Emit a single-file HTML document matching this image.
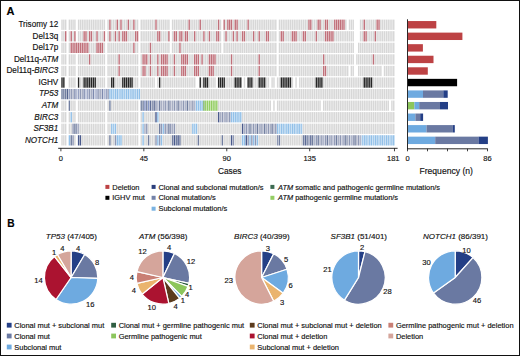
<!DOCTYPE html>
<html><head><meta charset="utf-8">
<style>
html,body{margin:0;padding:0;background:#fff;}
body{width:520px;height:356px;overflow:hidden;position:relative;}
#frame{position:absolute;left:0;top:0;width:520px;height:356px;box-sizing:border-box;border:1px solid #111;}
svg{position:absolute;left:0;top:0;font-family:"Liberation Sans", sans-serif;}
</style></head>
<body>
<svg width="520" height="356" viewBox="0 0 520 356">
<text x="6.6" y="14.6" font-size="11" text-anchor="start" font-weight="bold" font-style="normal" fill="#000" stroke="#000" stroke-width="0.15">A</text>
<text x="7.2" y="226.5" font-size="10.2" text-anchor="start" font-weight="bold" font-style="normal" fill="#000" stroke="#000" stroke-width="0.15">B</text>
<text x="58.3" y="27.10" font-size="8.15" text-anchor="end" font-weight="normal" font-style="normal" fill="#111" stroke="#111" stroke-width="0.15">Trisomy 12</text>
<text x="58.3" y="38.66" font-size="8.15" text-anchor="end" font-weight="normal" font-style="normal" fill="#111" stroke="#111" stroke-width="0.15">Del13q</text>
<text x="58.3" y="50.22" font-size="8.15" text-anchor="end" font-weight="normal" font-style="normal" fill="#111" stroke="#111" stroke-width="0.15">Del17p</text>
<text x="58.3" y="61.78" font-size="8.15" text-anchor="end" font-weight="normal" font-style="normal" fill="#111" stroke="#111" stroke-width="0.15">Del11q-<tspan font-style="italic">ATM</tspan></text>
<text x="58.3" y="73.34" font-size="8.15" text-anchor="end" font-weight="normal" font-style="normal" fill="#111" stroke="#111" stroke-width="0.15">Del11q-<tspan font-style="italic">BIRC3</tspan></text>
<text x="58.3" y="84.90" font-size="8.15" text-anchor="end" font-weight="normal" font-style="normal" fill="#111" stroke="#111" stroke-width="0.15">IGHV</text>
<text x="58.3" y="96.46" font-size="8.15" text-anchor="end" font-weight="normal" font-style="normal" fill="#111" stroke="#111" stroke-width="0.15"><tspan font-style="italic">TP53</tspan></text>
<text x="58.3" y="108.02" font-size="8.15" text-anchor="end" font-weight="normal" font-style="normal" fill="#111" stroke="#111" stroke-width="0.15"><tspan font-style="italic">ATM</tspan></text>
<text x="58.3" y="119.58" font-size="8.15" text-anchor="end" font-weight="normal" font-style="normal" fill="#111" stroke="#111" stroke-width="0.15"><tspan font-style="italic">BIRC3</tspan></text>
<text x="58.3" y="131.14" font-size="8.15" text-anchor="end" font-weight="normal" font-style="normal" fill="#111" stroke="#111" stroke-width="0.15"><tspan font-style="italic">SF3B1</tspan></text>
<text x="58.3" y="142.70" font-size="8.15" text-anchor="end" font-weight="normal" font-style="normal" fill="#111" stroke="#111" stroke-width="0.15"><tspan font-style="italic">NOTCH1</tspan></text>
<rect x="61.30" y="19.60" width="1.42" height="10.3" fill="#d7d7d7"/>
<rect x="63.14" y="19.60" width="1.42" height="10.3" fill="#d7d7d7"/>
<rect x="64.99" y="19.60" width="1.42" height="10.3" fill="#d7d7d7"/>
<rect x="68.67" y="19.60" width="1.42" height="10.3" fill="#d7d7d7"/>
<rect x="70.52" y="19.60" width="1.42" height="10.3" fill="#d7d7d7"/>
<rect x="72.36" y="19.60" width="1.42" height="10.3" fill="#d7d7d7"/>
<rect x="74.20" y="19.60" width="1.42" height="10.3" fill="#d7d7d7"/>
<rect x="77.89" y="19.60" width="1.42" height="10.3" fill="#d7d7d7"/>
<rect x="79.73" y="19.60" width="1.42" height="10.3" fill="#d7d7d7"/>
<rect x="81.57" y="19.60" width="1.42" height="10.3" fill="#d7d7d7"/>
<rect x="83.42" y="19.60" width="1.42" height="10.3" fill="#d7d7d7"/>
<rect x="85.26" y="19.60" width="1.42" height="10.3" fill="#d7d7d7"/>
<rect x="87.10" y="19.60" width="1.42" height="10.3" fill="#d7d7d7"/>
<rect x="88.94" y="19.60" width="1.42" height="10.3" fill="#d7d7d7"/>
<rect x="90.79" y="19.60" width="1.42" height="10.3" fill="#d7d7d7"/>
<rect x="92.63" y="19.60" width="1.42" height="10.3" fill="#d7d7d7"/>
<rect x="94.47" y="19.60" width="1.42" height="10.3" fill="#d7d7d7"/>
<rect x="96.32" y="19.60" width="1.42" height="10.3" fill="#d7d7d7"/>
<rect x="98.16" y="19.60" width="1.42" height="10.3" fill="#d7d7d7"/>
<rect x="100.00" y="19.60" width="1.42" height="10.3" fill="#d7d7d7"/>
<rect x="101.85" y="19.60" width="1.42" height="10.3" fill="#d7d7d7"/>
<rect x="103.69" y="19.60" width="1.42" height="10.3" fill="#d7d7d7"/>
<rect x="107.38" y="19.60" width="1.42" height="10.3" fill="#d7d7d7"/>
<rect x="109.22" y="19.60" width="1.42" height="10.3" fill="#c0707a"/>
<rect x="111.06" y="19.60" width="1.42" height="10.3" fill="#d7d7d7"/>
<rect x="112.90" y="19.60" width="1.42" height="10.3" fill="#d7d7d7"/>
<rect x="114.75" y="19.60" width="1.42" height="10.3" fill="#d7d7d7"/>
<rect x="116.59" y="19.60" width="1.42" height="10.3" fill="#c0707a"/>
<rect x="118.43" y="19.60" width="1.42" height="10.3" fill="#d7d7d7"/>
<rect x="120.28" y="19.60" width="1.42" height="10.3" fill="#c0707a"/>
<rect x="122.12" y="19.60" width="1.42" height="10.3" fill="#d7d7d7"/>
<rect x="123.96" y="19.60" width="1.42" height="10.3" fill="#d7d7d7"/>
<rect x="125.80" y="19.60" width="1.42" height="10.3" fill="#d7d7d7"/>
<rect x="127.65" y="19.60" width="1.42" height="10.3" fill="#c0707a"/>
<rect x="129.49" y="19.60" width="1.42" height="10.3" fill="#d7d7d7"/>
<rect x="131.33" y="19.60" width="1.42" height="10.3" fill="#d7d7d7"/>
<rect x="133.18" y="19.60" width="1.42" height="10.3" fill="#c0707a"/>
<rect x="135.02" y="19.60" width="1.42" height="10.3" fill="#d7d7d7"/>
<rect x="136.86" y="19.60" width="1.42" height="10.3" fill="#d7d7d7"/>
<rect x="140.55" y="19.60" width="1.42" height="10.3" fill="#d7d7d7"/>
<rect x="142.39" y="19.60" width="1.42" height="10.3" fill="#d7d7d7"/>
<rect x="144.24" y="19.60" width="1.42" height="10.3" fill="#d7d7d7"/>
<rect x="146.08" y="19.60" width="1.42" height="10.3" fill="#d7d7d7"/>
<rect x="147.92" y="19.60" width="1.42" height="10.3" fill="#d7d7d7"/>
<rect x="149.76" y="19.60" width="1.42" height="10.3" fill="#d7d7d7"/>
<rect x="151.61" y="19.60" width="1.42" height="10.3" fill="#d7d7d7"/>
<rect x="153.45" y="19.60" width="1.42" height="10.3" fill="#d7d7d7"/>
<rect x="155.29" y="19.60" width="1.42" height="10.3" fill="#c0707a"/>
<rect x="157.14" y="19.60" width="1.42" height="10.3" fill="#d7d7d7"/>
<rect x="158.98" y="19.60" width="1.42" height="10.3" fill="#d7d7d7"/>
<rect x="160.82" y="19.60" width="1.42" height="10.3" fill="#d7d7d7"/>
<rect x="162.66" y="19.60" width="1.42" height="10.3" fill="#d7d7d7"/>
<rect x="164.51" y="19.60" width="1.42" height="10.3" fill="#d7d7d7"/>
<rect x="166.35" y="19.60" width="1.42" height="10.3" fill="#d7d7d7"/>
<rect x="168.19" y="19.60" width="1.42" height="10.3" fill="#d7d7d7"/>
<rect x="171.88" y="19.60" width="1.42" height="10.3" fill="#d7d7d7"/>
<rect x="173.72" y="19.60" width="1.42" height="10.3" fill="#d7d7d7"/>
<rect x="175.57" y="19.60" width="1.42" height="10.3" fill="#d7d7d7"/>
<rect x="177.41" y="19.60" width="1.42" height="10.3" fill="#d7d7d7"/>
<rect x="179.25" y="19.60" width="1.42" height="10.3" fill="#d7d7d7"/>
<rect x="181.09" y="19.60" width="1.42" height="10.3" fill="#d7d7d7"/>
<rect x="182.94" y="19.60" width="1.42" height="10.3" fill="#d7d7d7"/>
<rect x="184.78" y="19.60" width="1.42" height="10.3" fill="#d7d7d7"/>
<rect x="186.62" y="19.60" width="1.42" height="10.3" fill="#d7d7d7"/>
<rect x="188.47" y="19.60" width="1.42" height="10.3" fill="#c0707a"/>
<rect x="190.31" y="19.60" width="1.42" height="10.3" fill="#d7d7d7"/>
<rect x="192.15" y="19.60" width="1.42" height="10.3" fill="#d7d7d7"/>
<rect x="194.00" y="19.60" width="1.42" height="10.3" fill="#d7d7d7"/>
<rect x="195.84" y="19.60" width="1.42" height="10.3" fill="#d7d7d7"/>
<rect x="197.68" y="19.60" width="1.42" height="10.3" fill="#d7d7d7"/>
<rect x="199.52" y="19.60" width="1.42" height="10.3" fill="#c0707a"/>
<rect x="201.37" y="19.60" width="1.42" height="10.3" fill="#d7d7d7"/>
<rect x="203.21" y="19.60" width="1.42" height="10.3" fill="#d7d7d7"/>
<rect x="205.05" y="19.60" width="1.42" height="10.3" fill="#d7d7d7"/>
<rect x="206.90" y="19.60" width="1.42" height="10.3" fill="#d7d7d7"/>
<rect x="208.74" y="19.60" width="1.42" height="10.3" fill="#d7d7d7"/>
<rect x="210.58" y="19.60" width="1.42" height="10.3" fill="#d7d7d7"/>
<rect x="212.43" y="19.60" width="1.42" height="10.3" fill="#d7d7d7"/>
<rect x="214.27" y="19.60" width="1.42" height="10.3" fill="#d7d7d7"/>
<rect x="216.11" y="19.60" width="1.42" height="10.3" fill="#d7d7d7"/>
<rect x="217.95" y="19.60" width="1.42" height="10.3" fill="#c0707a"/>
<rect x="219.80" y="19.60" width="1.42" height="10.3" fill="#d7d7d7"/>
<rect x="223.48" y="19.60" width="1.42" height="10.3" fill="#c0707a"/>
<rect x="225.33" y="19.60" width="1.42" height="10.3" fill="#d7d7d7"/>
<rect x="227.17" y="19.60" width="1.42" height="10.3" fill="#c0707a"/>
<rect x="229.01" y="19.60" width="1.42" height="10.3" fill="#c0707a"/>
<rect x="230.86" y="19.60" width="1.42" height="10.3" fill="#c0707a"/>
<rect x="232.70" y="19.60" width="1.42" height="10.3" fill="#d7d7d7"/>
<rect x="234.54" y="19.60" width="1.42" height="10.3" fill="#c0707a"/>
<rect x="236.38" y="19.60" width="1.42" height="10.3" fill="#c0707a"/>
<rect x="238.23" y="19.60" width="1.42" height="10.3" fill="#d7d7d7"/>
<rect x="240.07" y="19.60" width="1.42" height="10.3" fill="#d7d7d7"/>
<rect x="241.91" y="19.60" width="1.42" height="10.3" fill="#d7d7d7"/>
<rect x="243.76" y="19.60" width="1.42" height="10.3" fill="#d7d7d7"/>
<rect x="245.60" y="19.60" width="1.42" height="10.3" fill="#d7d7d7"/>
<rect x="247.44" y="19.60" width="1.42" height="10.3" fill="#c0707a"/>
<rect x="249.29" y="19.60" width="1.42" height="10.3" fill="#d7d7d7"/>
<rect x="251.13" y="19.60" width="1.42" height="10.3" fill="#d7d7d7"/>
<rect x="252.97" y="19.60" width="1.42" height="10.3" fill="#d7d7d7"/>
<rect x="254.81" y="19.60" width="1.42" height="10.3" fill="#d7d7d7"/>
<rect x="256.66" y="19.60" width="1.42" height="10.3" fill="#d7d7d7"/>
<rect x="258.50" y="19.60" width="1.42" height="10.3" fill="#d7d7d7"/>
<rect x="260.34" y="19.60" width="1.42" height="10.3" fill="#d7d7d7"/>
<rect x="262.19" y="19.60" width="1.42" height="10.3" fill="#d7d7d7"/>
<rect x="264.03" y="19.60" width="1.42" height="10.3" fill="#d7d7d7"/>
<rect x="265.87" y="19.60" width="1.42" height="10.3" fill="#d7d7d7"/>
<rect x="267.72" y="19.60" width="1.42" height="10.3" fill="#d7d7d7"/>
<rect x="269.56" y="19.60" width="1.42" height="10.3" fill="#d7d7d7"/>
<rect x="271.40" y="19.60" width="1.42" height="10.3" fill="#d7d7d7"/>
<rect x="273.25" y="19.60" width="1.42" height="10.3" fill="#d7d7d7"/>
<rect x="275.09" y="19.60" width="1.42" height="10.3" fill="#d7d7d7"/>
<rect x="278.77" y="19.60" width="1.42" height="10.3" fill="#d7d7d7"/>
<rect x="280.62" y="19.60" width="1.42" height="10.3" fill="#d7d7d7"/>
<rect x="282.46" y="19.60" width="1.42" height="10.3" fill="#d7d7d7"/>
<rect x="284.30" y="19.60" width="1.42" height="10.3" fill="#d7d7d7"/>
<rect x="286.15" y="19.60" width="1.42" height="10.3" fill="#d7d7d7"/>
<rect x="287.99" y="19.60" width="1.42" height="10.3" fill="#d7d7d7"/>
<rect x="289.83" y="19.60" width="1.42" height="10.3" fill="#d7d7d7"/>
<rect x="291.68" y="19.60" width="1.42" height="10.3" fill="#d7d7d7"/>
<rect x="293.52" y="19.60" width="1.42" height="10.3" fill="#d7d7d7"/>
<rect x="295.36" y="19.60" width="1.42" height="10.3" fill="#d7d7d7"/>
<rect x="297.20" y="19.60" width="1.42" height="10.3" fill="#d7d7d7"/>
<rect x="299.05" y="19.60" width="1.42" height="10.3" fill="#d7d7d7"/>
<rect x="300.89" y="19.60" width="1.42" height="10.3" fill="#d7d7d7"/>
<rect x="302.73" y="19.60" width="1.42" height="10.3" fill="#d7d7d7"/>
<rect x="304.58" y="19.60" width="1.42" height="10.3" fill="#d7d7d7"/>
<rect x="306.42" y="19.60" width="1.42" height="10.3" fill="#d7d7d7"/>
<rect x="308.26" y="19.60" width="1.42" height="10.3" fill="#c0707a"/>
<rect x="310.11" y="19.60" width="1.42" height="10.3" fill="#c0707a"/>
<rect x="311.95" y="19.60" width="1.42" height="10.3" fill="#d7d7d7"/>
<rect x="313.79" y="19.60" width="1.42" height="10.3" fill="#d7d7d7"/>
<rect x="315.63" y="19.60" width="1.42" height="10.3" fill="#d7d7d7"/>
<rect x="317.48" y="19.60" width="1.42" height="10.3" fill="#c0707a"/>
<rect x="319.32" y="19.60" width="1.42" height="10.3" fill="#c0707a"/>
<rect x="321.16" y="19.60" width="1.42" height="10.3" fill="#d7d7d7"/>
<rect x="323.01" y="19.60" width="1.42" height="10.3" fill="#d7d7d7"/>
<rect x="324.85" y="19.60" width="1.42" height="10.3" fill="#c0707a"/>
<rect x="326.69" y="19.60" width="1.42" height="10.3" fill="#c0707a"/>
<rect x="328.54" y="19.60" width="1.42" height="10.3" fill="#d7d7d7"/>
<rect x="330.38" y="19.60" width="1.42" height="10.3" fill="#d7d7d7"/>
<rect x="332.22" y="19.60" width="1.42" height="10.3" fill="#d7d7d7"/>
<rect x="334.06" y="19.60" width="1.42" height="10.3" fill="#c0707a"/>
<rect x="335.91" y="19.60" width="1.42" height="10.3" fill="#c0707a"/>
<rect x="337.75" y="19.60" width="1.42" height="10.3" fill="#c0707a"/>
<rect x="339.59" y="19.60" width="1.42" height="10.3" fill="#c0707a"/>
<rect x="341.44" y="19.60" width="1.42" height="10.3" fill="#c0707a"/>
<rect x="343.28" y="19.60" width="1.42" height="10.3" fill="#c0707a"/>
<rect x="345.12" y="19.60" width="1.42" height="10.3" fill="#d7d7d7"/>
<rect x="348.81" y="19.60" width="1.42" height="10.3" fill="#d7d7d7"/>
<rect x="350.65" y="19.60" width="1.42" height="10.3" fill="#d7d7d7"/>
<rect x="352.49" y="19.60" width="1.42" height="10.3" fill="#d7d7d7"/>
<rect x="359.87" y="19.60" width="1.42" height="10.3" fill="#d7d7d7"/>
<rect x="361.71" y="19.60" width="1.42" height="10.3" fill="#d7d7d7"/>
<rect x="363.55" y="19.60" width="1.42" height="10.3" fill="#c0707a"/>
<rect x="365.39" y="19.60" width="1.42" height="10.3" fill="#d7d7d7"/>
<rect x="367.24" y="19.60" width="1.42" height="10.3" fill="#d7d7d7"/>
<rect x="369.08" y="19.60" width="1.42" height="10.3" fill="#d7d7d7"/>
<rect x="370.92" y="19.60" width="1.42" height="10.3" fill="#d7d7d7"/>
<rect x="372.77" y="19.60" width="1.42" height="10.3" fill="#d7d7d7"/>
<rect x="374.61" y="19.60" width="1.42" height="10.3" fill="#d7d7d7"/>
<rect x="376.45" y="19.60" width="1.42" height="10.3" fill="#c0707a"/>
<rect x="378.30" y="19.60" width="1.42" height="10.3" fill="#c0707a"/>
<rect x="380.14" y="19.60" width="1.42" height="10.3" fill="#d7d7d7"/>
<rect x="381.98" y="19.60" width="1.42" height="10.3" fill="#d7d7d7"/>
<rect x="383.82" y="19.60" width="1.42" height="10.3" fill="#d7d7d7"/>
<rect x="385.67" y="19.60" width="1.42" height="10.3" fill="#d7d7d7"/>
<rect x="387.51" y="19.60" width="1.42" height="10.3" fill="#d7d7d7"/>
<rect x="389.35" y="19.60" width="1.42" height="10.3" fill="#d7d7d7"/>
<rect x="391.20" y="19.60" width="1.42" height="10.3" fill="#d7d7d7"/>
<rect x="393.04" y="19.60" width="1.42" height="10.3" fill="#d7d7d7"/>
<rect x="61.30" y="31.16" width="1.42" height="10.3" fill="#d7d7d7"/>
<rect x="63.14" y="31.16" width="1.42" height="10.3" fill="#d7d7d7"/>
<rect x="64.99" y="31.16" width="1.42" height="10.3" fill="#c0707a"/>
<rect x="68.67" y="31.16" width="1.42" height="10.3" fill="#d7d7d7"/>
<rect x="70.52" y="31.16" width="1.42" height="10.3" fill="#c0707a"/>
<rect x="72.36" y="31.16" width="1.42" height="10.3" fill="#d7d7d7"/>
<rect x="74.20" y="31.16" width="1.42" height="10.3" fill="#c0707a"/>
<rect x="77.89" y="31.16" width="1.42" height="10.3" fill="#d7d7d7"/>
<rect x="79.73" y="31.16" width="1.42" height="10.3" fill="#d7d7d7"/>
<rect x="81.57" y="31.16" width="1.42" height="10.3" fill="#d7d7d7"/>
<rect x="83.42" y="31.16" width="1.42" height="10.3" fill="#c0707a"/>
<rect x="85.26" y="31.16" width="1.42" height="10.3" fill="#c0707a"/>
<rect x="87.10" y="31.16" width="1.42" height="10.3" fill="#d7d7d7"/>
<rect x="88.94" y="31.16" width="1.42" height="10.3" fill="#c0707a"/>
<rect x="90.79" y="31.16" width="1.42" height="10.3" fill="#c0707a"/>
<rect x="92.63" y="31.16" width="1.42" height="10.3" fill="#d7d7d7"/>
<rect x="94.47" y="31.16" width="1.42" height="10.3" fill="#d7d7d7"/>
<rect x="96.32" y="31.16" width="1.42" height="10.3" fill="#c0707a"/>
<rect x="98.16" y="31.16" width="1.42" height="10.3" fill="#d7d7d7"/>
<rect x="100.00" y="31.16" width="1.42" height="10.3" fill="#d7d7d7"/>
<rect x="101.85" y="31.16" width="1.42" height="10.3" fill="#d7d7d7"/>
<rect x="103.69" y="31.16" width="1.42" height="10.3" fill="#c0707a"/>
<rect x="107.38" y="31.16" width="1.42" height="10.3" fill="#d7d7d7"/>
<rect x="109.22" y="31.16" width="1.42" height="10.3" fill="#c0707a"/>
<rect x="111.06" y="31.16" width="1.42" height="10.3" fill="#d7d7d7"/>
<rect x="112.90" y="31.16" width="1.42" height="10.3" fill="#d7d7d7"/>
<rect x="114.75" y="31.16" width="1.42" height="10.3" fill="#c0707a"/>
<rect x="116.59" y="31.16" width="1.42" height="10.3" fill="#d7d7d7"/>
<rect x="118.43" y="31.16" width="1.42" height="10.3" fill="#c0707a"/>
<rect x="120.28" y="31.16" width="1.42" height="10.3" fill="#d7d7d7"/>
<rect x="122.12" y="31.16" width="1.42" height="10.3" fill="#c0707a"/>
<rect x="123.96" y="31.16" width="1.42" height="10.3" fill="#c0707a"/>
<rect x="125.80" y="31.16" width="1.42" height="10.3" fill="#c0707a"/>
<rect x="127.65" y="31.16" width="1.42" height="10.3" fill="#d7d7d7"/>
<rect x="129.49" y="31.16" width="1.42" height="10.3" fill="#d7d7d7"/>
<rect x="131.33" y="31.16" width="1.42" height="10.3" fill="#d7d7d7"/>
<rect x="133.18" y="31.16" width="1.42" height="10.3" fill="#d7d7d7"/>
<rect x="135.02" y="31.16" width="1.42" height="10.3" fill="#c0707a"/>
<rect x="136.86" y="31.16" width="1.42" height="10.3" fill="#c0707a"/>
<rect x="140.55" y="31.16" width="1.42" height="10.3" fill="#d7d7d7"/>
<rect x="142.39" y="31.16" width="1.42" height="10.3" fill="#d7d7d7"/>
<rect x="144.24" y="31.16" width="1.42" height="10.3" fill="#d7d7d7"/>
<rect x="146.08" y="31.16" width="1.42" height="10.3" fill="#d7d7d7"/>
<rect x="147.92" y="31.16" width="1.42" height="10.3" fill="#d7d7d7"/>
<rect x="149.76" y="31.16" width="1.42" height="10.3" fill="#d7d7d7"/>
<rect x="151.61" y="31.16" width="1.42" height="10.3" fill="#d7d7d7"/>
<rect x="153.45" y="31.16" width="1.42" height="10.3" fill="#d7d7d7"/>
<rect x="155.29" y="31.16" width="1.42" height="10.3" fill="#d7d7d7"/>
<rect x="157.14" y="31.16" width="1.42" height="10.3" fill="#c0707a"/>
<rect x="158.98" y="31.16" width="1.42" height="10.3" fill="#c0707a"/>
<rect x="160.82" y="31.16" width="1.42" height="10.3" fill="#d7d7d7"/>
<rect x="162.66" y="31.16" width="1.42" height="10.3" fill="#d7d7d7"/>
<rect x="164.51" y="31.16" width="1.42" height="10.3" fill="#d7d7d7"/>
<rect x="166.35" y="31.16" width="1.42" height="10.3" fill="#d7d7d7"/>
<rect x="168.19" y="31.16" width="1.42" height="10.3" fill="#c0707a"/>
<rect x="171.88" y="31.16" width="1.42" height="10.3" fill="#d7d7d7"/>
<rect x="173.72" y="31.16" width="1.42" height="10.3" fill="#c0707a"/>
<rect x="175.57" y="31.16" width="1.42" height="10.3" fill="#c0707a"/>
<rect x="177.41" y="31.16" width="1.42" height="10.3" fill="#d7d7d7"/>
<rect x="179.25" y="31.16" width="1.42" height="10.3" fill="#c0707a"/>
<rect x="181.09" y="31.16" width="1.42" height="10.3" fill="#c0707a"/>
<rect x="182.94" y="31.16" width="1.42" height="10.3" fill="#d7d7d7"/>
<rect x="184.78" y="31.16" width="1.42" height="10.3" fill="#c0707a"/>
<rect x="186.62" y="31.16" width="1.42" height="10.3" fill="#c0707a"/>
<rect x="188.47" y="31.16" width="1.42" height="10.3" fill="#d7d7d7"/>
<rect x="190.31" y="31.16" width="1.42" height="10.3" fill="#d7d7d7"/>
<rect x="192.15" y="31.16" width="1.42" height="10.3" fill="#d7d7d7"/>
<rect x="194.00" y="31.16" width="1.42" height="10.3" fill="#c0707a"/>
<rect x="195.84" y="31.16" width="1.42" height="10.3" fill="#d7d7d7"/>
<rect x="197.68" y="31.16" width="1.42" height="10.3" fill="#d7d7d7"/>
<rect x="199.52" y="31.16" width="1.42" height="10.3" fill="#d7d7d7"/>
<rect x="201.37" y="31.16" width="1.42" height="10.3" fill="#d7d7d7"/>
<rect x="203.21" y="31.16" width="1.42" height="10.3" fill="#c0707a"/>
<rect x="205.05" y="31.16" width="1.42" height="10.3" fill="#d7d7d7"/>
<rect x="206.90" y="31.16" width="1.42" height="10.3" fill="#d7d7d7"/>
<rect x="208.74" y="31.16" width="1.42" height="10.3" fill="#c0707a"/>
<rect x="210.58" y="31.16" width="1.42" height="10.3" fill="#d7d7d7"/>
<rect x="212.43" y="31.16" width="1.42" height="10.3" fill="#d7d7d7"/>
<rect x="214.27" y="31.16" width="1.42" height="10.3" fill="#d7d7d7"/>
<rect x="216.11" y="31.16" width="1.42" height="10.3" fill="#c0707a"/>
<rect x="217.95" y="31.16" width="1.42" height="10.3" fill="#c0707a"/>
<rect x="219.80" y="31.16" width="1.42" height="10.3" fill="#d7d7d7"/>
<rect x="223.48" y="31.16" width="1.42" height="10.3" fill="#d7d7d7"/>
<rect x="225.33" y="31.16" width="1.42" height="10.3" fill="#c0707a"/>
<rect x="227.17" y="31.16" width="1.42" height="10.3" fill="#d7d7d7"/>
<rect x="229.01" y="31.16" width="1.42" height="10.3" fill="#d7d7d7"/>
<rect x="230.86" y="31.16" width="1.42" height="10.3" fill="#d7d7d7"/>
<rect x="232.70" y="31.16" width="1.42" height="10.3" fill="#c0707a"/>
<rect x="234.54" y="31.16" width="1.42" height="10.3" fill="#d7d7d7"/>
<rect x="236.38" y="31.16" width="1.42" height="10.3" fill="#c0707a"/>
<rect x="238.23" y="31.16" width="1.42" height="10.3" fill="#d7d7d7"/>
<rect x="240.07" y="31.16" width="1.42" height="10.3" fill="#d7d7d7"/>
<rect x="241.91" y="31.16" width="1.42" height="10.3" fill="#c0707a"/>
<rect x="243.76" y="31.16" width="1.42" height="10.3" fill="#c0707a"/>
<rect x="245.60" y="31.16" width="1.42" height="10.3" fill="#d7d7d7"/>
<rect x="247.44" y="31.16" width="1.42" height="10.3" fill="#d7d7d7"/>
<rect x="249.29" y="31.16" width="1.42" height="10.3" fill="#d7d7d7"/>
<rect x="251.13" y="31.16" width="1.42" height="10.3" fill="#d7d7d7"/>
<rect x="252.97" y="31.16" width="1.42" height="10.3" fill="#c0707a"/>
<rect x="254.81" y="31.16" width="1.42" height="10.3" fill="#d7d7d7"/>
<rect x="256.66" y="31.16" width="1.42" height="10.3" fill="#d7d7d7"/>
<rect x="258.50" y="31.16" width="1.42" height="10.3" fill="#c0707a"/>
<rect x="260.34" y="31.16" width="1.42" height="10.3" fill="#d7d7d7"/>
<rect x="262.19" y="31.16" width="1.42" height="10.3" fill="#d7d7d7"/>
<rect x="264.03" y="31.16" width="1.42" height="10.3" fill="#d7d7d7"/>
<rect x="265.87" y="31.16" width="1.42" height="10.3" fill="#c0707a"/>
<rect x="267.72" y="31.16" width="1.42" height="10.3" fill="#c0707a"/>
<rect x="269.56" y="31.16" width="1.42" height="10.3" fill="#d7d7d7"/>
<rect x="271.40" y="31.16" width="1.42" height="10.3" fill="#d7d7d7"/>
<rect x="273.25" y="31.16" width="1.42" height="10.3" fill="#d7d7d7"/>
<rect x="275.09" y="31.16" width="1.42" height="10.3" fill="#d7d7d7"/>
<rect x="278.77" y="31.16" width="1.42" height="10.3" fill="#d7d7d7"/>
<rect x="280.62" y="31.16" width="1.42" height="10.3" fill="#c0707a"/>
<rect x="282.46" y="31.16" width="1.42" height="10.3" fill="#c0707a"/>
<rect x="284.30" y="31.16" width="1.42" height="10.3" fill="#d7d7d7"/>
<rect x="286.15" y="31.16" width="1.42" height="10.3" fill="#d7d7d7"/>
<rect x="287.99" y="31.16" width="1.42" height="10.3" fill="#d7d7d7"/>
<rect x="289.83" y="31.16" width="1.42" height="10.3" fill="#d7d7d7"/>
<rect x="291.68" y="31.16" width="1.42" height="10.3" fill="#c0707a"/>
<rect x="293.52" y="31.16" width="1.42" height="10.3" fill="#c0707a"/>
<rect x="295.36" y="31.16" width="1.42" height="10.3" fill="#c0707a"/>
<rect x="297.20" y="31.16" width="1.42" height="10.3" fill="#d7d7d7"/>
<rect x="299.05" y="31.16" width="1.42" height="10.3" fill="#d7d7d7"/>
<rect x="300.89" y="31.16" width="1.42" height="10.3" fill="#d7d7d7"/>
<rect x="302.73" y="31.16" width="1.42" height="10.3" fill="#c0707a"/>
<rect x="304.58" y="31.16" width="1.42" height="10.3" fill="#c0707a"/>
<rect x="306.42" y="31.16" width="1.42" height="10.3" fill="#d7d7d7"/>
<rect x="308.26" y="31.16" width="1.42" height="10.3" fill="#d7d7d7"/>
<rect x="310.11" y="31.16" width="1.42" height="10.3" fill="#d7d7d7"/>
<rect x="311.95" y="31.16" width="1.42" height="10.3" fill="#d7d7d7"/>
<rect x="313.79" y="31.16" width="1.42" height="10.3" fill="#d7d7d7"/>
<rect x="315.63" y="31.16" width="1.42" height="10.3" fill="#c0707a"/>
<rect x="317.48" y="31.16" width="1.42" height="10.3" fill="#d7d7d7"/>
<rect x="319.32" y="31.16" width="1.42" height="10.3" fill="#d7d7d7"/>
<rect x="321.16" y="31.16" width="1.42" height="10.3" fill="#d7d7d7"/>
<rect x="323.01" y="31.16" width="1.42" height="10.3" fill="#d7d7d7"/>
<rect x="324.85" y="31.16" width="1.42" height="10.3" fill="#c0707a"/>
<rect x="326.69" y="31.16" width="1.42" height="10.3" fill="#c0707a"/>
<rect x="328.54" y="31.16" width="1.42" height="10.3" fill="#c0707a"/>
<rect x="330.38" y="31.16" width="1.42" height="10.3" fill="#c0707a"/>
<rect x="332.22" y="31.16" width="1.42" height="10.3" fill="#c0707a"/>
<rect x="334.06" y="31.16" width="1.42" height="10.3" fill="#d7d7d7"/>
<rect x="335.91" y="31.16" width="1.42" height="10.3" fill="#d7d7d7"/>
<rect x="337.75" y="31.16" width="1.42" height="10.3" fill="#d7d7d7"/>
<rect x="339.59" y="31.16" width="1.42" height="10.3" fill="#d7d7d7"/>
<rect x="341.44" y="31.16" width="1.42" height="10.3" fill="#d7d7d7"/>
<rect x="343.28" y="31.16" width="1.42" height="10.3" fill="#d7d7d7"/>
<rect x="345.12" y="31.16" width="1.42" height="10.3" fill="#d7d7d7"/>
<rect x="346.97" y="31.16" width="1.42" height="10.3" fill="#d7d7d7"/>
<rect x="348.81" y="31.16" width="1.42" height="10.3" fill="#d7d7d7"/>
<rect x="350.65" y="31.16" width="1.42" height="10.3" fill="#d7d7d7"/>
<rect x="352.49" y="31.16" width="1.42" height="10.3" fill="#d7d7d7"/>
<rect x="359.87" y="31.16" width="1.42" height="10.3" fill="#d7d7d7"/>
<rect x="361.71" y="31.16" width="1.42" height="10.3" fill="#d7d7d7"/>
<rect x="363.55" y="31.16" width="1.42" height="10.3" fill="#c0707a"/>
<rect x="365.39" y="31.16" width="1.42" height="10.3" fill="#c0707a"/>
<rect x="367.24" y="31.16" width="1.42" height="10.3" fill="#d7d7d7"/>
<rect x="369.08" y="31.16" width="1.42" height="10.3" fill="#d7d7d7"/>
<rect x="370.92" y="31.16" width="1.42" height="10.3" fill="#d7d7d7"/>
<rect x="372.77" y="31.16" width="1.42" height="10.3" fill="#d7d7d7"/>
<rect x="374.61" y="31.16" width="1.42" height="10.3" fill="#c0707a"/>
<rect x="376.45" y="31.16" width="1.42" height="10.3" fill="#d7d7d7"/>
<rect x="378.30" y="31.16" width="1.42" height="10.3" fill="#d7d7d7"/>
<rect x="380.14" y="31.16" width="1.42" height="10.3" fill="#d7d7d7"/>
<rect x="381.98" y="31.16" width="1.42" height="10.3" fill="#d7d7d7"/>
<rect x="383.82" y="31.16" width="1.42" height="10.3" fill="#d7d7d7"/>
<rect x="385.67" y="31.16" width="1.42" height="10.3" fill="#d7d7d7"/>
<rect x="387.51" y="31.16" width="1.42" height="10.3" fill="#d7d7d7"/>
<rect x="389.35" y="31.16" width="1.42" height="10.3" fill="#d7d7d7"/>
<rect x="391.20" y="31.16" width="1.42" height="10.3" fill="#d7d7d7"/>
<rect x="393.04" y="31.16" width="1.42" height="10.3" fill="#d7d7d7"/>
<rect x="61.30" y="42.72" width="1.42" height="10.3" fill="#d7d7d7"/>
<rect x="63.14" y="42.72" width="1.42" height="10.3" fill="#d7d7d7"/>
<rect x="64.99" y="42.72" width="1.42" height="10.3" fill="#d7d7d7"/>
<rect x="68.67" y="42.72" width="1.42" height="10.3" fill="#d7d7d7"/>
<rect x="70.52" y="42.72" width="1.42" height="10.3" fill="#c0707a"/>
<rect x="72.36" y="42.72" width="1.42" height="10.3" fill="#c0707a"/>
<rect x="74.20" y="42.72" width="1.42" height="10.3" fill="#c0707a"/>
<rect x="76.04" y="42.72" width="1.42" height="10.3" fill="#c0707a"/>
<rect x="77.89" y="42.72" width="1.42" height="10.3" fill="#c0707a"/>
<rect x="79.73" y="42.72" width="1.42" height="10.3" fill="#c0707a"/>
<rect x="81.57" y="42.72" width="1.42" height="10.3" fill="#c0707a"/>
<rect x="83.42" y="42.72" width="1.42" height="10.3" fill="#c0707a"/>
<rect x="85.26" y="42.72" width="1.42" height="10.3" fill="#c0707a"/>
<rect x="87.10" y="42.72" width="1.42" height="10.3" fill="#c0707a"/>
<rect x="88.94" y="42.72" width="1.42" height="10.3" fill="#d7d7d7"/>
<rect x="90.79" y="42.72" width="1.42" height="10.3" fill="#d7d7d7"/>
<rect x="92.63" y="42.72" width="1.42" height="10.3" fill="#d7d7d7"/>
<rect x="94.47" y="42.72" width="1.42" height="10.3" fill="#d7d7d7"/>
<rect x="96.32" y="42.72" width="1.42" height="10.3" fill="#c0707a"/>
<rect x="98.16" y="42.72" width="1.42" height="10.3" fill="#c0707a"/>
<rect x="100.00" y="42.72" width="1.42" height="10.3" fill="#c0707a"/>
<rect x="101.85" y="42.72" width="1.42" height="10.3" fill="#c0707a"/>
<rect x="103.69" y="42.72" width="1.42" height="10.3" fill="#d7d7d7"/>
<rect x="107.38" y="42.72" width="1.42" height="10.3" fill="#d7d7d7"/>
<rect x="109.22" y="42.72" width="1.42" height="10.3" fill="#d7d7d7"/>
<rect x="111.06" y="42.72" width="1.42" height="10.3" fill="#d7d7d7"/>
<rect x="112.90" y="42.72" width="1.42" height="10.3" fill="#d7d7d7"/>
<rect x="114.75" y="42.72" width="1.42" height="10.3" fill="#d7d7d7"/>
<rect x="116.59" y="42.72" width="1.42" height="10.3" fill="#d7d7d7"/>
<rect x="118.43" y="42.72" width="1.42" height="10.3" fill="#d7d7d7"/>
<rect x="120.28" y="42.72" width="1.42" height="10.3" fill="#d7d7d7"/>
<rect x="122.12" y="42.72" width="1.42" height="10.3" fill="#d7d7d7"/>
<rect x="123.96" y="42.72" width="1.42" height="10.3" fill="#d7d7d7"/>
<rect x="125.80" y="42.72" width="1.42" height="10.3" fill="#d7d7d7"/>
<rect x="127.65" y="42.72" width="1.42" height="10.3" fill="#d7d7d7"/>
<rect x="129.49" y="42.72" width="1.42" height="10.3" fill="#d7d7d7"/>
<rect x="131.33" y="42.72" width="1.42" height="10.3" fill="#d7d7d7"/>
<rect x="133.18" y="42.72" width="1.42" height="10.3" fill="#c0707a"/>
<rect x="135.02" y="42.72" width="1.42" height="10.3" fill="#d7d7d7"/>
<rect x="136.86" y="42.72" width="1.42" height="10.3" fill="#d7d7d7"/>
<rect x="140.55" y="42.72" width="1.42" height="10.3" fill="#d7d7d7"/>
<rect x="142.39" y="42.72" width="1.42" height="10.3" fill="#d7d7d7"/>
<rect x="144.24" y="42.72" width="1.42" height="10.3" fill="#d7d7d7"/>
<rect x="146.08" y="42.72" width="1.42" height="10.3" fill="#d7d7d7"/>
<rect x="147.92" y="42.72" width="1.42" height="10.3" fill="#d7d7d7"/>
<rect x="149.76" y="42.72" width="1.42" height="10.3" fill="#c0707a"/>
<rect x="151.61" y="42.72" width="1.42" height="10.3" fill="#d7d7d7"/>
<rect x="153.45" y="42.72" width="1.42" height="10.3" fill="#d7d7d7"/>
<rect x="155.29" y="42.72" width="1.42" height="10.3" fill="#d7d7d7"/>
<rect x="157.14" y="42.72" width="1.42" height="10.3" fill="#d7d7d7"/>
<rect x="158.98" y="42.72" width="1.42" height="10.3" fill="#d7d7d7"/>
<rect x="160.82" y="42.72" width="1.42" height="10.3" fill="#d7d7d7"/>
<rect x="162.66" y="42.72" width="1.42" height="10.3" fill="#d7d7d7"/>
<rect x="164.51" y="42.72" width="1.42" height="10.3" fill="#d7d7d7"/>
<rect x="166.35" y="42.72" width="1.42" height="10.3" fill="#d7d7d7"/>
<rect x="168.19" y="42.72" width="1.42" height="10.3" fill="#d7d7d7"/>
<rect x="171.88" y="42.72" width="1.42" height="10.3" fill="#d7d7d7"/>
<rect x="173.72" y="42.72" width="1.42" height="10.3" fill="#d7d7d7"/>
<rect x="175.57" y="42.72" width="1.42" height="10.3" fill="#d7d7d7"/>
<rect x="177.41" y="42.72" width="1.42" height="10.3" fill="#d7d7d7"/>
<rect x="179.25" y="42.72" width="1.42" height="10.3" fill="#c0707a"/>
<rect x="181.09" y="42.72" width="1.42" height="10.3" fill="#d7d7d7"/>
<rect x="182.94" y="42.72" width="1.42" height="10.3" fill="#d7d7d7"/>
<rect x="184.78" y="42.72" width="1.42" height="10.3" fill="#d7d7d7"/>
<rect x="186.62" y="42.72" width="1.42" height="10.3" fill="#d7d7d7"/>
<rect x="188.47" y="42.72" width="1.42" height="10.3" fill="#d7d7d7"/>
<rect x="190.31" y="42.72" width="1.42" height="10.3" fill="#d7d7d7"/>
<rect x="192.15" y="42.72" width="1.42" height="10.3" fill="#d7d7d7"/>
<rect x="194.00" y="42.72" width="1.42" height="10.3" fill="#d7d7d7"/>
<rect x="195.84" y="42.72" width="1.42" height="10.3" fill="#d7d7d7"/>
<rect x="197.68" y="42.72" width="1.42" height="10.3" fill="#d7d7d7"/>
<rect x="199.52" y="42.72" width="1.42" height="10.3" fill="#d7d7d7"/>
<rect x="201.37" y="42.72" width="1.42" height="10.3" fill="#d7d7d7"/>
<rect x="203.21" y="42.72" width="1.42" height="10.3" fill="#d7d7d7"/>
<rect x="205.05" y="42.72" width="1.42" height="10.3" fill="#d7d7d7"/>
<rect x="206.90" y="42.72" width="1.42" height="10.3" fill="#d7d7d7"/>
<rect x="208.74" y="42.72" width="1.42" height="10.3" fill="#d7d7d7"/>
<rect x="210.58" y="42.72" width="1.42" height="10.3" fill="#d7d7d7"/>
<rect x="212.43" y="42.72" width="1.42" height="10.3" fill="#d7d7d7"/>
<rect x="214.27" y="42.72" width="1.42" height="10.3" fill="#d7d7d7"/>
<rect x="216.11" y="42.72" width="1.42" height="10.3" fill="#d7d7d7"/>
<rect x="217.95" y="42.72" width="1.42" height="10.3" fill="#d7d7d7"/>
<rect x="219.80" y="42.72" width="1.42" height="10.3" fill="#d7d7d7"/>
<rect x="223.48" y="42.72" width="1.42" height="10.3" fill="#d7d7d7"/>
<rect x="225.33" y="42.72" width="1.42" height="10.3" fill="#d7d7d7"/>
<rect x="227.17" y="42.72" width="1.42" height="10.3" fill="#d7d7d7"/>
<rect x="229.01" y="42.72" width="1.42" height="10.3" fill="#d7d7d7"/>
<rect x="230.86" y="42.72" width="1.42" height="10.3" fill="#d7d7d7"/>
<rect x="232.70" y="42.72" width="1.42" height="10.3" fill="#d7d7d7"/>
<rect x="234.54" y="42.72" width="1.42" height="10.3" fill="#d7d7d7"/>
<rect x="236.38" y="42.72" width="1.42" height="10.3" fill="#d7d7d7"/>
<rect x="238.23" y="42.72" width="1.42" height="10.3" fill="#d7d7d7"/>
<rect x="240.07" y="42.72" width="1.42" height="10.3" fill="#d7d7d7"/>
<rect x="241.91" y="42.72" width="1.42" height="10.3" fill="#d7d7d7"/>
<rect x="243.76" y="42.72" width="1.42" height="10.3" fill="#d7d7d7"/>
<rect x="245.60" y="42.72" width="1.42" height="10.3" fill="#d7d7d7"/>
<rect x="247.44" y="42.72" width="1.42" height="10.3" fill="#d7d7d7"/>
<rect x="249.29" y="42.72" width="1.42" height="10.3" fill="#d7d7d7"/>
<rect x="251.13" y="42.72" width="1.42" height="10.3" fill="#d7d7d7"/>
<rect x="252.97" y="42.72" width="1.42" height="10.3" fill="#d7d7d7"/>
<rect x="254.81" y="42.72" width="1.42" height="10.3" fill="#d7d7d7"/>
<rect x="256.66" y="42.72" width="1.42" height="10.3" fill="#d7d7d7"/>
<rect x="258.50" y="42.72" width="1.42" height="10.3" fill="#d7d7d7"/>
<rect x="260.34" y="42.72" width="1.42" height="10.3" fill="#d7d7d7"/>
<rect x="262.19" y="42.72" width="1.42" height="10.3" fill="#d7d7d7"/>
<rect x="264.03" y="42.72" width="1.42" height="10.3" fill="#d7d7d7"/>
<rect x="265.87" y="42.72" width="1.42" height="10.3" fill="#d7d7d7"/>
<rect x="267.72" y="42.72" width="1.42" height="10.3" fill="#d7d7d7"/>
<rect x="269.56" y="42.72" width="1.42" height="10.3" fill="#d7d7d7"/>
<rect x="271.40" y="42.72" width="1.42" height="10.3" fill="#d7d7d7"/>
<rect x="273.25" y="42.72" width="1.42" height="10.3" fill="#d7d7d7"/>
<rect x="275.09" y="42.72" width="1.42" height="10.3" fill="#d7d7d7"/>
<rect x="278.77" y="42.72" width="1.42" height="10.3" fill="#d7d7d7"/>
<rect x="280.62" y="42.72" width="1.42" height="10.3" fill="#d7d7d7"/>
<rect x="282.46" y="42.72" width="1.42" height="10.3" fill="#d7d7d7"/>
<rect x="284.30" y="42.72" width="1.42" height="10.3" fill="#d7d7d7"/>
<rect x="286.15" y="42.72" width="1.42" height="10.3" fill="#d7d7d7"/>
<rect x="287.99" y="42.72" width="1.42" height="10.3" fill="#d7d7d7"/>
<rect x="289.83" y="42.72" width="1.42" height="10.3" fill="#d7d7d7"/>
<rect x="291.68" y="42.72" width="1.42" height="10.3" fill="#d7d7d7"/>
<rect x="293.52" y="42.72" width="1.42" height="10.3" fill="#d7d7d7"/>
<rect x="295.36" y="42.72" width="1.42" height="10.3" fill="#d7d7d7"/>
<rect x="297.20" y="42.72" width="1.42" height="10.3" fill="#d7d7d7"/>
<rect x="299.05" y="42.72" width="1.42" height="10.3" fill="#d7d7d7"/>
<rect x="300.89" y="42.72" width="1.42" height="10.3" fill="#d7d7d7"/>
<rect x="302.73" y="42.72" width="1.42" height="10.3" fill="#d7d7d7"/>
<rect x="304.58" y="42.72" width="1.42" height="10.3" fill="#d7d7d7"/>
<rect x="306.42" y="42.72" width="1.42" height="10.3" fill="#d7d7d7"/>
<rect x="308.26" y="42.72" width="1.42" height="10.3" fill="#d7d7d7"/>
<rect x="310.11" y="42.72" width="1.42" height="10.3" fill="#d7d7d7"/>
<rect x="311.95" y="42.72" width="1.42" height="10.3" fill="#d7d7d7"/>
<rect x="313.79" y="42.72" width="1.42" height="10.3" fill="#d7d7d7"/>
<rect x="315.63" y="42.72" width="1.42" height="10.3" fill="#d7d7d7"/>
<rect x="317.48" y="42.72" width="1.42" height="10.3" fill="#d7d7d7"/>
<rect x="319.32" y="42.72" width="1.42" height="10.3" fill="#d7d7d7"/>
<rect x="321.16" y="42.72" width="1.42" height="10.3" fill="#d7d7d7"/>
<rect x="323.01" y="42.72" width="1.42" height="10.3" fill="#d7d7d7"/>
<rect x="324.85" y="42.72" width="1.42" height="10.3" fill="#d7d7d7"/>
<rect x="326.69" y="42.72" width="1.42" height="10.3" fill="#d7d7d7"/>
<rect x="328.54" y="42.72" width="1.42" height="10.3" fill="#d7d7d7"/>
<rect x="330.38" y="42.72" width="1.42" height="10.3" fill="#d7d7d7"/>
<rect x="332.22" y="42.72" width="1.42" height="10.3" fill="#d7d7d7"/>
<rect x="334.06" y="42.72" width="1.42" height="10.3" fill="#d7d7d7"/>
<rect x="335.91" y="42.72" width="1.42" height="10.3" fill="#d7d7d7"/>
<rect x="337.75" y="42.72" width="1.42" height="10.3" fill="#d7d7d7"/>
<rect x="339.59" y="42.72" width="1.42" height="10.3" fill="#d7d7d7"/>
<rect x="341.44" y="42.72" width="1.42" height="10.3" fill="#d7d7d7"/>
<rect x="343.28" y="42.72" width="1.42" height="10.3" fill="#d7d7d7"/>
<rect x="345.12" y="42.72" width="1.42" height="10.3" fill="#d7d7d7"/>
<rect x="346.97" y="42.72" width="1.42" height="10.3" fill="#d7d7d7"/>
<rect x="348.81" y="42.72" width="1.42" height="10.3" fill="#d7d7d7"/>
<rect x="350.65" y="42.72" width="1.42" height="10.3" fill="#d7d7d7"/>
<rect x="352.49" y="42.72" width="1.42" height="10.3" fill="#d7d7d7"/>
<rect x="358.02" y="42.72" width="1.42" height="10.3" fill="#d7d7d7"/>
<rect x="359.87" y="42.72" width="1.42" height="10.3" fill="#d7d7d7"/>
<rect x="361.71" y="42.72" width="1.42" height="10.3" fill="#d7d7d7"/>
<rect x="363.55" y="42.72" width="1.42" height="10.3" fill="#d7d7d7"/>
<rect x="365.39" y="42.72" width="1.42" height="10.3" fill="#d7d7d7"/>
<rect x="367.24" y="42.72" width="1.42" height="10.3" fill="#d7d7d7"/>
<rect x="369.08" y="42.72" width="1.42" height="10.3" fill="#d7d7d7"/>
<rect x="370.92" y="42.72" width="1.42" height="10.3" fill="#d7d7d7"/>
<rect x="372.77" y="42.72" width="1.42" height="10.3" fill="#d7d7d7"/>
<rect x="374.61" y="42.72" width="1.42" height="10.3" fill="#d7d7d7"/>
<rect x="376.45" y="42.72" width="1.42" height="10.3" fill="#d7d7d7"/>
<rect x="378.30" y="42.72" width="1.42" height="10.3" fill="#d7d7d7"/>
<rect x="380.14" y="42.72" width="1.42" height="10.3" fill="#d7d7d7"/>
<rect x="381.98" y="42.72" width="1.42" height="10.3" fill="#d7d7d7"/>
<rect x="383.82" y="42.72" width="1.42" height="10.3" fill="#d7d7d7"/>
<rect x="385.67" y="42.72" width="1.42" height="10.3" fill="#d7d7d7"/>
<rect x="387.51" y="42.72" width="1.42" height="10.3" fill="#d7d7d7"/>
<rect x="389.35" y="42.72" width="1.42" height="10.3" fill="#d7d7d7"/>
<rect x="391.20" y="42.72" width="1.42" height="10.3" fill="#d7d7d7"/>
<rect x="393.04" y="42.72" width="1.42" height="10.3" fill="#d7d7d7"/>
<rect x="61.30" y="54.28" width="1.42" height="10.3" fill="#d7d7d7"/>
<rect x="63.14" y="54.28" width="1.42" height="10.3" fill="#d7d7d7"/>
<rect x="64.99" y="54.28" width="1.42" height="10.3" fill="#d7d7d7"/>
<rect x="68.67" y="54.28" width="1.42" height="10.3" fill="#d7d7d7"/>
<rect x="70.52" y="54.28" width="1.42" height="10.3" fill="#d7d7d7"/>
<rect x="72.36" y="54.28" width="1.42" height="10.3" fill="#d7d7d7"/>
<rect x="74.20" y="54.28" width="1.42" height="10.3" fill="#d7d7d7"/>
<rect x="77.89" y="54.28" width="1.42" height="10.3" fill="#d7d7d7"/>
<rect x="79.73" y="54.28" width="1.42" height="10.3" fill="#d7d7d7"/>
<rect x="81.57" y="54.28" width="1.42" height="10.3" fill="#d7d7d7"/>
<rect x="83.42" y="54.28" width="1.42" height="10.3" fill="#d7d7d7"/>
<rect x="85.26" y="54.28" width="1.42" height="10.3" fill="#d7d7d7"/>
<rect x="87.10" y="54.28" width="1.42" height="10.3" fill="#d7d7d7"/>
<rect x="88.94" y="54.28" width="1.42" height="10.3" fill="#c0707a"/>
<rect x="90.79" y="54.28" width="1.42" height="10.3" fill="#d7d7d7"/>
<rect x="92.63" y="54.28" width="1.42" height="10.3" fill="#d7d7d7"/>
<rect x="94.47" y="54.28" width="1.42" height="10.3" fill="#d7d7d7"/>
<rect x="96.32" y="54.28" width="1.42" height="10.3" fill="#d7d7d7"/>
<rect x="98.16" y="54.28" width="1.42" height="10.3" fill="#d7d7d7"/>
<rect x="100.00" y="54.28" width="1.42" height="10.3" fill="#d7d7d7"/>
<rect x="101.85" y="54.28" width="1.42" height="10.3" fill="#d7d7d7"/>
<rect x="103.69" y="54.28" width="1.42" height="10.3" fill="#d7d7d7"/>
<rect x="107.38" y="54.28" width="1.42" height="10.3" fill="#d7d7d7"/>
<rect x="109.22" y="54.28" width="1.42" height="10.3" fill="#d7d7d7"/>
<rect x="111.06" y="54.28" width="1.42" height="10.3" fill="#d7d7d7"/>
<rect x="112.90" y="54.28" width="1.42" height="10.3" fill="#d7d7d7"/>
<rect x="114.75" y="54.28" width="1.42" height="10.3" fill="#d7d7d7"/>
<rect x="116.59" y="54.28" width="1.42" height="10.3" fill="#d7d7d7"/>
<rect x="118.43" y="54.28" width="1.42" height="10.3" fill="#c0707a"/>
<rect x="120.28" y="54.28" width="1.42" height="10.3" fill="#d7d7d7"/>
<rect x="122.12" y="54.28" width="1.42" height="10.3" fill="#d7d7d7"/>
<rect x="123.96" y="54.28" width="1.42" height="10.3" fill="#d7d7d7"/>
<rect x="125.80" y="54.28" width="1.42" height="10.3" fill="#d7d7d7"/>
<rect x="127.65" y="54.28" width="1.42" height="10.3" fill="#d7d7d7"/>
<rect x="129.49" y="54.28" width="1.42" height="10.3" fill="#d7d7d7"/>
<rect x="131.33" y="54.28" width="1.42" height="10.3" fill="#d7d7d7"/>
<rect x="133.18" y="54.28" width="1.42" height="10.3" fill="#d7d7d7"/>
<rect x="135.02" y="54.28" width="1.42" height="10.3" fill="#d7d7d7"/>
<rect x="136.86" y="54.28" width="1.42" height="10.3" fill="#d7d7d7"/>
<rect x="140.55" y="54.28" width="1.42" height="10.3" fill="#d7d7d7"/>
<rect x="142.39" y="54.28" width="1.42" height="10.3" fill="#c0707a"/>
<rect x="144.24" y="54.28" width="1.42" height="10.3" fill="#c0707a"/>
<rect x="146.08" y="54.28" width="1.42" height="10.3" fill="#c0707a"/>
<rect x="147.92" y="54.28" width="1.42" height="10.3" fill="#d7d7d7"/>
<rect x="149.76" y="54.28" width="1.42" height="10.3" fill="#c0707a"/>
<rect x="151.61" y="54.28" width="1.42" height="10.3" fill="#d7d7d7"/>
<rect x="153.45" y="54.28" width="1.42" height="10.3" fill="#d7d7d7"/>
<rect x="155.29" y="54.28" width="1.42" height="10.3" fill="#d7d7d7"/>
<rect x="157.14" y="54.28" width="1.42" height="10.3" fill="#c0707a"/>
<rect x="158.98" y="54.28" width="1.42" height="10.3" fill="#d7d7d7"/>
<rect x="160.82" y="54.28" width="1.42" height="10.3" fill="#c0707a"/>
<rect x="162.66" y="54.28" width="1.42" height="10.3" fill="#c0707a"/>
<rect x="164.51" y="54.28" width="1.42" height="10.3" fill="#c0707a"/>
<rect x="166.35" y="54.28" width="1.42" height="10.3" fill="#c0707a"/>
<rect x="168.19" y="54.28" width="1.42" height="10.3" fill="#d7d7d7"/>
<rect x="170.04" y="54.28" width="1.42" height="10.3" fill="#d7d7d7"/>
<rect x="171.88" y="54.28" width="1.42" height="10.3" fill="#d7d7d7"/>
<rect x="173.72" y="54.28" width="1.42" height="10.3" fill="#c0707a"/>
<rect x="175.57" y="54.28" width="1.42" height="10.3" fill="#d7d7d7"/>
<rect x="177.41" y="54.28" width="1.42" height="10.3" fill="#d7d7d7"/>
<rect x="179.25" y="54.28" width="1.42" height="10.3" fill="#d7d7d7"/>
<rect x="181.09" y="54.28" width="1.42" height="10.3" fill="#c0707a"/>
<rect x="182.94" y="54.28" width="1.42" height="10.3" fill="#c0707a"/>
<rect x="184.78" y="54.28" width="1.42" height="10.3" fill="#c0707a"/>
<rect x="186.62" y="54.28" width="1.42" height="10.3" fill="#c0707a"/>
<rect x="188.47" y="54.28" width="1.42" height="10.3" fill="#d7d7d7"/>
<rect x="190.31" y="54.28" width="1.42" height="10.3" fill="#d7d7d7"/>
<rect x="192.15" y="54.28" width="1.42" height="10.3" fill="#d7d7d7"/>
<rect x="194.00" y="54.28" width="1.42" height="10.3" fill="#c0707a"/>
<rect x="195.84" y="54.28" width="1.42" height="10.3" fill="#c0707a"/>
<rect x="197.68" y="54.28" width="1.42" height="10.3" fill="#c0707a"/>
<rect x="199.52" y="54.28" width="1.42" height="10.3" fill="#d7d7d7"/>
<rect x="201.37" y="54.28" width="1.42" height="10.3" fill="#c0707a"/>
<rect x="203.21" y="54.28" width="1.42" height="10.3" fill="#d7d7d7"/>
<rect x="205.05" y="54.28" width="1.42" height="10.3" fill="#d7d7d7"/>
<rect x="206.90" y="54.28" width="1.42" height="10.3" fill="#d7d7d7"/>
<rect x="208.74" y="54.28" width="1.42" height="10.3" fill="#c0707a"/>
<rect x="210.58" y="54.28" width="1.42" height="10.3" fill="#c0707a"/>
<rect x="212.43" y="54.28" width="1.42" height="10.3" fill="#c0707a"/>
<rect x="214.27" y="54.28" width="1.42" height="10.3" fill="#c0707a"/>
<rect x="216.11" y="54.28" width="1.42" height="10.3" fill="#d7d7d7"/>
<rect x="217.95" y="54.28" width="1.42" height="10.3" fill="#d7d7d7"/>
<rect x="219.80" y="54.28" width="1.42" height="10.3" fill="#d7d7d7"/>
<rect x="221.64" y="54.28" width="1.42" height="10.3" fill="#d7d7d7"/>
<rect x="223.48" y="54.28" width="1.42" height="10.3" fill="#d7d7d7"/>
<rect x="225.33" y="54.28" width="1.42" height="10.3" fill="#d7d7d7"/>
<rect x="227.17" y="54.28" width="1.42" height="10.3" fill="#d7d7d7"/>
<rect x="229.01" y="54.28" width="1.42" height="10.3" fill="#d7d7d7"/>
<rect x="230.86" y="54.28" width="1.42" height="10.3" fill="#c0707a"/>
<rect x="232.70" y="54.28" width="1.42" height="10.3" fill="#d7d7d7"/>
<rect x="234.54" y="54.28" width="1.42" height="10.3" fill="#d7d7d7"/>
<rect x="236.38" y="54.28" width="1.42" height="10.3" fill="#d7d7d7"/>
<rect x="238.23" y="54.28" width="1.42" height="10.3" fill="#d7d7d7"/>
<rect x="240.07" y="54.28" width="1.42" height="10.3" fill="#d7d7d7"/>
<rect x="241.91" y="54.28" width="1.42" height="10.3" fill="#d7d7d7"/>
<rect x="243.76" y="54.28" width="1.42" height="10.3" fill="#d7d7d7"/>
<rect x="245.60" y="54.28" width="1.42" height="10.3" fill="#d7d7d7"/>
<rect x="247.44" y="54.28" width="1.42" height="10.3" fill="#d7d7d7"/>
<rect x="249.29" y="54.28" width="1.42" height="10.3" fill="#d7d7d7"/>
<rect x="251.13" y="54.28" width="1.42" height="10.3" fill="#d7d7d7"/>
<rect x="252.97" y="54.28" width="1.42" height="10.3" fill="#d7d7d7"/>
<rect x="254.81" y="54.28" width="1.42" height="10.3" fill="#d7d7d7"/>
<rect x="256.66" y="54.28" width="1.42" height="10.3" fill="#d7d7d7"/>
<rect x="258.50" y="54.28" width="1.42" height="10.3" fill="#c0707a"/>
<rect x="260.34" y="54.28" width="1.42" height="10.3" fill="#d7d7d7"/>
<rect x="262.19" y="54.28" width="1.42" height="10.3" fill="#d7d7d7"/>
<rect x="264.03" y="54.28" width="1.42" height="10.3" fill="#d7d7d7"/>
<rect x="265.87" y="54.28" width="1.42" height="10.3" fill="#d7d7d7"/>
<rect x="267.72" y="54.28" width="1.42" height="10.3" fill="#d7d7d7"/>
<rect x="269.56" y="54.28" width="1.42" height="10.3" fill="#d7d7d7"/>
<rect x="271.40" y="54.28" width="1.42" height="10.3" fill="#d7d7d7"/>
<rect x="273.25" y="54.28" width="1.42" height="10.3" fill="#d7d7d7"/>
<rect x="275.09" y="54.28" width="1.42" height="10.3" fill="#d7d7d7"/>
<rect x="278.77" y="54.28" width="1.42" height="10.3" fill="#d7d7d7"/>
<rect x="280.62" y="54.28" width="1.42" height="10.3" fill="#d7d7d7"/>
<rect x="282.46" y="54.28" width="1.42" height="10.3" fill="#d7d7d7"/>
<rect x="284.30" y="54.28" width="1.42" height="10.3" fill="#d7d7d7"/>
<rect x="286.15" y="54.28" width="1.42" height="10.3" fill="#d7d7d7"/>
<rect x="287.99" y="54.28" width="1.42" height="10.3" fill="#d7d7d7"/>
<rect x="289.83" y="54.28" width="1.42" height="10.3" fill="#d7d7d7"/>
<rect x="291.68" y="54.28" width="1.42" height="10.3" fill="#d7d7d7"/>
<rect x="293.52" y="54.28" width="1.42" height="10.3" fill="#d7d7d7"/>
<rect x="295.36" y="54.28" width="1.42" height="10.3" fill="#d7d7d7"/>
<rect x="297.20" y="54.28" width="1.42" height="10.3" fill="#d7d7d7"/>
<rect x="299.05" y="54.28" width="1.42" height="10.3" fill="#d7d7d7"/>
<rect x="300.89" y="54.28" width="1.42" height="10.3" fill="#d7d7d7"/>
<rect x="302.73" y="54.28" width="1.42" height="10.3" fill="#d7d7d7"/>
<rect x="304.58" y="54.28" width="1.42" height="10.3" fill="#d7d7d7"/>
<rect x="306.42" y="54.28" width="1.42" height="10.3" fill="#d7d7d7"/>
<rect x="308.26" y="54.28" width="1.42" height="10.3" fill="#d7d7d7"/>
<rect x="310.11" y="54.28" width="1.42" height="10.3" fill="#d7d7d7"/>
<rect x="311.95" y="54.28" width="1.42" height="10.3" fill="#d7d7d7"/>
<rect x="313.79" y="54.28" width="1.42" height="10.3" fill="#d7d7d7"/>
<rect x="315.63" y="54.28" width="1.42" height="10.3" fill="#d7d7d7"/>
<rect x="317.48" y="54.28" width="1.42" height="10.3" fill="#d7d7d7"/>
<rect x="319.32" y="54.28" width="1.42" height="10.3" fill="#d7d7d7"/>
<rect x="321.16" y="54.28" width="1.42" height="10.3" fill="#d7d7d7"/>
<rect x="323.01" y="54.28" width="1.42" height="10.3" fill="#c0707a"/>
<rect x="324.85" y="54.28" width="1.42" height="10.3" fill="#d7d7d7"/>
<rect x="326.69" y="54.28" width="1.42" height="10.3" fill="#d7d7d7"/>
<rect x="328.54" y="54.28" width="1.42" height="10.3" fill="#d7d7d7"/>
<rect x="330.38" y="54.28" width="1.42" height="10.3" fill="#d7d7d7"/>
<rect x="332.22" y="54.28" width="1.42" height="10.3" fill="#d7d7d7"/>
<rect x="334.06" y="54.28" width="1.42" height="10.3" fill="#d7d7d7"/>
<rect x="335.91" y="54.28" width="1.42" height="10.3" fill="#d7d7d7"/>
<rect x="337.75" y="54.28" width="1.42" height="10.3" fill="#d7d7d7"/>
<rect x="339.59" y="54.28" width="1.42" height="10.3" fill="#d7d7d7"/>
<rect x="341.44" y="54.28" width="1.42" height="10.3" fill="#d7d7d7"/>
<rect x="343.28" y="54.28" width="1.42" height="10.3" fill="#d7d7d7"/>
<rect x="345.12" y="54.28" width="1.42" height="10.3" fill="#d7d7d7"/>
<rect x="346.97" y="54.28" width="1.42" height="10.3" fill="#d7d7d7"/>
<rect x="348.81" y="54.28" width="1.42" height="10.3" fill="#d7d7d7"/>
<rect x="350.65" y="54.28" width="1.42" height="10.3" fill="#d7d7d7"/>
<rect x="352.49" y="54.28" width="1.42" height="10.3" fill="#d7d7d7"/>
<rect x="356.18" y="54.28" width="1.42" height="10.3" fill="#d7d7d7"/>
<rect x="358.02" y="54.28" width="1.42" height="10.3" fill="#d7d7d7"/>
<rect x="359.87" y="54.28" width="1.42" height="10.3" fill="#d7d7d7"/>
<rect x="361.71" y="54.28" width="1.42" height="10.3" fill="#d7d7d7"/>
<rect x="363.55" y="54.28" width="1.42" height="10.3" fill="#d7d7d7"/>
<rect x="365.39" y="54.28" width="1.42" height="10.3" fill="#d7d7d7"/>
<rect x="367.24" y="54.28" width="1.42" height="10.3" fill="#d7d7d7"/>
<rect x="369.08" y="54.28" width="1.42" height="10.3" fill="#d7d7d7"/>
<rect x="370.92" y="54.28" width="1.42" height="10.3" fill="#d7d7d7"/>
<rect x="372.77" y="54.28" width="1.42" height="10.3" fill="#c0707a"/>
<rect x="374.61" y="54.28" width="1.42" height="10.3" fill="#d7d7d7"/>
<rect x="376.45" y="54.28" width="1.42" height="10.3" fill="#d7d7d7"/>
<rect x="378.30" y="54.28" width="1.42" height="10.3" fill="#d7d7d7"/>
<rect x="380.14" y="54.28" width="1.42" height="10.3" fill="#d7d7d7"/>
<rect x="381.98" y="54.28" width="1.42" height="10.3" fill="#d7d7d7"/>
<rect x="383.82" y="54.28" width="1.42" height="10.3" fill="#d7d7d7"/>
<rect x="385.67" y="54.28" width="1.42" height="10.3" fill="#d7d7d7"/>
<rect x="387.51" y="54.28" width="1.42" height="10.3" fill="#d7d7d7"/>
<rect x="389.35" y="54.28" width="1.42" height="10.3" fill="#d7d7d7"/>
<rect x="391.20" y="54.28" width="1.42" height="10.3" fill="#d7d7d7"/>
<rect x="393.04" y="54.28" width="1.42" height="10.3" fill="#d7d7d7"/>
<rect x="61.30" y="65.84" width="1.42" height="10.3" fill="#d7d7d7"/>
<rect x="63.14" y="65.84" width="1.42" height="10.3" fill="#d7d7d7"/>
<rect x="64.99" y="65.84" width="1.42" height="10.3" fill="#d7d7d7"/>
<rect x="68.67" y="65.84" width="1.42" height="10.3" fill="#d7d7d7"/>
<rect x="70.52" y="65.84" width="1.42" height="10.3" fill="#d7d7d7"/>
<rect x="72.36" y="65.84" width="1.42" height="10.3" fill="#d7d7d7"/>
<rect x="74.20" y="65.84" width="1.42" height="10.3" fill="#d7d7d7"/>
<rect x="77.89" y="65.84" width="1.42" height="10.3" fill="#d7d7d7"/>
<rect x="79.73" y="65.84" width="1.42" height="10.3" fill="#d7d7d7"/>
<rect x="81.57" y="65.84" width="1.42" height="10.3" fill="#d7d7d7"/>
<rect x="83.42" y="65.84" width="1.42" height="10.3" fill="#d7d7d7"/>
<rect x="85.26" y="65.84" width="1.42" height="10.3" fill="#d7d7d7"/>
<rect x="87.10" y="65.84" width="1.42" height="10.3" fill="#d7d7d7"/>
<rect x="88.94" y="65.84" width="1.42" height="10.3" fill="#d7d7d7"/>
<rect x="90.79" y="65.84" width="1.42" height="10.3" fill="#d7d7d7"/>
<rect x="92.63" y="65.84" width="1.42" height="10.3" fill="#d7d7d7"/>
<rect x="94.47" y="65.84" width="1.42" height="10.3" fill="#d7d7d7"/>
<rect x="96.32" y="65.84" width="1.42" height="10.3" fill="#d7d7d7"/>
<rect x="98.16" y="65.84" width="1.42" height="10.3" fill="#d7d7d7"/>
<rect x="100.00" y="65.84" width="1.42" height="10.3" fill="#d7d7d7"/>
<rect x="101.85" y="65.84" width="1.42" height="10.3" fill="#d7d7d7"/>
<rect x="103.69" y="65.84" width="1.42" height="10.3" fill="#d7d7d7"/>
<rect x="107.38" y="65.84" width="1.42" height="10.3" fill="#d7d7d7"/>
<rect x="109.22" y="65.84" width="1.42" height="10.3" fill="#d7d7d7"/>
<rect x="111.06" y="65.84" width="1.42" height="10.3" fill="#d7d7d7"/>
<rect x="112.90" y="65.84" width="1.42" height="10.3" fill="#d7d7d7"/>
<rect x="114.75" y="65.84" width="1.42" height="10.3" fill="#d7d7d7"/>
<rect x="116.59" y="65.84" width="1.42" height="10.3" fill="#d7d7d7"/>
<rect x="118.43" y="65.84" width="1.42" height="10.3" fill="#c0707a"/>
<rect x="120.28" y="65.84" width="1.42" height="10.3" fill="#d7d7d7"/>
<rect x="122.12" y="65.84" width="1.42" height="10.3" fill="#d7d7d7"/>
<rect x="123.96" y="65.84" width="1.42" height="10.3" fill="#d7d7d7"/>
<rect x="125.80" y="65.84" width="1.42" height="10.3" fill="#d7d7d7"/>
<rect x="127.65" y="65.84" width="1.42" height="10.3" fill="#d7d7d7"/>
<rect x="129.49" y="65.84" width="1.42" height="10.3" fill="#d7d7d7"/>
<rect x="131.33" y="65.84" width="1.42" height="10.3" fill="#d7d7d7"/>
<rect x="133.18" y="65.84" width="1.42" height="10.3" fill="#d7d7d7"/>
<rect x="135.02" y="65.84" width="1.42" height="10.3" fill="#d7d7d7"/>
<rect x="136.86" y="65.84" width="1.42" height="10.3" fill="#d7d7d7"/>
<rect x="140.55" y="65.84" width="1.42" height="10.3" fill="#d7d7d7"/>
<rect x="142.39" y="65.84" width="1.42" height="10.3" fill="#c0707a"/>
<rect x="144.24" y="65.84" width="1.42" height="10.3" fill="#c0707a"/>
<rect x="146.08" y="65.84" width="1.42" height="10.3" fill="#d7d7d7"/>
<rect x="147.92" y="65.84" width="1.42" height="10.3" fill="#d7d7d7"/>
<rect x="149.76" y="65.84" width="1.42" height="10.3" fill="#c0707a"/>
<rect x="151.61" y="65.84" width="1.42" height="10.3" fill="#d7d7d7"/>
<rect x="153.45" y="65.84" width="1.42" height="10.3" fill="#d7d7d7"/>
<rect x="155.29" y="65.84" width="1.42" height="10.3" fill="#d7d7d7"/>
<rect x="157.14" y="65.84" width="1.42" height="10.3" fill="#c0707a"/>
<rect x="158.98" y="65.84" width="1.42" height="10.3" fill="#d7d7d7"/>
<rect x="160.82" y="65.84" width="1.42" height="10.3" fill="#c0707a"/>
<rect x="162.66" y="65.84" width="1.42" height="10.3" fill="#c0707a"/>
<rect x="164.51" y="65.84" width="1.42" height="10.3" fill="#c0707a"/>
<rect x="166.35" y="65.84" width="1.42" height="10.3" fill="#c0707a"/>
<rect x="168.19" y="65.84" width="1.42" height="10.3" fill="#d7d7d7"/>
<rect x="170.04" y="65.84" width="1.42" height="10.3" fill="#d7d7d7"/>
<rect x="171.88" y="65.84" width="1.42" height="10.3" fill="#d7d7d7"/>
<rect x="173.72" y="65.84" width="1.42" height="10.3" fill="#c0707a"/>
<rect x="175.57" y="65.84" width="1.42" height="10.3" fill="#d7d7d7"/>
<rect x="177.41" y="65.84" width="1.42" height="10.3" fill="#d7d7d7"/>
<rect x="179.25" y="65.84" width="1.42" height="10.3" fill="#d7d7d7"/>
<rect x="181.09" y="65.84" width="1.42" height="10.3" fill="#c0707a"/>
<rect x="182.94" y="65.84" width="1.42" height="10.3" fill="#c0707a"/>
<rect x="184.78" y="65.84" width="1.42" height="10.3" fill="#c0707a"/>
<rect x="186.62" y="65.84" width="1.42" height="10.3" fill="#d7d7d7"/>
<rect x="188.47" y="65.84" width="1.42" height="10.3" fill="#d7d7d7"/>
<rect x="190.31" y="65.84" width="1.42" height="10.3" fill="#d7d7d7"/>
<rect x="192.15" y="65.84" width="1.42" height="10.3" fill="#d7d7d7"/>
<rect x="194.00" y="65.84" width="1.42" height="10.3" fill="#c0707a"/>
<rect x="195.84" y="65.84" width="1.42" height="10.3" fill="#c0707a"/>
<rect x="197.68" y="65.84" width="1.42" height="10.3" fill="#c0707a"/>
<rect x="199.52" y="65.84" width="1.42" height="10.3" fill="#d7d7d7"/>
<rect x="201.37" y="65.84" width="1.42" height="10.3" fill="#d7d7d7"/>
<rect x="203.21" y="65.84" width="1.42" height="10.3" fill="#d7d7d7"/>
<rect x="205.05" y="65.84" width="1.42" height="10.3" fill="#d7d7d7"/>
<rect x="206.90" y="65.84" width="1.42" height="10.3" fill="#d7d7d7"/>
<rect x="208.74" y="65.84" width="1.42" height="10.3" fill="#c0707a"/>
<rect x="210.58" y="65.84" width="1.42" height="10.3" fill="#c0707a"/>
<rect x="212.43" y="65.84" width="1.42" height="10.3" fill="#c0707a"/>
<rect x="214.27" y="65.84" width="1.42" height="10.3" fill="#d7d7d7"/>
<rect x="216.11" y="65.84" width="1.42" height="10.3" fill="#d7d7d7"/>
<rect x="217.95" y="65.84" width="1.42" height="10.3" fill="#d7d7d7"/>
<rect x="219.80" y="65.84" width="1.42" height="10.3" fill="#d7d7d7"/>
<rect x="221.64" y="65.84" width="1.42" height="10.3" fill="#d7d7d7"/>
<rect x="223.48" y="65.84" width="1.42" height="10.3" fill="#d7d7d7"/>
<rect x="225.33" y="65.84" width="1.42" height="10.3" fill="#d7d7d7"/>
<rect x="227.17" y="65.84" width="1.42" height="10.3" fill="#d7d7d7"/>
<rect x="229.01" y="65.84" width="1.42" height="10.3" fill="#d7d7d7"/>
<rect x="230.86" y="65.84" width="1.42" height="10.3" fill="#c0707a"/>
<rect x="232.70" y="65.84" width="1.42" height="10.3" fill="#d7d7d7"/>
<rect x="234.54" y="65.84" width="1.42" height="10.3" fill="#d7d7d7"/>
<rect x="236.38" y="65.84" width="1.42" height="10.3" fill="#d7d7d7"/>
<rect x="238.23" y="65.84" width="1.42" height="10.3" fill="#d7d7d7"/>
<rect x="240.07" y="65.84" width="1.42" height="10.3" fill="#d7d7d7"/>
<rect x="241.91" y="65.84" width="1.42" height="10.3" fill="#d7d7d7"/>
<rect x="243.76" y="65.84" width="1.42" height="10.3" fill="#d7d7d7"/>
<rect x="245.60" y="65.84" width="1.42" height="10.3" fill="#d7d7d7"/>
<rect x="247.44" y="65.84" width="1.42" height="10.3" fill="#d7d7d7"/>
<rect x="249.29" y="65.84" width="1.42" height="10.3" fill="#d7d7d7"/>
<rect x="251.13" y="65.84" width="1.42" height="10.3" fill="#d7d7d7"/>
<rect x="252.97" y="65.84" width="1.42" height="10.3" fill="#d7d7d7"/>
<rect x="254.81" y="65.84" width="1.42" height="10.3" fill="#d7d7d7"/>
<rect x="256.66" y="65.84" width="1.42" height="10.3" fill="#d7d7d7"/>
<rect x="258.50" y="65.84" width="1.42" height="10.3" fill="#c0707a"/>
<rect x="260.34" y="65.84" width="1.42" height="10.3" fill="#d7d7d7"/>
<rect x="262.19" y="65.84" width="1.42" height="10.3" fill="#d7d7d7"/>
<rect x="264.03" y="65.84" width="1.42" height="10.3" fill="#d7d7d7"/>
<rect x="265.87" y="65.84" width="1.42" height="10.3" fill="#d7d7d7"/>
<rect x="267.72" y="65.84" width="1.42" height="10.3" fill="#d7d7d7"/>
<rect x="269.56" y="65.84" width="1.42" height="10.3" fill="#d7d7d7"/>
<rect x="271.40" y="65.84" width="1.42" height="10.3" fill="#d7d7d7"/>
<rect x="273.25" y="65.84" width="1.42" height="10.3" fill="#d7d7d7"/>
<rect x="275.09" y="65.84" width="1.42" height="10.3" fill="#d7d7d7"/>
<rect x="278.77" y="65.84" width="1.42" height="10.3" fill="#d7d7d7"/>
<rect x="280.62" y="65.84" width="1.42" height="10.3" fill="#d7d7d7"/>
<rect x="282.46" y="65.84" width="1.42" height="10.3" fill="#d7d7d7"/>
<rect x="284.30" y="65.84" width="1.42" height="10.3" fill="#d7d7d7"/>
<rect x="286.15" y="65.84" width="1.42" height="10.3" fill="#d7d7d7"/>
<rect x="287.99" y="65.84" width="1.42" height="10.3" fill="#d7d7d7"/>
<rect x="289.83" y="65.84" width="1.42" height="10.3" fill="#d7d7d7"/>
<rect x="291.68" y="65.84" width="1.42" height="10.3" fill="#d7d7d7"/>
<rect x="293.52" y="65.84" width="1.42" height="10.3" fill="#d7d7d7"/>
<rect x="295.36" y="65.84" width="1.42" height="10.3" fill="#d7d7d7"/>
<rect x="297.20" y="65.84" width="1.42" height="10.3" fill="#d7d7d7"/>
<rect x="299.05" y="65.84" width="1.42" height="10.3" fill="#d7d7d7"/>
<rect x="300.89" y="65.84" width="1.42" height="10.3" fill="#d7d7d7"/>
<rect x="302.73" y="65.84" width="1.42" height="10.3" fill="#d7d7d7"/>
<rect x="304.58" y="65.84" width="1.42" height="10.3" fill="#d7d7d7"/>
<rect x="306.42" y="65.84" width="1.42" height="10.3" fill="#d7d7d7"/>
<rect x="308.26" y="65.84" width="1.42" height="10.3" fill="#d7d7d7"/>
<rect x="310.11" y="65.84" width="1.42" height="10.3" fill="#d7d7d7"/>
<rect x="311.95" y="65.84" width="1.42" height="10.3" fill="#d7d7d7"/>
<rect x="313.79" y="65.84" width="1.42" height="10.3" fill="#d7d7d7"/>
<rect x="315.63" y="65.84" width="1.42" height="10.3" fill="#d7d7d7"/>
<rect x="317.48" y="65.84" width="1.42" height="10.3" fill="#d7d7d7"/>
<rect x="319.32" y="65.84" width="1.42" height="10.3" fill="#d7d7d7"/>
<rect x="321.16" y="65.84" width="1.42" height="10.3" fill="#d7d7d7"/>
<rect x="323.01" y="65.84" width="1.42" height="10.3" fill="#c0707a"/>
<rect x="324.85" y="65.84" width="1.42" height="10.3" fill="#c0707a"/>
<rect x="326.69" y="65.84" width="1.42" height="10.3" fill="#d7d7d7"/>
<rect x="328.54" y="65.84" width="1.42" height="10.3" fill="#d7d7d7"/>
<rect x="330.38" y="65.84" width="1.42" height="10.3" fill="#d7d7d7"/>
<rect x="332.22" y="65.84" width="1.42" height="10.3" fill="#d7d7d7"/>
<rect x="334.06" y="65.84" width="1.42" height="10.3" fill="#d7d7d7"/>
<rect x="335.91" y="65.84" width="1.42" height="10.3" fill="#d7d7d7"/>
<rect x="337.75" y="65.84" width="1.42" height="10.3" fill="#d7d7d7"/>
<rect x="339.59" y="65.84" width="1.42" height="10.3" fill="#d7d7d7"/>
<rect x="341.44" y="65.84" width="1.42" height="10.3" fill="#d7d7d7"/>
<rect x="343.28" y="65.84" width="1.42" height="10.3" fill="#d7d7d7"/>
<rect x="345.12" y="65.84" width="1.42" height="10.3" fill="#d7d7d7"/>
<rect x="346.97" y="65.84" width="1.42" height="10.3" fill="#d7d7d7"/>
<rect x="350.65" y="65.84" width="1.42" height="10.3" fill="#d7d7d7"/>
<rect x="352.49" y="65.84" width="1.42" height="10.3" fill="#d7d7d7"/>
<rect x="358.02" y="65.84" width="1.42" height="10.3" fill="#d7d7d7"/>
<rect x="359.87" y="65.84" width="1.42" height="10.3" fill="#d7d7d7"/>
<rect x="361.71" y="65.84" width="1.42" height="10.3" fill="#d7d7d7"/>
<rect x="363.55" y="65.84" width="1.42" height="10.3" fill="#d7d7d7"/>
<rect x="365.39" y="65.84" width="1.42" height="10.3" fill="#d7d7d7"/>
<rect x="367.24" y="65.84" width="1.42" height="10.3" fill="#d7d7d7"/>
<rect x="369.08" y="65.84" width="1.42" height="10.3" fill="#d7d7d7"/>
<rect x="370.92" y="65.84" width="1.42" height="10.3" fill="#d7d7d7"/>
<rect x="372.77" y="65.84" width="1.42" height="10.3" fill="#d7d7d7"/>
<rect x="374.61" y="65.84" width="1.42" height="10.3" fill="#d7d7d7"/>
<rect x="376.45" y="65.84" width="1.42" height="10.3" fill="#d7d7d7"/>
<rect x="378.30" y="65.84" width="1.42" height="10.3" fill="#d7d7d7"/>
<rect x="380.14" y="65.84" width="1.42" height="10.3" fill="#d7d7d7"/>
<rect x="383.82" y="65.84" width="1.42" height="10.3" fill="#d7d7d7"/>
<rect x="385.67" y="65.84" width="1.42" height="10.3" fill="#d7d7d7"/>
<rect x="387.51" y="65.84" width="1.42" height="10.3" fill="#d7d7d7"/>
<rect x="389.35" y="65.84" width="1.42" height="10.3" fill="#d7d7d7"/>
<rect x="391.20" y="65.84" width="1.42" height="10.3" fill="#d7d7d7"/>
<rect x="393.04" y="65.84" width="1.42" height="10.3" fill="#d7d7d7"/>
<rect x="61.30" y="77.40" width="1.42" height="10.3" fill="#262626"/>
<rect x="63.14" y="77.40" width="1.42" height="10.3" fill="#262626"/>
<rect x="68.67" y="77.40" width="1.42" height="10.3" fill="#d7d7d7"/>
<rect x="70.52" y="77.40" width="1.42" height="10.3" fill="#d7d7d7"/>
<rect x="72.36" y="77.40" width="1.42" height="10.3" fill="#d7d7d7"/>
<rect x="74.20" y="77.40" width="1.42" height="10.3" fill="#d7d7d7"/>
<rect x="77.89" y="77.40" width="1.42" height="10.3" fill="#262626"/>
<rect x="79.73" y="77.40" width="1.42" height="10.3" fill="#d7d7d7"/>
<rect x="81.57" y="77.40" width="1.42" height="10.3" fill="#d7d7d7"/>
<rect x="83.42" y="77.40" width="1.42" height="10.3" fill="#262626"/>
<rect x="85.26" y="77.40" width="1.42" height="10.3" fill="#262626"/>
<rect x="87.10" y="77.40" width="1.42" height="10.3" fill="#262626"/>
<rect x="88.94" y="77.40" width="1.42" height="10.3" fill="#262626"/>
<rect x="90.79" y="77.40" width="1.42" height="10.3" fill="#262626"/>
<rect x="92.63" y="77.40" width="1.42" height="10.3" fill="#262626"/>
<rect x="94.47" y="77.40" width="1.42" height="10.3" fill="#262626"/>
<rect x="96.32" y="77.40" width="1.42" height="10.3" fill="#d7d7d7"/>
<rect x="98.16" y="77.40" width="1.42" height="10.3" fill="#d7d7d7"/>
<rect x="100.00" y="77.40" width="1.42" height="10.3" fill="#d7d7d7"/>
<rect x="101.85" y="77.40" width="1.42" height="10.3" fill="#d7d7d7"/>
<rect x="103.69" y="77.40" width="1.42" height="10.3" fill="#d7d7d7"/>
<rect x="107.38" y="77.40" width="1.42" height="10.3" fill="#d7d7d7"/>
<rect x="109.22" y="77.40" width="1.42" height="10.3" fill="#d7d7d7"/>
<rect x="111.06" y="77.40" width="1.42" height="10.3" fill="#262626"/>
<rect x="112.90" y="77.40" width="1.42" height="10.3" fill="#262626"/>
<rect x="114.75" y="77.40" width="1.42" height="10.3" fill="#d7d7d7"/>
<rect x="116.59" y="77.40" width="1.42" height="10.3" fill="#d7d7d7"/>
<rect x="118.43" y="77.40" width="1.42" height="10.3" fill="#d7d7d7"/>
<rect x="120.28" y="77.40" width="1.42" height="10.3" fill="#d7d7d7"/>
<rect x="122.12" y="77.40" width="1.42" height="10.3" fill="#262626"/>
<rect x="123.96" y="77.40" width="1.42" height="10.3" fill="#262626"/>
<rect x="125.80" y="77.40" width="1.42" height="10.3" fill="#262626"/>
<rect x="127.65" y="77.40" width="1.42" height="10.3" fill="#262626"/>
<rect x="129.49" y="77.40" width="1.42" height="10.3" fill="#262626"/>
<rect x="131.33" y="77.40" width="1.42" height="10.3" fill="#262626"/>
<rect x="133.18" y="77.40" width="1.42" height="10.3" fill="#d7d7d7"/>
<rect x="135.02" y="77.40" width="1.42" height="10.3" fill="#d7d7d7"/>
<rect x="136.86" y="77.40" width="1.42" height="10.3" fill="#d7d7d7"/>
<rect x="140.55" y="77.40" width="1.42" height="10.3" fill="#d7d7d7"/>
<rect x="142.39" y="77.40" width="1.42" height="10.3" fill="#d7d7d7"/>
<rect x="144.24" y="77.40" width="1.42" height="10.3" fill="#d7d7d7"/>
<rect x="146.08" y="77.40" width="1.42" height="10.3" fill="#d7d7d7"/>
<rect x="147.92" y="77.40" width="1.42" height="10.3" fill="#d7d7d7"/>
<rect x="149.76" y="77.40" width="1.42" height="10.3" fill="#d7d7d7"/>
<rect x="151.61" y="77.40" width="1.42" height="10.3" fill="#d7d7d7"/>
<rect x="153.45" y="77.40" width="1.42" height="10.3" fill="#d7d7d7"/>
<rect x="157.14" y="77.40" width="1.42" height="10.3" fill="#d7d7d7"/>
<rect x="158.98" y="77.40" width="1.42" height="10.3" fill="#262626"/>
<rect x="160.82" y="77.40" width="1.42" height="10.3" fill="#d7d7d7"/>
<rect x="162.66" y="77.40" width="1.42" height="10.3" fill="#d7d7d7"/>
<rect x="164.51" y="77.40" width="1.42" height="10.3" fill="#d7d7d7"/>
<rect x="166.35" y="77.40" width="1.42" height="10.3" fill="#d7d7d7"/>
<rect x="168.19" y="77.40" width="1.42" height="10.3" fill="#d7d7d7"/>
<rect x="170.04" y="77.40" width="1.42" height="10.3" fill="#d7d7d7"/>
<rect x="171.88" y="77.40" width="1.42" height="10.3" fill="#d7d7d7"/>
<rect x="173.72" y="77.40" width="1.42" height="10.3" fill="#d7d7d7"/>
<rect x="175.57" y="77.40" width="1.42" height="10.3" fill="#d7d7d7"/>
<rect x="177.41" y="77.40" width="1.42" height="10.3" fill="#d7d7d7"/>
<rect x="179.25" y="77.40" width="1.42" height="10.3" fill="#d7d7d7"/>
<rect x="181.09" y="77.40" width="1.42" height="10.3" fill="#d7d7d7"/>
<rect x="182.94" y="77.40" width="1.42" height="10.3" fill="#d7d7d7"/>
<rect x="184.78" y="77.40" width="1.42" height="10.3" fill="#d7d7d7"/>
<rect x="186.62" y="77.40" width="1.42" height="10.3" fill="#d7d7d7"/>
<rect x="188.47" y="77.40" width="1.42" height="10.3" fill="#d7d7d7"/>
<rect x="190.31" y="77.40" width="1.42" height="10.3" fill="#d7d7d7"/>
<rect x="192.15" y="77.40" width="1.42" height="10.3" fill="#d7d7d7"/>
<rect x="194.00" y="77.40" width="1.42" height="10.3" fill="#d7d7d7"/>
<rect x="199.52" y="77.40" width="1.42" height="10.3" fill="#262626"/>
<rect x="201.37" y="77.40" width="1.42" height="10.3" fill="#d7d7d7"/>
<rect x="203.21" y="77.40" width="1.42" height="10.3" fill="#262626"/>
<rect x="205.05" y="77.40" width="1.42" height="10.3" fill="#262626"/>
<rect x="206.90" y="77.40" width="1.42" height="10.3" fill="#262626"/>
<rect x="208.74" y="77.40" width="1.42" height="10.3" fill="#d7d7d7"/>
<rect x="210.58" y="77.40" width="1.42" height="10.3" fill="#d7d7d7"/>
<rect x="212.43" y="77.40" width="1.42" height="10.3" fill="#d7d7d7"/>
<rect x="214.27" y="77.40" width="1.42" height="10.3" fill="#d7d7d7"/>
<rect x="217.95" y="77.40" width="1.42" height="10.3" fill="#262626"/>
<rect x="219.80" y="77.40" width="1.42" height="10.3" fill="#262626"/>
<rect x="221.64" y="77.40" width="1.42" height="10.3" fill="#262626"/>
<rect x="223.48" y="77.40" width="1.42" height="10.3" fill="#262626"/>
<rect x="225.33" y="77.40" width="1.42" height="10.3" fill="#d7d7d7"/>
<rect x="227.17" y="77.40" width="1.42" height="10.3" fill="#d7d7d7"/>
<rect x="229.01" y="77.40" width="1.42" height="10.3" fill="#d7d7d7"/>
<rect x="230.86" y="77.40" width="1.42" height="10.3" fill="#d7d7d7"/>
<rect x="232.70" y="77.40" width="1.42" height="10.3" fill="#d7d7d7"/>
<rect x="234.54" y="77.40" width="1.42" height="10.3" fill="#262626"/>
<rect x="236.38" y="77.40" width="1.42" height="10.3" fill="#262626"/>
<rect x="238.23" y="77.40" width="1.42" height="10.3" fill="#262626"/>
<rect x="240.07" y="77.40" width="1.42" height="10.3" fill="#262626"/>
<rect x="243.76" y="77.40" width="1.42" height="10.3" fill="#d7d7d7"/>
<rect x="247.44" y="77.40" width="1.42" height="10.3" fill="#262626"/>
<rect x="249.29" y="77.40" width="1.42" height="10.3" fill="#262626"/>
<rect x="251.13" y="77.40" width="1.42" height="10.3" fill="#262626"/>
<rect x="252.97" y="77.40" width="1.42" height="10.3" fill="#d7d7d7"/>
<rect x="254.81" y="77.40" width="1.42" height="10.3" fill="#d7d7d7"/>
<rect x="256.66" y="77.40" width="1.42" height="10.3" fill="#d7d7d7"/>
<rect x="258.50" y="77.40" width="1.42" height="10.3" fill="#262626"/>
<rect x="260.34" y="77.40" width="1.42" height="10.3" fill="#262626"/>
<rect x="262.19" y="77.40" width="1.42" height="10.3" fill="#262626"/>
<rect x="264.03" y="77.40" width="1.42" height="10.3" fill="#262626"/>
<rect x="265.87" y="77.40" width="1.42" height="10.3" fill="#d7d7d7"/>
<rect x="267.72" y="77.40" width="1.42" height="10.3" fill="#d7d7d7"/>
<rect x="271.40" y="77.40" width="1.42" height="10.3" fill="#d7d7d7"/>
<rect x="273.25" y="77.40" width="1.42" height="10.3" fill="#d7d7d7"/>
<rect x="276.93" y="77.40" width="1.42" height="10.3" fill="#d7d7d7"/>
<rect x="278.77" y="77.40" width="1.42" height="10.3" fill="#d7d7d7"/>
<rect x="280.62" y="77.40" width="1.42" height="10.3" fill="#262626"/>
<rect x="282.46" y="77.40" width="1.42" height="10.3" fill="#262626"/>
<rect x="284.30" y="77.40" width="1.42" height="10.3" fill="#262626"/>
<rect x="286.15" y="77.40" width="1.42" height="10.3" fill="#262626"/>
<rect x="287.99" y="77.40" width="1.42" height="10.3" fill="#262626"/>
<rect x="289.83" y="77.40" width="1.42" height="10.3" fill="#262626"/>
<rect x="291.68" y="77.40" width="1.42" height="10.3" fill="#d7d7d7"/>
<rect x="295.36" y="77.40" width="1.42" height="10.3" fill="#d7d7d7"/>
<rect x="299.05" y="77.40" width="1.42" height="10.3" fill="#d7d7d7"/>
<rect x="300.89" y="77.40" width="1.42" height="10.3" fill="#d7d7d7"/>
<rect x="302.73" y="77.40" width="1.42" height="10.3" fill="#d7d7d7"/>
<rect x="304.58" y="77.40" width="1.42" height="10.3" fill="#d7d7d7"/>
<rect x="306.42" y="77.40" width="1.42" height="10.3" fill="#d7d7d7"/>
<rect x="308.26" y="77.40" width="1.42" height="10.3" fill="#d7d7d7"/>
<rect x="310.11" y="77.40" width="1.42" height="10.3" fill="#d7d7d7"/>
<rect x="311.95" y="77.40" width="1.42" height="10.3" fill="#d7d7d7"/>
<rect x="313.79" y="77.40" width="1.42" height="10.3" fill="#d7d7d7"/>
<rect x="315.63" y="77.40" width="1.42" height="10.3" fill="#262626"/>
<rect x="317.48" y="77.40" width="1.42" height="10.3" fill="#262626"/>
<rect x="319.32" y="77.40" width="1.42" height="10.3" fill="#262626"/>
<rect x="321.16" y="77.40" width="1.42" height="10.3" fill="#262626"/>
<rect x="323.01" y="77.40" width="1.42" height="10.3" fill="#d7d7d7"/>
<rect x="324.85" y="77.40" width="1.42" height="10.3" fill="#d7d7d7"/>
<rect x="326.69" y="77.40" width="1.42" height="10.3" fill="#d7d7d7"/>
<rect x="328.54" y="77.40" width="1.42" height="10.3" fill="#d7d7d7"/>
<rect x="330.38" y="77.40" width="1.42" height="10.3" fill="#d7d7d7"/>
<rect x="332.22" y="77.40" width="1.42" height="10.3" fill="#d7d7d7"/>
<rect x="334.06" y="77.40" width="1.42" height="10.3" fill="#d7d7d7"/>
<rect x="335.91" y="77.40" width="1.42" height="10.3" fill="#d7d7d7"/>
<rect x="337.75" y="77.40" width="1.42" height="10.3" fill="#d7d7d7"/>
<rect x="339.59" y="77.40" width="1.42" height="10.3" fill="#d7d7d7"/>
<rect x="341.44" y="77.40" width="1.42" height="10.3" fill="#d7d7d7"/>
<rect x="343.28" y="77.40" width="1.42" height="10.3" fill="#d7d7d7"/>
<rect x="345.12" y="77.40" width="1.42" height="10.3" fill="#d7d7d7"/>
<rect x="346.97" y="77.40" width="1.42" height="10.3" fill="#d7d7d7"/>
<rect x="348.81" y="77.40" width="1.42" height="10.3" fill="#d7d7d7"/>
<rect x="350.65" y="77.40" width="1.42" height="10.3" fill="#d7d7d7"/>
<rect x="352.49" y="77.40" width="1.42" height="10.3" fill="#d7d7d7"/>
<rect x="354.34" y="77.40" width="1.42" height="10.3" fill="#d7d7d7"/>
<rect x="356.18" y="77.40" width="1.42" height="10.3" fill="#d7d7d7"/>
<rect x="358.02" y="77.40" width="1.42" height="10.3" fill="#d7d7d7"/>
<rect x="359.87" y="77.40" width="1.42" height="10.3" fill="#d7d7d7"/>
<rect x="361.71" y="77.40" width="1.42" height="10.3" fill="#d7d7d7"/>
<rect x="363.55" y="77.40" width="1.42" height="10.3" fill="#262626"/>
<rect x="365.39" y="77.40" width="1.42" height="10.3" fill="#262626"/>
<rect x="367.24" y="77.40" width="1.42" height="10.3" fill="#262626"/>
<rect x="369.08" y="77.40" width="1.42" height="10.3" fill="#262626"/>
<rect x="370.92" y="77.40" width="1.42" height="10.3" fill="#262626"/>
<rect x="372.77" y="77.40" width="1.42" height="10.3" fill="#d7d7d7"/>
<rect x="374.61" y="77.40" width="1.42" height="10.3" fill="#d7d7d7"/>
<rect x="376.45" y="77.40" width="1.42" height="10.3" fill="#d7d7d7"/>
<rect x="378.30" y="77.40" width="1.42" height="10.3" fill="#d7d7d7"/>
<rect x="380.14" y="77.40" width="1.42" height="10.3" fill="#d7d7d7"/>
<rect x="381.98" y="77.40" width="1.42" height="10.3" fill="#d7d7d7"/>
<rect x="383.82" y="77.40" width="1.42" height="10.3" fill="#d7d7d7"/>
<rect x="385.67" y="77.40" width="1.42" height="10.3" fill="#d7d7d7"/>
<rect x="387.51" y="77.40" width="1.42" height="10.3" fill="#d7d7d7"/>
<rect x="389.35" y="77.40" width="1.42" height="10.3" fill="#d7d7d7"/>
<rect x="391.20" y="77.40" width="1.42" height="10.3" fill="#d7d7d7"/>
<rect x="393.04" y="77.40" width="1.42" height="10.3" fill="#d7d7d7"/>
<rect x="61.30" y="88.96" width="1.42" height="10.3" fill="#717e9f"/>
<rect x="63.14" y="88.96" width="1.42" height="10.3" fill="#717e9f"/>
<rect x="64.99" y="88.96" width="1.42" height="10.3" fill="#717e9f"/>
<rect x="66.83" y="88.96" width="1.42" height="10.3" fill="#56658f"/>
<rect x="68.67" y="88.96" width="1.42" height="10.3" fill="#96a0c0"/>
<rect x="70.52" y="88.96" width="1.42" height="10.3" fill="#8f98b4"/>
<rect x="72.36" y="88.96" width="1.42" height="10.3" fill="#a9afc4"/>
<rect x="74.20" y="88.96" width="1.42" height="10.3" fill="#7d89ae"/>
<rect x="76.04" y="88.96" width="1.42" height="10.3" fill="#b3bbd4"/>
<rect x="77.89" y="88.96" width="1.42" height="10.3" fill="#96a0c0"/>
<rect x="79.73" y="88.96" width="1.42" height="10.3" fill="#8f98b4"/>
<rect x="81.57" y="88.96" width="1.42" height="10.3" fill="#a9afc4"/>
<rect x="83.42" y="88.96" width="1.42" height="10.3" fill="#7d89ae"/>
<rect x="85.26" y="88.96" width="1.42" height="10.3" fill="#b3bbd4"/>
<rect x="87.10" y="88.96" width="1.42" height="10.3" fill="#96a0c0"/>
<rect x="88.94" y="88.96" width="1.42" height="10.3" fill="#8f98b4"/>
<rect x="90.79" y="88.96" width="1.42" height="10.3" fill="#a9afc4"/>
<rect x="92.63" y="88.96" width="1.42" height="10.3" fill="#7d89ae"/>
<rect x="94.47" y="88.96" width="1.42" height="10.3" fill="#b3bbd4"/>
<rect x="96.32" y="88.96" width="1.42" height="10.3" fill="#96a0c0"/>
<rect x="98.16" y="88.96" width="1.42" height="10.3" fill="#8f98b4"/>
<rect x="100.00" y="88.96" width="1.42" height="10.3" fill="#a9afc4"/>
<rect x="101.85" y="88.96" width="1.42" height="10.3" fill="#7d89ae"/>
<rect x="103.69" y="88.96" width="1.42" height="10.3" fill="#b3bbd4"/>
<rect x="105.53" y="88.96" width="1.42" height="10.3" fill="#96a0c0"/>
<rect x="107.38" y="88.96" width="1.42" height="10.3" fill="#8f98b4"/>
<rect x="109.22" y="88.96" width="1.42" height="10.3" fill="#92c0e8"/>
<rect x="111.06" y="88.96" width="1.42" height="10.3" fill="#92c0e8"/>
<rect x="112.90" y="88.96" width="1.42" height="10.3" fill="#a2c9eb"/>
<rect x="114.75" y="88.96" width="1.42" height="10.3" fill="#92c0e8"/>
<rect x="116.59" y="88.96" width="1.42" height="10.3" fill="#92c0e8"/>
<rect x="118.43" y="88.96" width="1.42" height="10.3" fill="#a2c9eb"/>
<rect x="120.28" y="88.96" width="1.42" height="10.3" fill="#92c0e8"/>
<rect x="122.12" y="88.96" width="1.42" height="10.3" fill="#92c0e8"/>
<rect x="123.96" y="88.96" width="1.42" height="10.3" fill="#a2c9eb"/>
<rect x="125.80" y="88.96" width="1.42" height="10.3" fill="#92c0e8"/>
<rect x="127.65" y="88.96" width="1.42" height="10.3" fill="#92c0e8"/>
<rect x="129.49" y="88.96" width="1.42" height="10.3" fill="#a2c9eb"/>
<rect x="131.33" y="88.96" width="1.42" height="10.3" fill="#92c0e8"/>
<rect x="133.18" y="88.96" width="1.42" height="10.3" fill="#92c0e8"/>
<rect x="135.02" y="88.96" width="1.42" height="10.3" fill="#a2c9eb"/>
<rect x="136.86" y="88.96" width="1.42" height="10.3" fill="#92c0e8"/>
<rect x="138.71" y="88.96" width="1.42" height="10.3" fill="#92c0e8"/>
<rect x="140.55" y="88.96" width="1.42" height="10.3" fill="#d7d7d7"/>
<rect x="142.39" y="88.96" width="1.42" height="10.3" fill="#d7d7d7"/>
<rect x="144.24" y="88.96" width="1.42" height="10.3" fill="#d7d7d7"/>
<rect x="146.08" y="88.96" width="1.42" height="10.3" fill="#d7d7d7"/>
<rect x="147.92" y="88.96" width="1.42" height="10.3" fill="#d7d7d7"/>
<rect x="149.76" y="88.96" width="1.42" height="10.3" fill="#d7d7d7"/>
<rect x="151.61" y="88.96" width="1.42" height="10.3" fill="#d7d7d7"/>
<rect x="153.45" y="88.96" width="1.42" height="10.3" fill="#d7d7d7"/>
<rect x="155.29" y="88.96" width="1.42" height="10.3" fill="#d7d7d7"/>
<rect x="157.14" y="88.96" width="1.42" height="10.3" fill="#d7d7d7"/>
<rect x="158.98" y="88.96" width="1.42" height="10.3" fill="#d7d7d7"/>
<rect x="160.82" y="88.96" width="1.42" height="10.3" fill="#d7d7d7"/>
<rect x="162.66" y="88.96" width="1.42" height="10.3" fill="#d7d7d7"/>
<rect x="164.51" y="88.96" width="1.42" height="10.3" fill="#d7d7d7"/>
<rect x="166.35" y="88.96" width="1.42" height="10.3" fill="#d7d7d7"/>
<rect x="168.19" y="88.96" width="1.42" height="10.3" fill="#d7d7d7"/>
<rect x="170.04" y="88.96" width="1.42" height="10.3" fill="#d7d7d7"/>
<rect x="171.88" y="88.96" width="1.42" height="10.3" fill="#d7d7d7"/>
<rect x="173.72" y="88.96" width="1.42" height="10.3" fill="#d7d7d7"/>
<rect x="175.57" y="88.96" width="1.42" height="10.3" fill="#d7d7d7"/>
<rect x="177.41" y="88.96" width="1.42" height="10.3" fill="#d7d7d7"/>
<rect x="179.25" y="88.96" width="1.42" height="10.3" fill="#d7d7d7"/>
<rect x="181.09" y="88.96" width="1.42" height="10.3" fill="#d7d7d7"/>
<rect x="182.94" y="88.96" width="1.42" height="10.3" fill="#d7d7d7"/>
<rect x="184.78" y="88.96" width="1.42" height="10.3" fill="#d7d7d7"/>
<rect x="186.62" y="88.96" width="1.42" height="10.3" fill="#d7d7d7"/>
<rect x="188.47" y="88.96" width="1.42" height="10.3" fill="#d7d7d7"/>
<rect x="190.31" y="88.96" width="1.42" height="10.3" fill="#d7d7d7"/>
<rect x="192.15" y="88.96" width="1.42" height="10.3" fill="#d7d7d7"/>
<rect x="194.00" y="88.96" width="1.42" height="10.3" fill="#d7d7d7"/>
<rect x="195.84" y="88.96" width="1.42" height="10.3" fill="#d7d7d7"/>
<rect x="197.68" y="88.96" width="1.42" height="10.3" fill="#d7d7d7"/>
<rect x="199.52" y="88.96" width="1.42" height="10.3" fill="#d7d7d7"/>
<rect x="201.37" y="88.96" width="1.42" height="10.3" fill="#d7d7d7"/>
<rect x="203.21" y="88.96" width="1.42" height="10.3" fill="#d7d7d7"/>
<rect x="205.05" y="88.96" width="1.42" height="10.3" fill="#d7d7d7"/>
<rect x="206.90" y="88.96" width="1.42" height="10.3" fill="#d7d7d7"/>
<rect x="208.74" y="88.96" width="1.42" height="10.3" fill="#d7d7d7"/>
<rect x="210.58" y="88.96" width="1.42" height="10.3" fill="#d7d7d7"/>
<rect x="212.43" y="88.96" width="1.42" height="10.3" fill="#d7d7d7"/>
<rect x="214.27" y="88.96" width="1.42" height="10.3" fill="#d7d7d7"/>
<rect x="216.11" y="88.96" width="1.42" height="10.3" fill="#d7d7d7"/>
<rect x="217.95" y="88.96" width="1.42" height="10.3" fill="#d7d7d7"/>
<rect x="219.80" y="88.96" width="1.42" height="10.3" fill="#d7d7d7"/>
<rect x="221.64" y="88.96" width="1.42" height="10.3" fill="#d7d7d7"/>
<rect x="223.48" y="88.96" width="1.42" height="10.3" fill="#d7d7d7"/>
<rect x="225.33" y="88.96" width="1.42" height="10.3" fill="#d7d7d7"/>
<rect x="227.17" y="88.96" width="1.42" height="10.3" fill="#d7d7d7"/>
<rect x="229.01" y="88.96" width="1.42" height="10.3" fill="#d7d7d7"/>
<rect x="230.86" y="88.96" width="1.42" height="10.3" fill="#d7d7d7"/>
<rect x="232.70" y="88.96" width="1.42" height="10.3" fill="#d7d7d7"/>
<rect x="234.54" y="88.96" width="1.42" height="10.3" fill="#d7d7d7"/>
<rect x="236.38" y="88.96" width="1.42" height="10.3" fill="#d7d7d7"/>
<rect x="238.23" y="88.96" width="1.42" height="10.3" fill="#d7d7d7"/>
<rect x="240.07" y="88.96" width="1.42" height="10.3" fill="#d7d7d7"/>
<rect x="241.91" y="88.96" width="1.42" height="10.3" fill="#d7d7d7"/>
<rect x="243.76" y="88.96" width="1.42" height="10.3" fill="#d7d7d7"/>
<rect x="245.60" y="88.96" width="1.42" height="10.3" fill="#d7d7d7"/>
<rect x="247.44" y="88.96" width="1.42" height="10.3" fill="#d7d7d7"/>
<rect x="249.29" y="88.96" width="1.42" height="10.3" fill="#d7d7d7"/>
<rect x="251.13" y="88.96" width="1.42" height="10.3" fill="#d7d7d7"/>
<rect x="252.97" y="88.96" width="1.42" height="10.3" fill="#d7d7d7"/>
<rect x="254.81" y="88.96" width="1.42" height="10.3" fill="#d7d7d7"/>
<rect x="256.66" y="88.96" width="1.42" height="10.3" fill="#d7d7d7"/>
<rect x="258.50" y="88.96" width="1.42" height="10.3" fill="#d7d7d7"/>
<rect x="260.34" y="88.96" width="1.42" height="10.3" fill="#d7d7d7"/>
<rect x="262.19" y="88.96" width="1.42" height="10.3" fill="#d7d7d7"/>
<rect x="264.03" y="88.96" width="1.42" height="10.3" fill="#d7d7d7"/>
<rect x="265.87" y="88.96" width="1.42" height="10.3" fill="#d7d7d7"/>
<rect x="267.72" y="88.96" width="1.42" height="10.3" fill="#d7d7d7"/>
<rect x="269.56" y="88.96" width="1.42" height="10.3" fill="#d7d7d7"/>
<rect x="271.40" y="88.96" width="1.42" height="10.3" fill="#d7d7d7"/>
<rect x="273.25" y="88.96" width="1.42" height="10.3" fill="#d7d7d7"/>
<rect x="275.09" y="88.96" width="1.42" height="10.3" fill="#d7d7d7"/>
<rect x="276.93" y="88.96" width="1.42" height="10.3" fill="#d7d7d7"/>
<rect x="278.77" y="88.96" width="1.42" height="10.3" fill="#d7d7d7"/>
<rect x="280.62" y="88.96" width="1.42" height="10.3" fill="#d7d7d7"/>
<rect x="282.46" y="88.96" width="1.42" height="10.3" fill="#d7d7d7"/>
<rect x="284.30" y="88.96" width="1.42" height="10.3" fill="#d7d7d7"/>
<rect x="286.15" y="88.96" width="1.42" height="10.3" fill="#d7d7d7"/>
<rect x="287.99" y="88.96" width="1.42" height="10.3" fill="#d7d7d7"/>
<rect x="289.83" y="88.96" width="1.42" height="10.3" fill="#d7d7d7"/>
<rect x="291.68" y="88.96" width="1.42" height="10.3" fill="#d7d7d7"/>
<rect x="293.52" y="88.96" width="1.42" height="10.3" fill="#d7d7d7"/>
<rect x="295.36" y="88.96" width="1.42" height="10.3" fill="#d7d7d7"/>
<rect x="297.20" y="88.96" width="1.42" height="10.3" fill="#d7d7d7"/>
<rect x="299.05" y="88.96" width="1.42" height="10.3" fill="#d7d7d7"/>
<rect x="300.89" y="88.96" width="1.42" height="10.3" fill="#d7d7d7"/>
<rect x="302.73" y="88.96" width="1.42" height="10.3" fill="#d7d7d7"/>
<rect x="304.58" y="88.96" width="1.42" height="10.3" fill="#d7d7d7"/>
<rect x="306.42" y="88.96" width="1.42" height="10.3" fill="#d7d7d7"/>
<rect x="308.26" y="88.96" width="1.42" height="10.3" fill="#d7d7d7"/>
<rect x="310.11" y="88.96" width="1.42" height="10.3" fill="#d7d7d7"/>
<rect x="311.95" y="88.96" width="1.42" height="10.3" fill="#d7d7d7"/>
<rect x="313.79" y="88.96" width="1.42" height="10.3" fill="#d7d7d7"/>
<rect x="315.63" y="88.96" width="1.42" height="10.3" fill="#d7d7d7"/>
<rect x="317.48" y="88.96" width="1.42" height="10.3" fill="#d7d7d7"/>
<rect x="319.32" y="88.96" width="1.42" height="10.3" fill="#d7d7d7"/>
<rect x="321.16" y="88.96" width="1.42" height="10.3" fill="#d7d7d7"/>
<rect x="323.01" y="88.96" width="1.42" height="10.3" fill="#d7d7d7"/>
<rect x="324.85" y="88.96" width="1.42" height="10.3" fill="#d7d7d7"/>
<rect x="326.69" y="88.96" width="1.42" height="10.3" fill="#d7d7d7"/>
<rect x="328.54" y="88.96" width="1.42" height="10.3" fill="#d7d7d7"/>
<rect x="330.38" y="88.96" width="1.42" height="10.3" fill="#d7d7d7"/>
<rect x="332.22" y="88.96" width="1.42" height="10.3" fill="#d7d7d7"/>
<rect x="334.06" y="88.96" width="1.42" height="10.3" fill="#d7d7d7"/>
<rect x="335.91" y="88.96" width="1.42" height="10.3" fill="#d7d7d7"/>
<rect x="337.75" y="88.96" width="1.42" height="10.3" fill="#d7d7d7"/>
<rect x="339.59" y="88.96" width="1.42" height="10.3" fill="#d7d7d7"/>
<rect x="341.44" y="88.96" width="1.42" height="10.3" fill="#d7d7d7"/>
<rect x="343.28" y="88.96" width="1.42" height="10.3" fill="#d7d7d7"/>
<rect x="345.12" y="88.96" width="1.42" height="10.3" fill="#d7d7d7"/>
<rect x="346.97" y="88.96" width="1.42" height="10.3" fill="#d7d7d7"/>
<rect x="348.81" y="88.96" width="1.42" height="10.3" fill="#d7d7d7"/>
<rect x="350.65" y="88.96" width="1.42" height="10.3" fill="#d7d7d7"/>
<rect x="352.49" y="88.96" width="1.42" height="10.3" fill="#d7d7d7"/>
<rect x="354.34" y="88.96" width="1.42" height="10.3" fill="#d7d7d7"/>
<rect x="356.18" y="88.96" width="1.42" height="10.3" fill="#d7d7d7"/>
<rect x="358.02" y="88.96" width="1.42" height="10.3" fill="#d7d7d7"/>
<rect x="359.87" y="88.96" width="1.42" height="10.3" fill="#d7d7d7"/>
<rect x="361.71" y="88.96" width="1.42" height="10.3" fill="#d7d7d7"/>
<rect x="363.55" y="88.96" width="1.42" height="10.3" fill="#d7d7d7"/>
<rect x="365.39" y="88.96" width="1.42" height="10.3" fill="#d7d7d7"/>
<rect x="367.24" y="88.96" width="1.42" height="10.3" fill="#d7d7d7"/>
<rect x="369.08" y="88.96" width="1.42" height="10.3" fill="#d7d7d7"/>
<rect x="370.92" y="88.96" width="1.42" height="10.3" fill="#d7d7d7"/>
<rect x="372.77" y="88.96" width="1.42" height="10.3" fill="#d7d7d7"/>
<rect x="374.61" y="88.96" width="1.42" height="10.3" fill="#d7d7d7"/>
<rect x="376.45" y="88.96" width="1.42" height="10.3" fill="#d7d7d7"/>
<rect x="378.30" y="88.96" width="1.42" height="10.3" fill="#d7d7d7"/>
<rect x="380.14" y="88.96" width="1.42" height="10.3" fill="#d7d7d7"/>
<rect x="381.98" y="88.96" width="1.42" height="10.3" fill="#d7d7d7"/>
<rect x="383.82" y="88.96" width="1.42" height="10.3" fill="#d7d7d7"/>
<rect x="385.67" y="88.96" width="1.42" height="10.3" fill="#d7d7d7"/>
<rect x="387.51" y="88.96" width="1.42" height="10.3" fill="#d7d7d7"/>
<rect x="389.35" y="88.96" width="1.42" height="10.3" fill="#d7d7d7"/>
<rect x="391.20" y="88.96" width="1.42" height="10.3" fill="#d7d7d7"/>
<rect x="393.04" y="88.96" width="1.42" height="10.3" fill="#d7d7d7"/>
<rect x="61.30" y="100.52" width="1.42" height="10.3" fill="#d7d7d7"/>
<rect x="63.14" y="100.52" width="1.42" height="10.3" fill="#d7d7d7"/>
<rect x="64.99" y="100.52" width="1.42" height="10.3" fill="#d7d7d7"/>
<rect x="68.67" y="100.52" width="1.42" height="10.3" fill="#717e9f"/>
<rect x="70.52" y="100.52" width="1.42" height="10.3" fill="#d7d7d7"/>
<rect x="72.36" y="100.52" width="1.42" height="10.3" fill="#d7d7d7"/>
<rect x="74.20" y="100.52" width="1.42" height="10.3" fill="#d7d7d7"/>
<rect x="77.89" y="100.52" width="1.42" height="10.3" fill="#d7d7d7"/>
<rect x="79.73" y="100.52" width="1.42" height="10.3" fill="#d7d7d7"/>
<rect x="81.57" y="100.52" width="1.42" height="10.3" fill="#d7d7d7"/>
<rect x="83.42" y="100.52" width="1.42" height="10.3" fill="#d7d7d7"/>
<rect x="85.26" y="100.52" width="1.42" height="10.3" fill="#d7d7d7"/>
<rect x="87.10" y="100.52" width="1.42" height="10.3" fill="#d7d7d7"/>
<rect x="88.94" y="100.52" width="1.42" height="10.3" fill="#d7d7d7"/>
<rect x="90.79" y="100.52" width="1.42" height="10.3" fill="#d7d7d7"/>
<rect x="92.63" y="100.52" width="1.42" height="10.3" fill="#d7d7d7"/>
<rect x="94.47" y="100.52" width="1.42" height="10.3" fill="#d7d7d7"/>
<rect x="96.32" y="100.52" width="1.42" height="10.3" fill="#d7d7d7"/>
<rect x="98.16" y="100.52" width="1.42" height="10.3" fill="#d7d7d7"/>
<rect x="100.00" y="100.52" width="1.42" height="10.3" fill="#d7d7d7"/>
<rect x="101.85" y="100.52" width="1.42" height="10.3" fill="#d7d7d7"/>
<rect x="103.69" y="100.52" width="1.42" height="10.3" fill="#d7d7d7"/>
<rect x="107.38" y="100.52" width="1.42" height="10.3" fill="#d7d7d7"/>
<rect x="109.22" y="100.52" width="1.42" height="10.3" fill="#717e9f"/>
<rect x="111.06" y="100.52" width="1.42" height="10.3" fill="#d7d7d7"/>
<rect x="112.90" y="100.52" width="1.42" height="10.3" fill="#d7d7d7"/>
<rect x="114.75" y="100.52" width="1.42" height="10.3" fill="#d7d7d7"/>
<rect x="116.59" y="100.52" width="1.42" height="10.3" fill="#d7d7d7"/>
<rect x="118.43" y="100.52" width="1.42" height="10.3" fill="#d7d7d7"/>
<rect x="120.28" y="100.52" width="1.42" height="10.3" fill="#d7d7d7"/>
<rect x="122.12" y="100.52" width="1.42" height="10.3" fill="#d7d7d7"/>
<rect x="123.96" y="100.52" width="1.42" height="10.3" fill="#d7d7d7"/>
<rect x="125.80" y="100.52" width="1.42" height="10.3" fill="#d7d7d7"/>
<rect x="127.65" y="100.52" width="1.42" height="10.3" fill="#d7d7d7"/>
<rect x="129.49" y="100.52" width="1.42" height="10.3" fill="#d7d7d7"/>
<rect x="131.33" y="100.52" width="1.42" height="10.3" fill="#d7d7d7"/>
<rect x="133.18" y="100.52" width="1.42" height="10.3" fill="#d7d7d7"/>
<rect x="135.02" y="100.52" width="1.42" height="10.3" fill="#d7d7d7"/>
<rect x="136.86" y="100.52" width="1.42" height="10.3" fill="#d7d7d7"/>
<rect x="140.55" y="100.52" width="1.42" height="10.3" fill="#7d8aa8"/>
<rect x="142.39" y="100.52" width="1.42" height="10.3" fill="#717e9f"/>
<rect x="144.24" y="100.52" width="1.42" height="10.3" fill="#7f8fc2"/>
<rect x="146.08" y="100.52" width="1.42" height="10.3" fill="#717e9f"/>
<rect x="147.92" y="100.52" width="1.42" height="10.3" fill="#8898c8"/>
<rect x="149.76" y="100.52" width="1.42" height="10.3" fill="#5f6d96"/>
<rect x="151.61" y="100.52" width="1.42" height="10.3" fill="#8f98b4"/>
<rect x="153.45" y="100.52" width="1.42" height="10.3" fill="#5f6d96"/>
<rect x="155.29" y="100.52" width="1.42" height="10.3" fill="#8f98b4"/>
<rect x="157.14" y="100.52" width="1.42" height="10.3" fill="#b0b7cc"/>
<rect x="158.98" y="100.52" width="1.42" height="10.3" fill="#717e9f"/>
<rect x="160.82" y="100.52" width="1.42" height="10.3" fill="#a9afc4"/>
<rect x="162.66" y="100.52" width="1.42" height="10.3" fill="#a9afc4"/>
<rect x="164.51" y="100.52" width="1.42" height="10.3" fill="#8f98b4"/>
<rect x="166.35" y="100.52" width="1.42" height="10.3" fill="#b0b7cc"/>
<rect x="168.19" y="100.52" width="1.42" height="10.3" fill="#717e9f"/>
<rect x="170.04" y="100.52" width="1.42" height="10.3" fill="#a9afc4"/>
<rect x="171.88" y="100.52" width="1.42" height="10.3" fill="#a9afc4"/>
<rect x="173.72" y="100.52" width="1.42" height="10.3" fill="#8f98b4"/>
<rect x="175.57" y="100.52" width="1.42" height="10.3" fill="#b0b7cc"/>
<rect x="177.41" y="100.52" width="1.42" height="10.3" fill="#717e9f"/>
<rect x="179.25" y="100.52" width="1.42" height="10.3" fill="#a9afc4"/>
<rect x="181.09" y="100.52" width="1.42" height="10.3" fill="#a9afc4"/>
<rect x="182.94" y="100.52" width="1.42" height="10.3" fill="#8f98b4"/>
<rect x="184.78" y="100.52" width="1.42" height="10.3" fill="#b0b7cc"/>
<rect x="186.62" y="100.52" width="1.42" height="10.3" fill="#717e9f"/>
<rect x="188.47" y="100.52" width="1.42" height="10.3" fill="#a9afc4"/>
<rect x="190.31" y="100.52" width="1.42" height="10.3" fill="#a9afc4"/>
<rect x="192.15" y="100.52" width="1.42" height="10.3" fill="#8f98b4"/>
<rect x="194.00" y="100.52" width="1.42" height="10.3" fill="#b0b7cc"/>
<rect x="195.84" y="100.52" width="1.42" height="10.3" fill="#92c0e8"/>
<rect x="197.68" y="100.52" width="1.42" height="10.3" fill="#92c0e8"/>
<rect x="199.52" y="100.52" width="1.42" height="10.3" fill="#92c0e8"/>
<rect x="201.37" y="100.52" width="1.42" height="10.3" fill="#92c0e8"/>
<rect x="203.21" y="100.52" width="1.42" height="10.3" fill="#79b062"/>
<rect x="205.05" y="100.52" width="1.42" height="10.3" fill="#93cd63"/>
<rect x="206.90" y="100.52" width="1.42" height="10.3" fill="#93cd63"/>
<rect x="208.74" y="100.52" width="1.42" height="10.3" fill="#93cd63"/>
<rect x="210.58" y="100.52" width="1.42" height="10.3" fill="#93cd63"/>
<rect x="212.43" y="100.52" width="1.42" height="10.3" fill="#93cd63"/>
<rect x="214.27" y="100.52" width="1.42" height="10.3" fill="#93cd63"/>
<rect x="216.11" y="100.52" width="1.42" height="10.3" fill="#93cd63"/>
<rect x="217.95" y="100.52" width="1.42" height="10.3" fill="#d7d7d7"/>
<rect x="219.80" y="100.52" width="1.42" height="10.3" fill="#d7d7d7"/>
<rect x="221.64" y="100.52" width="1.42" height="10.3" fill="#d7d7d7"/>
<rect x="223.48" y="100.52" width="1.42" height="10.3" fill="#d7d7d7"/>
<rect x="225.33" y="100.52" width="1.42" height="10.3" fill="#d7d7d7"/>
<rect x="227.17" y="100.52" width="1.42" height="10.3" fill="#d7d7d7"/>
<rect x="229.01" y="100.52" width="1.42" height="10.3" fill="#d7d7d7"/>
<rect x="230.86" y="100.52" width="1.42" height="10.3" fill="#d7d7d7"/>
<rect x="232.70" y="100.52" width="1.42" height="10.3" fill="#d7d7d7"/>
<rect x="234.54" y="100.52" width="1.42" height="10.3" fill="#d7d7d7"/>
<rect x="236.38" y="100.52" width="1.42" height="10.3" fill="#d7d7d7"/>
<rect x="238.23" y="100.52" width="1.42" height="10.3" fill="#d7d7d7"/>
<rect x="240.07" y="100.52" width="1.42" height="10.3" fill="#d7d7d7"/>
<rect x="241.91" y="100.52" width="1.42" height="10.3" fill="#d7d7d7"/>
<rect x="243.76" y="100.52" width="1.42" height="10.3" fill="#d7d7d7"/>
<rect x="245.60" y="100.52" width="1.42" height="10.3" fill="#d7d7d7"/>
<rect x="247.44" y="100.52" width="1.42" height="10.3" fill="#d7d7d7"/>
<rect x="249.29" y="100.52" width="1.42" height="10.3" fill="#d7d7d7"/>
<rect x="251.13" y="100.52" width="1.42" height="10.3" fill="#d7d7d7"/>
<rect x="252.97" y="100.52" width="1.42" height="10.3" fill="#d7d7d7"/>
<rect x="254.81" y="100.52" width="1.42" height="10.3" fill="#d7d7d7"/>
<rect x="256.66" y="100.52" width="1.42" height="10.3" fill="#d7d7d7"/>
<rect x="258.50" y="100.52" width="1.42" height="10.3" fill="#d7d7d7"/>
<rect x="260.34" y="100.52" width="1.42" height="10.3" fill="#d7d7d7"/>
<rect x="262.19" y="100.52" width="1.42" height="10.3" fill="#d7d7d7"/>
<rect x="264.03" y="100.52" width="1.42" height="10.3" fill="#d7d7d7"/>
<rect x="265.87" y="100.52" width="1.42" height="10.3" fill="#d7d7d7"/>
<rect x="267.72" y="100.52" width="1.42" height="10.3" fill="#d7d7d7"/>
<rect x="269.56" y="100.52" width="1.42" height="10.3" fill="#d7d7d7"/>
<rect x="273.25" y="100.52" width="1.42" height="10.3" fill="#d7d7d7"/>
<rect x="276.93" y="100.52" width="1.42" height="10.3" fill="#d7d7d7"/>
<rect x="278.77" y="100.52" width="1.42" height="10.3" fill="#d7d7d7"/>
<rect x="280.62" y="100.52" width="1.42" height="10.3" fill="#d7d7d7"/>
<rect x="282.46" y="100.52" width="1.42" height="10.3" fill="#d7d7d7"/>
<rect x="284.30" y="100.52" width="1.42" height="10.3" fill="#d7d7d7"/>
<rect x="286.15" y="100.52" width="1.42" height="10.3" fill="#d7d7d7"/>
<rect x="287.99" y="100.52" width="1.42" height="10.3" fill="#d7d7d7"/>
<rect x="289.83" y="100.52" width="1.42" height="10.3" fill="#d7d7d7"/>
<rect x="291.68" y="100.52" width="1.42" height="10.3" fill="#d7d7d7"/>
<rect x="293.52" y="100.52" width="1.42" height="10.3" fill="#d7d7d7"/>
<rect x="295.36" y="100.52" width="1.42" height="10.3" fill="#d7d7d7"/>
<rect x="297.20" y="100.52" width="1.42" height="10.3" fill="#d7d7d7"/>
<rect x="299.05" y="100.52" width="1.42" height="10.3" fill="#d7d7d7"/>
<rect x="300.89" y="100.52" width="1.42" height="10.3" fill="#d7d7d7"/>
<rect x="302.73" y="100.52" width="1.42" height="10.3" fill="#d7d7d7"/>
<rect x="304.58" y="100.52" width="1.42" height="10.3" fill="#d7d7d7"/>
<rect x="306.42" y="100.52" width="1.42" height="10.3" fill="#d7d7d7"/>
<rect x="308.26" y="100.52" width="1.42" height="10.3" fill="#d7d7d7"/>
<rect x="310.11" y="100.52" width="1.42" height="10.3" fill="#d7d7d7"/>
<rect x="311.95" y="100.52" width="1.42" height="10.3" fill="#d7d7d7"/>
<rect x="313.79" y="100.52" width="1.42" height="10.3" fill="#d7d7d7"/>
<rect x="315.63" y="100.52" width="1.42" height="10.3" fill="#d7d7d7"/>
<rect x="317.48" y="100.52" width="1.42" height="10.3" fill="#d7d7d7"/>
<rect x="319.32" y="100.52" width="1.42" height="10.3" fill="#d7d7d7"/>
<rect x="323.01" y="100.52" width="1.42" height="10.3" fill="#d7d7d7"/>
<rect x="324.85" y="100.52" width="1.42" height="10.3" fill="#d7d7d7"/>
<rect x="326.69" y="100.52" width="1.42" height="10.3" fill="#d7d7d7"/>
<rect x="328.54" y="100.52" width="1.42" height="10.3" fill="#d7d7d7"/>
<rect x="330.38" y="100.52" width="1.42" height="10.3" fill="#d7d7d7"/>
<rect x="332.22" y="100.52" width="1.42" height="10.3" fill="#d7d7d7"/>
<rect x="334.06" y="100.52" width="1.42" height="10.3" fill="#d7d7d7"/>
<rect x="335.91" y="100.52" width="1.42" height="10.3" fill="#d7d7d7"/>
<rect x="337.75" y="100.52" width="1.42" height="10.3" fill="#d7d7d7"/>
<rect x="339.59" y="100.52" width="1.42" height="10.3" fill="#d7d7d7"/>
<rect x="341.44" y="100.52" width="1.42" height="10.3" fill="#d7d7d7"/>
<rect x="343.28" y="100.52" width="1.42" height="10.3" fill="#d7d7d7"/>
<rect x="345.12" y="100.52" width="1.42" height="10.3" fill="#d7d7d7"/>
<rect x="346.97" y="100.52" width="1.42" height="10.3" fill="#d7d7d7"/>
<rect x="348.81" y="100.52" width="1.42" height="10.3" fill="#d7d7d7"/>
<rect x="350.65" y="100.52" width="1.42" height="10.3" fill="#d7d7d7"/>
<rect x="352.49" y="100.52" width="1.42" height="10.3" fill="#d7d7d7"/>
<rect x="354.34" y="100.52" width="1.42" height="10.3" fill="#d7d7d7"/>
<rect x="356.18" y="100.52" width="1.42" height="10.3" fill="#d7d7d7"/>
<rect x="358.02" y="100.52" width="1.42" height="10.3" fill="#d7d7d7"/>
<rect x="359.87" y="100.52" width="1.42" height="10.3" fill="#d7d7d7"/>
<rect x="361.71" y="100.52" width="1.42" height="10.3" fill="#d7d7d7"/>
<rect x="363.55" y="100.52" width="1.42" height="10.3" fill="#d7d7d7"/>
<rect x="365.39" y="100.52" width="1.42" height="10.3" fill="#d7d7d7"/>
<rect x="367.24" y="100.52" width="1.42" height="10.3" fill="#d7d7d7"/>
<rect x="369.08" y="100.52" width="1.42" height="10.3" fill="#d7d7d7"/>
<rect x="370.92" y="100.52" width="1.42" height="10.3" fill="#d7d7d7"/>
<rect x="372.77" y="100.52" width="1.42" height="10.3" fill="#d7d7d7"/>
<rect x="374.61" y="100.52" width="1.42" height="10.3" fill="#d7d7d7"/>
<rect x="376.45" y="100.52" width="1.42" height="10.3" fill="#d7d7d7"/>
<rect x="378.30" y="100.52" width="1.42" height="10.3" fill="#d7d7d7"/>
<rect x="380.14" y="100.52" width="1.42" height="10.3" fill="#d7d7d7"/>
<rect x="381.98" y="100.52" width="1.42" height="10.3" fill="#d7d7d7"/>
<rect x="383.82" y="100.52" width="1.42" height="10.3" fill="#d7d7d7"/>
<rect x="385.67" y="100.52" width="1.42" height="10.3" fill="#d7d7d7"/>
<rect x="387.51" y="100.52" width="1.42" height="10.3" fill="#d7d7d7"/>
<rect x="391.20" y="100.52" width="1.42" height="10.3" fill="#d7d7d7"/>
<rect x="393.04" y="100.52" width="1.42" height="10.3" fill="#d7d7d7"/>
<rect x="61.30" y="112.08" width="1.42" height="10.3" fill="#d7d7d7"/>
<rect x="63.14" y="112.08" width="1.42" height="10.3" fill="#d7d7d7"/>
<rect x="64.99" y="112.08" width="1.42" height="10.3" fill="#d7d7d7"/>
<rect x="68.67" y="112.08" width="1.42" height="10.3" fill="#d7d7d7"/>
<rect x="70.52" y="112.08" width="1.42" height="10.3" fill="#92c0e8"/>
<rect x="72.36" y="112.08" width="1.42" height="10.3" fill="#d7d7d7"/>
<rect x="74.20" y="112.08" width="1.42" height="10.3" fill="#d7d7d7"/>
<rect x="77.89" y="112.08" width="1.42" height="10.3" fill="#d7d7d7"/>
<rect x="79.73" y="112.08" width="1.42" height="10.3" fill="#d7d7d7"/>
<rect x="81.57" y="112.08" width="1.42" height="10.3" fill="#d7d7d7"/>
<rect x="83.42" y="112.08" width="1.42" height="10.3" fill="#d7d7d7"/>
<rect x="85.26" y="112.08" width="1.42" height="10.3" fill="#d7d7d7"/>
<rect x="87.10" y="112.08" width="1.42" height="10.3" fill="#d7d7d7"/>
<rect x="88.94" y="112.08" width="1.42" height="10.3" fill="#d7d7d7"/>
<rect x="90.79" y="112.08" width="1.42" height="10.3" fill="#d7d7d7"/>
<rect x="92.63" y="112.08" width="1.42" height="10.3" fill="#d7d7d7"/>
<rect x="94.47" y="112.08" width="1.42" height="10.3" fill="#d7d7d7"/>
<rect x="96.32" y="112.08" width="1.42" height="10.3" fill="#d7d7d7"/>
<rect x="98.16" y="112.08" width="1.42" height="10.3" fill="#d7d7d7"/>
<rect x="100.00" y="112.08" width="1.42" height="10.3" fill="#d7d7d7"/>
<rect x="101.85" y="112.08" width="1.42" height="10.3" fill="#d7d7d7"/>
<rect x="103.69" y="112.08" width="1.42" height="10.3" fill="#d7d7d7"/>
<rect x="107.38" y="112.08" width="1.42" height="10.3" fill="#d7d7d7"/>
<rect x="109.22" y="112.08" width="1.42" height="10.3" fill="#d7d7d7"/>
<rect x="111.06" y="112.08" width="1.42" height="10.3" fill="#d7d7d7"/>
<rect x="112.90" y="112.08" width="1.42" height="10.3" fill="#d7d7d7"/>
<rect x="114.75" y="112.08" width="1.42" height="10.3" fill="#d7d7d7"/>
<rect x="116.59" y="112.08" width="1.42" height="10.3" fill="#d7d7d7"/>
<rect x="118.43" y="112.08" width="1.42" height="10.3" fill="#d7d7d7"/>
<rect x="120.28" y="112.08" width="1.42" height="10.3" fill="#d7d7d7"/>
<rect x="122.12" y="112.08" width="1.42" height="10.3" fill="#d7d7d7"/>
<rect x="123.96" y="112.08" width="1.42" height="10.3" fill="#d7d7d7"/>
<rect x="125.80" y="112.08" width="1.42" height="10.3" fill="#d7d7d7"/>
<rect x="127.65" y="112.08" width="1.42" height="10.3" fill="#d7d7d7"/>
<rect x="129.49" y="112.08" width="1.42" height="10.3" fill="#d7d7d7"/>
<rect x="131.33" y="112.08" width="1.42" height="10.3" fill="#d7d7d7"/>
<rect x="133.18" y="112.08" width="1.42" height="10.3" fill="#d7d7d7"/>
<rect x="135.02" y="112.08" width="1.42" height="10.3" fill="#d7d7d7"/>
<rect x="136.86" y="112.08" width="1.42" height="10.3" fill="#d7d7d7"/>
<rect x="140.55" y="112.08" width="1.42" height="10.3" fill="#d7d7d7"/>
<rect x="142.39" y="112.08" width="1.42" height="10.3" fill="#92c0e8"/>
<rect x="144.24" y="112.08" width="1.42" height="10.3" fill="#d7d7d7"/>
<rect x="146.08" y="112.08" width="1.42" height="10.3" fill="#d7d7d7"/>
<rect x="147.92" y="112.08" width="1.42" height="10.3" fill="#d7d7d7"/>
<rect x="149.76" y="112.08" width="1.42" height="10.3" fill="#d7d7d7"/>
<rect x="151.61" y="112.08" width="1.42" height="10.3" fill="#d7d7d7"/>
<rect x="153.45" y="112.08" width="1.42" height="10.3" fill="#d7d7d7"/>
<rect x="155.29" y="112.08" width="1.42" height="10.3" fill="#4a5a8c"/>
<rect x="157.14" y="112.08" width="1.42" height="10.3" fill="#92c0e8"/>
<rect x="158.98" y="112.08" width="1.42" height="10.3" fill="#d7d7d7"/>
<rect x="160.82" y="112.08" width="1.42" height="10.3" fill="#d7d7d7"/>
<rect x="162.66" y="112.08" width="1.42" height="10.3" fill="#d7d7d7"/>
<rect x="164.51" y="112.08" width="1.42" height="10.3" fill="#d7d7d7"/>
<rect x="166.35" y="112.08" width="1.42" height="10.3" fill="#d7d7d7"/>
<rect x="168.19" y="112.08" width="1.42" height="10.3" fill="#d7d7d7"/>
<rect x="170.04" y="112.08" width="1.42" height="10.3" fill="#d7d7d7"/>
<rect x="171.88" y="112.08" width="1.42" height="10.3" fill="#d7d7d7"/>
<rect x="173.72" y="112.08" width="1.42" height="10.3" fill="#d7d7d7"/>
<rect x="175.57" y="112.08" width="1.42" height="10.3" fill="#d7d7d7"/>
<rect x="177.41" y="112.08" width="1.42" height="10.3" fill="#d7d7d7"/>
<rect x="179.25" y="112.08" width="1.42" height="10.3" fill="#d7d7d7"/>
<rect x="181.09" y="112.08" width="1.42" height="10.3" fill="#d7d7d7"/>
<rect x="182.94" y="112.08" width="1.42" height="10.3" fill="#d7d7d7"/>
<rect x="184.78" y="112.08" width="1.42" height="10.3" fill="#d7d7d7"/>
<rect x="186.62" y="112.08" width="1.42" height="10.3" fill="#d7d7d7"/>
<rect x="188.47" y="112.08" width="1.42" height="10.3" fill="#d7d7d7"/>
<rect x="190.31" y="112.08" width="1.42" height="10.3" fill="#d7d7d7"/>
<rect x="192.15" y="112.08" width="1.42" height="10.3" fill="#d7d7d7"/>
<rect x="194.00" y="112.08" width="1.42" height="10.3" fill="#d7d7d7"/>
<rect x="195.84" y="112.08" width="1.42" height="10.3" fill="#d7d7d7"/>
<rect x="197.68" y="112.08" width="1.42" height="10.3" fill="#d7d7d7"/>
<rect x="199.52" y="112.08" width="1.42" height="10.3" fill="#d7d7d7"/>
<rect x="201.37" y="112.08" width="1.42" height="10.3" fill="#d7d7d7"/>
<rect x="203.21" y="112.08" width="1.42" height="10.3" fill="#d7d7d7"/>
<rect x="205.05" y="112.08" width="1.42" height="10.3" fill="#d7d7d7"/>
<rect x="206.90" y="112.08" width="1.42" height="10.3" fill="#d7d7d7"/>
<rect x="208.74" y="112.08" width="1.42" height="10.3" fill="#d7d7d7"/>
<rect x="210.58" y="112.08" width="1.42" height="10.3" fill="#d7d7d7"/>
<rect x="212.43" y="112.08" width="1.42" height="10.3" fill="#d7d7d7"/>
<rect x="214.27" y="112.08" width="1.42" height="10.3" fill="#d7d7d7"/>
<rect x="216.11" y="112.08" width="1.42" height="10.3" fill="#d7d7d7"/>
<rect x="217.95" y="112.08" width="1.42" height="10.3" fill="#4a5a8c"/>
<rect x="219.80" y="112.08" width="1.42" height="10.3" fill="#a9afc4"/>
<rect x="221.64" y="112.08" width="1.42" height="10.3" fill="#8f98b4"/>
<rect x="223.48" y="112.08" width="1.42" height="10.3" fill="#a9afc4"/>
<rect x="225.33" y="112.08" width="1.42" height="10.3" fill="#8f98b4"/>
<rect x="227.17" y="112.08" width="1.42" height="10.3" fill="#a9afc4"/>
<rect x="229.01" y="112.08" width="1.42" height="10.3" fill="#8f98b4"/>
<rect x="230.86" y="112.08" width="1.42" height="10.3" fill="#92c0e8"/>
<rect x="232.70" y="112.08" width="1.42" height="10.3" fill="#92c0e8"/>
<rect x="234.54" y="112.08" width="1.42" height="10.3" fill="#92c0e8"/>
<rect x="236.38" y="112.08" width="1.42" height="10.3" fill="#92c0e8"/>
<rect x="238.23" y="112.08" width="1.42" height="10.3" fill="#92c0e8"/>
<rect x="240.07" y="112.08" width="1.42" height="10.3" fill="#92c0e8"/>
<rect x="241.91" y="112.08" width="1.42" height="10.3" fill="#d7d7d7"/>
<rect x="243.76" y="112.08" width="1.42" height="10.3" fill="#d7d7d7"/>
<rect x="245.60" y="112.08" width="1.42" height="10.3" fill="#d7d7d7"/>
<rect x="247.44" y="112.08" width="1.42" height="10.3" fill="#d7d7d7"/>
<rect x="249.29" y="112.08" width="1.42" height="10.3" fill="#d7d7d7"/>
<rect x="251.13" y="112.08" width="1.42" height="10.3" fill="#d7d7d7"/>
<rect x="252.97" y="112.08" width="1.42" height="10.3" fill="#d7d7d7"/>
<rect x="254.81" y="112.08" width="1.42" height="10.3" fill="#d7d7d7"/>
<rect x="256.66" y="112.08" width="1.42" height="10.3" fill="#d7d7d7"/>
<rect x="258.50" y="112.08" width="1.42" height="10.3" fill="#d7d7d7"/>
<rect x="260.34" y="112.08" width="1.42" height="10.3" fill="#d7d7d7"/>
<rect x="262.19" y="112.08" width="1.42" height="10.3" fill="#d7d7d7"/>
<rect x="264.03" y="112.08" width="1.42" height="10.3" fill="#d7d7d7"/>
<rect x="265.87" y="112.08" width="1.42" height="10.3" fill="#d7d7d7"/>
<rect x="267.72" y="112.08" width="1.42" height="10.3" fill="#d7d7d7"/>
<rect x="269.56" y="112.08" width="1.42" height="10.3" fill="#d7d7d7"/>
<rect x="271.40" y="112.08" width="1.42" height="10.3" fill="#d7d7d7"/>
<rect x="273.25" y="112.08" width="1.42" height="10.3" fill="#d7d7d7"/>
<rect x="275.09" y="112.08" width="1.42" height="10.3" fill="#d7d7d7"/>
<rect x="276.93" y="112.08" width="1.42" height="10.3" fill="#d7d7d7"/>
<rect x="278.77" y="112.08" width="1.42" height="10.3" fill="#d7d7d7"/>
<rect x="280.62" y="112.08" width="1.42" height="10.3" fill="#d7d7d7"/>
<rect x="282.46" y="112.08" width="1.42" height="10.3" fill="#d7d7d7"/>
<rect x="284.30" y="112.08" width="1.42" height="10.3" fill="#d7d7d7"/>
<rect x="286.15" y="112.08" width="1.42" height="10.3" fill="#d7d7d7"/>
<rect x="287.99" y="112.08" width="1.42" height="10.3" fill="#d7d7d7"/>
<rect x="289.83" y="112.08" width="1.42" height="10.3" fill="#d7d7d7"/>
<rect x="291.68" y="112.08" width="1.42" height="10.3" fill="#d7d7d7"/>
<rect x="293.52" y="112.08" width="1.42" height="10.3" fill="#d7d7d7"/>
<rect x="295.36" y="112.08" width="1.42" height="10.3" fill="#d7d7d7"/>
<rect x="297.20" y="112.08" width="1.42" height="10.3" fill="#d7d7d7"/>
<rect x="299.05" y="112.08" width="1.42" height="10.3" fill="#d7d7d7"/>
<rect x="300.89" y="112.08" width="1.42" height="10.3" fill="#d7d7d7"/>
<rect x="302.73" y="112.08" width="1.42" height="10.3" fill="#d7d7d7"/>
<rect x="304.58" y="112.08" width="1.42" height="10.3" fill="#d7d7d7"/>
<rect x="306.42" y="112.08" width="1.42" height="10.3" fill="#d7d7d7"/>
<rect x="308.26" y="112.08" width="1.42" height="10.3" fill="#d7d7d7"/>
<rect x="310.11" y="112.08" width="1.42" height="10.3" fill="#d7d7d7"/>
<rect x="311.95" y="112.08" width="1.42" height="10.3" fill="#d7d7d7"/>
<rect x="313.79" y="112.08" width="1.42" height="10.3" fill="#d7d7d7"/>
<rect x="315.63" y="112.08" width="1.42" height="10.3" fill="#d7d7d7"/>
<rect x="317.48" y="112.08" width="1.42" height="10.3" fill="#d7d7d7"/>
<rect x="319.32" y="112.08" width="1.42" height="10.3" fill="#d7d7d7"/>
<rect x="321.16" y="112.08" width="1.42" height="10.3" fill="#d7d7d7"/>
<rect x="323.01" y="112.08" width="1.42" height="10.3" fill="#d7d7d7"/>
<rect x="324.85" y="112.08" width="1.42" height="10.3" fill="#d7d7d7"/>
<rect x="326.69" y="112.08" width="1.42" height="10.3" fill="#d7d7d7"/>
<rect x="328.54" y="112.08" width="1.42" height="10.3" fill="#d7d7d7"/>
<rect x="330.38" y="112.08" width="1.42" height="10.3" fill="#d7d7d7"/>
<rect x="332.22" y="112.08" width="1.42" height="10.3" fill="#d7d7d7"/>
<rect x="334.06" y="112.08" width="1.42" height="10.3" fill="#d7d7d7"/>
<rect x="335.91" y="112.08" width="1.42" height="10.3" fill="#d7d7d7"/>
<rect x="337.75" y="112.08" width="1.42" height="10.3" fill="#d7d7d7"/>
<rect x="339.59" y="112.08" width="1.42" height="10.3" fill="#d7d7d7"/>
<rect x="341.44" y="112.08" width="1.42" height="10.3" fill="#d7d7d7"/>
<rect x="343.28" y="112.08" width="1.42" height="10.3" fill="#d7d7d7"/>
<rect x="345.12" y="112.08" width="1.42" height="10.3" fill="#d7d7d7"/>
<rect x="346.97" y="112.08" width="1.42" height="10.3" fill="#d7d7d7"/>
<rect x="348.81" y="112.08" width="1.42" height="10.3" fill="#d7d7d7"/>
<rect x="350.65" y="112.08" width="1.42" height="10.3" fill="#d7d7d7"/>
<rect x="352.49" y="112.08" width="1.42" height="10.3" fill="#d7d7d7"/>
<rect x="354.34" y="112.08" width="1.42" height="10.3" fill="#d7d7d7"/>
<rect x="356.18" y="112.08" width="1.42" height="10.3" fill="#d7d7d7"/>
<rect x="358.02" y="112.08" width="1.42" height="10.3" fill="#d7d7d7"/>
<rect x="359.87" y="112.08" width="1.42" height="10.3" fill="#d7d7d7"/>
<rect x="361.71" y="112.08" width="1.42" height="10.3" fill="#d7d7d7"/>
<rect x="363.55" y="112.08" width="1.42" height="10.3" fill="#d7d7d7"/>
<rect x="365.39" y="112.08" width="1.42" height="10.3" fill="#d7d7d7"/>
<rect x="367.24" y="112.08" width="1.42" height="10.3" fill="#d7d7d7"/>
<rect x="369.08" y="112.08" width="1.42" height="10.3" fill="#d7d7d7"/>
<rect x="370.92" y="112.08" width="1.42" height="10.3" fill="#d7d7d7"/>
<rect x="372.77" y="112.08" width="1.42" height="10.3" fill="#d7d7d7"/>
<rect x="374.61" y="112.08" width="1.42" height="10.3" fill="#d7d7d7"/>
<rect x="376.45" y="112.08" width="1.42" height="10.3" fill="#d7d7d7"/>
<rect x="378.30" y="112.08" width="1.42" height="10.3" fill="#d7d7d7"/>
<rect x="380.14" y="112.08" width="1.42" height="10.3" fill="#d7d7d7"/>
<rect x="381.98" y="112.08" width="1.42" height="10.3" fill="#d7d7d7"/>
<rect x="383.82" y="112.08" width="1.42" height="10.3" fill="#d7d7d7"/>
<rect x="385.67" y="112.08" width="1.42" height="10.3" fill="#d7d7d7"/>
<rect x="387.51" y="112.08" width="1.42" height="10.3" fill="#d7d7d7"/>
<rect x="389.35" y="112.08" width="1.42" height="10.3" fill="#d7d7d7"/>
<rect x="391.20" y="112.08" width="1.42" height="10.3" fill="#d7d7d7"/>
<rect x="393.04" y="112.08" width="1.42" height="10.3" fill="#d7d7d7"/>
<rect x="61.30" y="123.64" width="1.42" height="10.3" fill="#d7d7d7"/>
<rect x="63.14" y="123.64" width="1.42" height="10.3" fill="#d7d7d7"/>
<rect x="64.99" y="123.64" width="1.42" height="10.3" fill="#d7d7d7"/>
<rect x="68.67" y="123.64" width="1.42" height="10.3" fill="#d7d7d7"/>
<rect x="70.52" y="123.64" width="1.42" height="10.3" fill="#d7d7d7"/>
<rect x="72.36" y="123.64" width="1.42" height="10.3" fill="#8f98b4"/>
<rect x="74.20" y="123.64" width="1.42" height="10.3" fill="#717e9f"/>
<rect x="76.04" y="123.64" width="1.42" height="10.3" fill="#8f98b4"/>
<rect x="77.89" y="123.64" width="1.42" height="10.3" fill="#a9afc4"/>
<rect x="79.73" y="123.64" width="1.42" height="10.3" fill="#d7d7d7"/>
<rect x="81.57" y="123.64" width="1.42" height="10.3" fill="#d7d7d7"/>
<rect x="83.42" y="123.64" width="1.42" height="10.3" fill="#d7d7d7"/>
<rect x="85.26" y="123.64" width="1.42" height="10.3" fill="#d7d7d7"/>
<rect x="87.10" y="123.64" width="1.42" height="10.3" fill="#d7d7d7"/>
<rect x="88.94" y="123.64" width="1.42" height="10.3" fill="#d7d7d7"/>
<rect x="90.79" y="123.64" width="1.42" height="10.3" fill="#d7d7d7"/>
<rect x="92.63" y="123.64" width="1.42" height="10.3" fill="#d7d7d7"/>
<rect x="94.47" y="123.64" width="1.42" height="10.3" fill="#d7d7d7"/>
<rect x="96.32" y="123.64" width="1.42" height="10.3" fill="#d7d7d7"/>
<rect x="98.16" y="123.64" width="1.42" height="10.3" fill="#d7d7d7"/>
<rect x="100.00" y="123.64" width="1.42" height="10.3" fill="#d7d7d7"/>
<rect x="101.85" y="123.64" width="1.42" height="10.3" fill="#d7d7d7"/>
<rect x="103.69" y="123.64" width="1.42" height="10.3" fill="#d7d7d7"/>
<rect x="107.38" y="123.64" width="1.42" height="10.3" fill="#d7d7d7"/>
<rect x="109.22" y="123.64" width="1.42" height="10.3" fill="#d7d7d7"/>
<rect x="111.06" y="123.64" width="1.42" height="10.3" fill="#92c0e8"/>
<rect x="112.90" y="123.64" width="1.42" height="10.3" fill="#a2c9eb"/>
<rect x="114.75" y="123.64" width="1.42" height="10.3" fill="#92c0e8"/>
<rect x="116.59" y="123.64" width="1.42" height="10.3" fill="#d7d7d7"/>
<rect x="118.43" y="123.64" width="1.42" height="10.3" fill="#d7d7d7"/>
<rect x="120.28" y="123.64" width="1.42" height="10.3" fill="#d7d7d7"/>
<rect x="122.12" y="123.64" width="1.42" height="10.3" fill="#d7d7d7"/>
<rect x="123.96" y="123.64" width="1.42" height="10.3" fill="#d7d7d7"/>
<rect x="125.80" y="123.64" width="1.42" height="10.3" fill="#d7d7d7"/>
<rect x="127.65" y="123.64" width="1.42" height="10.3" fill="#d7d7d7"/>
<rect x="129.49" y="123.64" width="1.42" height="10.3" fill="#d7d7d7"/>
<rect x="131.33" y="123.64" width="1.42" height="10.3" fill="#d7d7d7"/>
<rect x="133.18" y="123.64" width="1.42" height="10.3" fill="#d7d7d7"/>
<rect x="135.02" y="123.64" width="1.42" height="10.3" fill="#d7d7d7"/>
<rect x="136.86" y="123.64" width="1.42" height="10.3" fill="#d7d7d7"/>
<rect x="140.55" y="123.64" width="1.42" height="10.3" fill="#d7d7d7"/>
<rect x="142.39" y="123.64" width="1.42" height="10.3" fill="#92c0e8"/>
<rect x="144.24" y="123.64" width="1.42" height="10.3" fill="#a9afc4"/>
<rect x="146.08" y="123.64" width="1.42" height="10.3" fill="#8f98b4"/>
<rect x="147.92" y="123.64" width="1.42" height="10.3" fill="#d7d7d7"/>
<rect x="149.76" y="123.64" width="1.42" height="10.3" fill="#d7d7d7"/>
<rect x="151.61" y="123.64" width="1.42" height="10.3" fill="#d7d7d7"/>
<rect x="153.45" y="123.64" width="1.42" height="10.3" fill="#d7d7d7"/>
<rect x="155.29" y="123.64" width="1.42" height="10.3" fill="#d7d7d7"/>
<rect x="157.14" y="123.64" width="1.42" height="10.3" fill="#d7d7d7"/>
<rect x="158.98" y="123.64" width="1.42" height="10.3" fill="#717e9f"/>
<rect x="160.82" y="123.64" width="1.42" height="10.3" fill="#8f98b4"/>
<rect x="162.66" y="123.64" width="1.42" height="10.3" fill="#92c0e8"/>
<rect x="164.51" y="123.64" width="1.42" height="10.3" fill="#8f98b4"/>
<rect x="166.35" y="123.64" width="1.42" height="10.3" fill="#a9afc4"/>
<rect x="168.19" y="123.64" width="1.42" height="10.3" fill="#717e9f"/>
<rect x="170.04" y="123.64" width="1.42" height="10.3" fill="#8f98b4"/>
<rect x="171.88" y="123.64" width="1.42" height="10.3" fill="#a9afc4"/>
<rect x="173.72" y="123.64" width="1.42" height="10.3" fill="#8f98b4"/>
<rect x="175.57" y="123.64" width="1.42" height="10.3" fill="#d7d7d7"/>
<rect x="177.41" y="123.64" width="1.42" height="10.3" fill="#d7d7d7"/>
<rect x="179.25" y="123.64" width="1.42" height="10.3" fill="#d7d7d7"/>
<rect x="181.09" y="123.64" width="1.42" height="10.3" fill="#d7d7d7"/>
<rect x="182.94" y="123.64" width="1.42" height="10.3" fill="#d7d7d7"/>
<rect x="184.78" y="123.64" width="1.42" height="10.3" fill="#d7d7d7"/>
<rect x="186.62" y="123.64" width="1.42" height="10.3" fill="#d7d7d7"/>
<rect x="188.47" y="123.64" width="1.42" height="10.3" fill="#d7d7d7"/>
<rect x="190.31" y="123.64" width="1.42" height="10.3" fill="#d7d7d7"/>
<rect x="192.15" y="123.64" width="1.42" height="10.3" fill="#92c0e8"/>
<rect x="194.00" y="123.64" width="1.42" height="10.3" fill="#a2c9eb"/>
<rect x="195.84" y="123.64" width="1.42" height="10.3" fill="#92c0e8"/>
<rect x="197.68" y="123.64" width="1.42" height="10.3" fill="#d7d7d7"/>
<rect x="199.52" y="123.64" width="1.42" height="10.3" fill="#d7d7d7"/>
<rect x="201.37" y="123.64" width="1.42" height="10.3" fill="#d7d7d7"/>
<rect x="203.21" y="123.64" width="1.42" height="10.3" fill="#d7d7d7"/>
<rect x="205.05" y="123.64" width="1.42" height="10.3" fill="#d7d7d7"/>
<rect x="206.90" y="123.64" width="1.42" height="10.3" fill="#d7d7d7"/>
<rect x="208.74" y="123.64" width="1.42" height="10.3" fill="#d7d7d7"/>
<rect x="210.58" y="123.64" width="1.42" height="10.3" fill="#d7d7d7"/>
<rect x="212.43" y="123.64" width="1.42" height="10.3" fill="#d7d7d7"/>
<rect x="214.27" y="123.64" width="1.42" height="10.3" fill="#d7d7d7"/>
<rect x="216.11" y="123.64" width="1.42" height="10.3" fill="#d7d7d7"/>
<rect x="217.95" y="123.64" width="1.42" height="10.3" fill="#d7d7d7"/>
<rect x="219.80" y="123.64" width="1.42" height="10.3" fill="#d7d7d7"/>
<rect x="221.64" y="123.64" width="1.42" height="10.3" fill="#d7d7d7"/>
<rect x="223.48" y="123.64" width="1.42" height="10.3" fill="#d7d7d7"/>
<rect x="225.33" y="123.64" width="1.42" height="10.3" fill="#d7d7d7"/>
<rect x="227.17" y="123.64" width="1.42" height="10.3" fill="#d7d7d7"/>
<rect x="229.01" y="123.64" width="1.42" height="10.3" fill="#d7d7d7"/>
<rect x="230.86" y="123.64" width="1.42" height="10.3" fill="#d7d7d7"/>
<rect x="232.70" y="123.64" width="1.42" height="10.3" fill="#d7d7d7"/>
<rect x="234.54" y="123.64" width="1.42" height="10.3" fill="#d7d7d7"/>
<rect x="236.38" y="123.64" width="1.42" height="10.3" fill="#d7d7d7"/>
<rect x="238.23" y="123.64" width="1.42" height="10.3" fill="#d7d7d7"/>
<rect x="240.07" y="123.64" width="1.42" height="10.3" fill="#d7d7d7"/>
<rect x="241.91" y="123.64" width="1.42" height="10.3" fill="#4a5a8c"/>
<rect x="243.76" y="123.64" width="1.42" height="10.3" fill="#a9afc4"/>
<rect x="245.60" y="123.64" width="1.42" height="10.3" fill="#8f98b4"/>
<rect x="247.44" y="123.64" width="1.42" height="10.3" fill="#a9afc4"/>
<rect x="249.29" y="123.64" width="1.42" height="10.3" fill="#717e9f"/>
<rect x="251.13" y="123.64" width="1.42" height="10.3" fill="#a9afc4"/>
<rect x="252.97" y="123.64" width="1.42" height="10.3" fill="#8f98b4"/>
<rect x="254.81" y="123.64" width="1.42" height="10.3" fill="#a9afc4"/>
<rect x="256.66" y="123.64" width="1.42" height="10.3" fill="#717e9f"/>
<rect x="258.50" y="123.64" width="1.42" height="10.3" fill="#a9afc4"/>
<rect x="260.34" y="123.64" width="1.42" height="10.3" fill="#8f98b4"/>
<rect x="262.19" y="123.64" width="1.42" height="10.3" fill="#a9afc4"/>
<rect x="264.03" y="123.64" width="1.42" height="10.3" fill="#717e9f"/>
<rect x="265.87" y="123.64" width="1.42" height="10.3" fill="#a9afc4"/>
<rect x="267.72" y="123.64" width="1.42" height="10.3" fill="#8f98b4"/>
<rect x="269.56" y="123.64" width="1.42" height="10.3" fill="#a9afc4"/>
<rect x="271.40" y="123.64" width="1.42" height="10.3" fill="#717e9f"/>
<rect x="273.25" y="123.64" width="1.42" height="10.3" fill="#a9afc4"/>
<rect x="275.09" y="123.64" width="1.42" height="10.3" fill="#8f98b4"/>
<rect x="276.93" y="123.64" width="1.42" height="10.3" fill="#92c0e8"/>
<rect x="278.77" y="123.64" width="1.42" height="10.3" fill="#a2c9eb"/>
<rect x="280.62" y="123.64" width="1.42" height="10.3" fill="#92c0e8"/>
<rect x="282.46" y="123.64" width="1.42" height="10.3" fill="#92c0e8"/>
<rect x="284.30" y="123.64" width="1.42" height="10.3" fill="#a2c9eb"/>
<rect x="286.15" y="123.64" width="1.42" height="10.3" fill="#92c0e8"/>
<rect x="287.99" y="123.64" width="1.42" height="10.3" fill="#92c0e8"/>
<rect x="289.83" y="123.64" width="1.42" height="10.3" fill="#a2c9eb"/>
<rect x="291.68" y="123.64" width="1.42" height="10.3" fill="#92c0e8"/>
<rect x="293.52" y="123.64" width="1.42" height="10.3" fill="#92c0e8"/>
<rect x="295.36" y="123.64" width="1.42" height="10.3" fill="#a2c9eb"/>
<rect x="297.20" y="123.64" width="1.42" height="10.3" fill="#92c0e8"/>
<rect x="299.05" y="123.64" width="1.42" height="10.3" fill="#92c0e8"/>
<rect x="300.89" y="123.64" width="1.42" height="10.3" fill="#a2c9eb"/>
<rect x="302.73" y="123.64" width="1.42" height="10.3" fill="#d7d7d7"/>
<rect x="304.58" y="123.64" width="1.42" height="10.3" fill="#d7d7d7"/>
<rect x="306.42" y="123.64" width="1.42" height="10.3" fill="#d7d7d7"/>
<rect x="308.26" y="123.64" width="1.42" height="10.3" fill="#d7d7d7"/>
<rect x="310.11" y="123.64" width="1.42" height="10.3" fill="#d7d7d7"/>
<rect x="311.95" y="123.64" width="1.42" height="10.3" fill="#d7d7d7"/>
<rect x="313.79" y="123.64" width="1.42" height="10.3" fill="#d7d7d7"/>
<rect x="315.63" y="123.64" width="1.42" height="10.3" fill="#d7d7d7"/>
<rect x="317.48" y="123.64" width="1.42" height="10.3" fill="#d7d7d7"/>
<rect x="319.32" y="123.64" width="1.42" height="10.3" fill="#d7d7d7"/>
<rect x="321.16" y="123.64" width="1.42" height="10.3" fill="#d7d7d7"/>
<rect x="323.01" y="123.64" width="1.42" height="10.3" fill="#d7d7d7"/>
<rect x="324.85" y="123.64" width="1.42" height="10.3" fill="#d7d7d7"/>
<rect x="326.69" y="123.64" width="1.42" height="10.3" fill="#d7d7d7"/>
<rect x="328.54" y="123.64" width="1.42" height="10.3" fill="#d7d7d7"/>
<rect x="330.38" y="123.64" width="1.42" height="10.3" fill="#d7d7d7"/>
<rect x="332.22" y="123.64" width="1.42" height="10.3" fill="#d7d7d7"/>
<rect x="334.06" y="123.64" width="1.42" height="10.3" fill="#d7d7d7"/>
<rect x="335.91" y="123.64" width="1.42" height="10.3" fill="#d7d7d7"/>
<rect x="337.75" y="123.64" width="1.42" height="10.3" fill="#d7d7d7"/>
<rect x="339.59" y="123.64" width="1.42" height="10.3" fill="#d7d7d7"/>
<rect x="341.44" y="123.64" width="1.42" height="10.3" fill="#d7d7d7"/>
<rect x="343.28" y="123.64" width="1.42" height="10.3" fill="#d7d7d7"/>
<rect x="345.12" y="123.64" width="1.42" height="10.3" fill="#d7d7d7"/>
<rect x="346.97" y="123.64" width="1.42" height="10.3" fill="#d7d7d7"/>
<rect x="348.81" y="123.64" width="1.42" height="10.3" fill="#d7d7d7"/>
<rect x="350.65" y="123.64" width="1.42" height="10.3" fill="#d7d7d7"/>
<rect x="352.49" y="123.64" width="1.42" height="10.3" fill="#d7d7d7"/>
<rect x="354.34" y="123.64" width="1.42" height="10.3" fill="#d7d7d7"/>
<rect x="356.18" y="123.64" width="1.42" height="10.3" fill="#d7d7d7"/>
<rect x="358.02" y="123.64" width="1.42" height="10.3" fill="#d7d7d7"/>
<rect x="359.87" y="123.64" width="1.42" height="10.3" fill="#d7d7d7"/>
<rect x="361.71" y="123.64" width="1.42" height="10.3" fill="#d7d7d7"/>
<rect x="363.55" y="123.64" width="1.42" height="10.3" fill="#d7d7d7"/>
<rect x="365.39" y="123.64" width="1.42" height="10.3" fill="#d7d7d7"/>
<rect x="367.24" y="123.64" width="1.42" height="10.3" fill="#d7d7d7"/>
<rect x="369.08" y="123.64" width="1.42" height="10.3" fill="#d7d7d7"/>
<rect x="370.92" y="123.64" width="1.42" height="10.3" fill="#d7d7d7"/>
<rect x="372.77" y="123.64" width="1.42" height="10.3" fill="#d7d7d7"/>
<rect x="374.61" y="123.64" width="1.42" height="10.3" fill="#d7d7d7"/>
<rect x="376.45" y="123.64" width="1.42" height="10.3" fill="#d7d7d7"/>
<rect x="378.30" y="123.64" width="1.42" height="10.3" fill="#d7d7d7"/>
<rect x="380.14" y="123.64" width="1.42" height="10.3" fill="#d7d7d7"/>
<rect x="381.98" y="123.64" width="1.42" height="10.3" fill="#d7d7d7"/>
<rect x="383.82" y="123.64" width="1.42" height="10.3" fill="#d7d7d7"/>
<rect x="385.67" y="123.64" width="1.42" height="10.3" fill="#d7d7d7"/>
<rect x="387.51" y="123.64" width="1.42" height="10.3" fill="#d7d7d7"/>
<rect x="389.35" y="123.64" width="1.42" height="10.3" fill="#d7d7d7"/>
<rect x="391.20" y="123.64" width="1.42" height="10.3" fill="#d7d7d7"/>
<rect x="393.04" y="123.64" width="1.42" height="10.3" fill="#d7d7d7"/>
<rect x="61.30" y="135.20" width="1.42" height="10.3" fill="#d7d7d7"/>
<rect x="63.14" y="135.20" width="1.42" height="10.3" fill="#d7d7d7"/>
<rect x="64.99" y="135.20" width="1.42" height="10.3" fill="#d7d7d7"/>
<rect x="68.67" y="135.20" width="1.42" height="10.3" fill="#92c0e8"/>
<rect x="70.52" y="135.20" width="1.42" height="10.3" fill="#717e9f"/>
<rect x="72.36" y="135.20" width="1.42" height="10.3" fill="#8f98b4"/>
<rect x="74.20" y="135.20" width="1.42" height="10.3" fill="#d7d7d7"/>
<rect x="77.89" y="135.20" width="1.42" height="10.3" fill="#4a5a8c"/>
<rect x="79.73" y="135.20" width="1.42" height="10.3" fill="#4a5a8c"/>
<rect x="81.57" y="135.20" width="1.42" height="10.3" fill="#d7d7d7"/>
<rect x="83.42" y="135.20" width="1.42" height="10.3" fill="#d7d7d7"/>
<rect x="85.26" y="135.20" width="1.42" height="10.3" fill="#d7d7d7"/>
<rect x="87.10" y="135.20" width="1.42" height="10.3" fill="#d7d7d7"/>
<rect x="88.94" y="135.20" width="1.42" height="10.3" fill="#d7d7d7"/>
<rect x="90.79" y="135.20" width="1.42" height="10.3" fill="#d7d7d7"/>
<rect x="92.63" y="135.20" width="1.42" height="10.3" fill="#d7d7d7"/>
<rect x="94.47" y="135.20" width="1.42" height="10.3" fill="#d7d7d7"/>
<rect x="96.32" y="135.20" width="1.42" height="10.3" fill="#d7d7d7"/>
<rect x="98.16" y="135.20" width="1.42" height="10.3" fill="#d7d7d7"/>
<rect x="100.00" y="135.20" width="1.42" height="10.3" fill="#d7d7d7"/>
<rect x="101.85" y="135.20" width="1.42" height="10.3" fill="#d7d7d7"/>
<rect x="103.69" y="135.20" width="1.42" height="10.3" fill="#d7d7d7"/>
<rect x="107.38" y="135.20" width="1.42" height="10.3" fill="#d7d7d7"/>
<rect x="109.22" y="135.20" width="1.42" height="10.3" fill="#717e9f"/>
<rect x="111.06" y="135.20" width="1.42" height="10.3" fill="#d7d7d7"/>
<rect x="112.90" y="135.20" width="1.42" height="10.3" fill="#d7d7d7"/>
<rect x="114.75" y="135.20" width="1.42" height="10.3" fill="#8f98b4"/>
<rect x="116.59" y="135.20" width="1.42" height="10.3" fill="#92c0e8"/>
<rect x="118.43" y="135.20" width="1.42" height="10.3" fill="#92c0e8"/>
<rect x="120.28" y="135.20" width="1.42" height="10.3" fill="#92c0e8"/>
<rect x="122.12" y="135.20" width="1.42" height="10.3" fill="#d7d7d7"/>
<rect x="123.96" y="135.20" width="1.42" height="10.3" fill="#d7d7d7"/>
<rect x="125.80" y="135.20" width="1.42" height="10.3" fill="#d7d7d7"/>
<rect x="127.65" y="135.20" width="1.42" height="10.3" fill="#d7d7d7"/>
<rect x="129.49" y="135.20" width="1.42" height="10.3" fill="#d7d7d7"/>
<rect x="131.33" y="135.20" width="1.42" height="10.3" fill="#d7d7d7"/>
<rect x="133.18" y="135.20" width="1.42" height="10.3" fill="#d7d7d7"/>
<rect x="135.02" y="135.20" width="1.42" height="10.3" fill="#d7d7d7"/>
<rect x="136.86" y="135.20" width="1.42" height="10.3" fill="#d7d7d7"/>
<rect x="140.55" y="135.20" width="1.42" height="10.3" fill="#d7d7d7"/>
<rect x="142.39" y="135.20" width="1.42" height="10.3" fill="#92c0e8"/>
<rect x="144.24" y="135.20" width="1.42" height="10.3" fill="#d7d7d7"/>
<rect x="146.08" y="135.20" width="1.42" height="10.3" fill="#d7d7d7"/>
<rect x="147.92" y="135.20" width="1.42" height="10.3" fill="#717e9f"/>
<rect x="149.76" y="135.20" width="1.42" height="10.3" fill="#d7d7d7"/>
<rect x="151.61" y="135.20" width="1.42" height="10.3" fill="#d7d7d7"/>
<rect x="153.45" y="135.20" width="1.42" height="10.3" fill="#d7d7d7"/>
<rect x="155.29" y="135.20" width="1.42" height="10.3" fill="#8f98b4"/>
<rect x="157.14" y="135.20" width="1.42" height="10.3" fill="#92c0e8"/>
<rect x="158.98" y="135.20" width="1.42" height="10.3" fill="#8f98b4"/>
<rect x="160.82" y="135.20" width="1.42" height="10.3" fill="#92c0e8"/>
<rect x="162.66" y="135.20" width="1.42" height="10.3" fill="#d7d7d7"/>
<rect x="164.51" y="135.20" width="1.42" height="10.3" fill="#d7d7d7"/>
<rect x="166.35" y="135.20" width="1.42" height="10.3" fill="#d7d7d7"/>
<rect x="168.19" y="135.20" width="1.42" height="10.3" fill="#d7d7d7"/>
<rect x="170.04" y="135.20" width="1.42" height="10.3" fill="#d7d7d7"/>
<rect x="171.88" y="135.20" width="1.42" height="10.3" fill="#717e9f"/>
<rect x="173.72" y="135.20" width="1.42" height="10.3" fill="#4a5a8c"/>
<rect x="175.57" y="135.20" width="1.42" height="10.3" fill="#717e9f"/>
<rect x="177.41" y="135.20" width="1.42" height="10.3" fill="#4a5a8c"/>
<rect x="179.25" y="135.20" width="1.42" height="10.3" fill="#717e9f"/>
<rect x="181.09" y="135.20" width="1.42" height="10.3" fill="#d7d7d7"/>
<rect x="182.94" y="135.20" width="1.42" height="10.3" fill="#d7d7d7"/>
<rect x="184.78" y="135.20" width="1.42" height="10.3" fill="#d7d7d7"/>
<rect x="186.62" y="135.20" width="1.42" height="10.3" fill="#d7d7d7"/>
<rect x="188.47" y="135.20" width="1.42" height="10.3" fill="#d7d7d7"/>
<rect x="190.31" y="135.20" width="1.42" height="10.3" fill="#d7d7d7"/>
<rect x="192.15" y="135.20" width="1.42" height="10.3" fill="#d7d7d7"/>
<rect x="194.00" y="135.20" width="1.42" height="10.3" fill="#d7d7d7"/>
<rect x="195.84" y="135.20" width="1.42" height="10.3" fill="#d7d7d7"/>
<rect x="197.68" y="135.20" width="1.42" height="10.3" fill="#717e9f"/>
<rect x="199.52" y="135.20" width="1.42" height="10.3" fill="#d7d7d7"/>
<rect x="201.37" y="135.20" width="1.42" height="10.3" fill="#d7d7d7"/>
<rect x="203.21" y="135.20" width="1.42" height="10.3" fill="#d7d7d7"/>
<rect x="205.05" y="135.20" width="1.42" height="10.3" fill="#d7d7d7"/>
<rect x="206.90" y="135.20" width="1.42" height="10.3" fill="#d7d7d7"/>
<rect x="208.74" y="135.20" width="1.42" height="10.3" fill="#d7d7d7"/>
<rect x="210.58" y="135.20" width="1.42" height="10.3" fill="#d7d7d7"/>
<rect x="212.43" y="135.20" width="1.42" height="10.3" fill="#d7d7d7"/>
<rect x="214.27" y="135.20" width="1.42" height="10.3" fill="#d7d7d7"/>
<rect x="216.11" y="135.20" width="1.42" height="10.3" fill="#d7d7d7"/>
<rect x="217.95" y="135.20" width="1.42" height="10.3" fill="#d7d7d7"/>
<rect x="219.80" y="135.20" width="1.42" height="10.3" fill="#d7d7d7"/>
<rect x="221.64" y="135.20" width="1.42" height="10.3" fill="#717e9f"/>
<rect x="223.48" y="135.20" width="1.42" height="10.3" fill="#d7d7d7"/>
<rect x="225.33" y="135.20" width="1.42" height="10.3" fill="#d7d7d7"/>
<rect x="227.17" y="135.20" width="1.42" height="10.3" fill="#d7d7d7"/>
<rect x="229.01" y="135.20" width="1.42" height="10.3" fill="#d7d7d7"/>
<rect x="230.86" y="135.20" width="1.42" height="10.3" fill="#4a5a8c"/>
<rect x="232.70" y="135.20" width="1.42" height="10.3" fill="#8f98b4"/>
<rect x="234.54" y="135.20" width="1.42" height="10.3" fill="#d7d7d7"/>
<rect x="236.38" y="135.20" width="1.42" height="10.3" fill="#d7d7d7"/>
<rect x="238.23" y="135.20" width="1.42" height="10.3" fill="#d7d7d7"/>
<rect x="240.07" y="135.20" width="1.42" height="10.3" fill="#d7d7d7"/>
<rect x="241.91" y="135.20" width="1.42" height="10.3" fill="#92c0e8"/>
<rect x="243.76" y="135.20" width="1.42" height="10.3" fill="#92c0e8"/>
<rect x="245.60" y="135.20" width="1.42" height="10.3" fill="#4a5a8c"/>
<rect x="247.44" y="135.20" width="1.42" height="10.3" fill="#8f98b4"/>
<rect x="249.29" y="135.20" width="1.42" height="10.3" fill="#92c0e8"/>
<rect x="251.13" y="135.20" width="1.42" height="10.3" fill="#8f98b4"/>
<rect x="252.97" y="135.20" width="1.42" height="10.3" fill="#92c0e8"/>
<rect x="254.81" y="135.20" width="1.42" height="10.3" fill="#8f98b4"/>
<rect x="256.66" y="135.20" width="1.42" height="10.3" fill="#92c0e8"/>
<rect x="258.50" y="135.20" width="1.42" height="10.3" fill="#d7d7d7"/>
<rect x="260.34" y="135.20" width="1.42" height="10.3" fill="#d7d7d7"/>
<rect x="262.19" y="135.20" width="1.42" height="10.3" fill="#d7d7d7"/>
<rect x="264.03" y="135.20" width="1.42" height="10.3" fill="#d7d7d7"/>
<rect x="265.87" y="135.20" width="1.42" height="10.3" fill="#d7d7d7"/>
<rect x="267.72" y="135.20" width="1.42" height="10.3" fill="#d7d7d7"/>
<rect x="269.56" y="135.20" width="1.42" height="10.3" fill="#d7d7d7"/>
<rect x="271.40" y="135.20" width="1.42" height="10.3" fill="#d7d7d7"/>
<rect x="273.25" y="135.20" width="1.42" height="10.3" fill="#d7d7d7"/>
<rect x="275.09" y="135.20" width="1.42" height="10.3" fill="#d7d7d7"/>
<rect x="276.93" y="135.20" width="1.42" height="10.3" fill="#8f98b4"/>
<rect x="278.77" y="135.20" width="1.42" height="10.3" fill="#717e9f"/>
<rect x="280.62" y="135.20" width="1.42" height="10.3" fill="#d7d7d7"/>
<rect x="282.46" y="135.20" width="1.42" height="10.3" fill="#d7d7d7"/>
<rect x="284.30" y="135.20" width="1.42" height="10.3" fill="#d7d7d7"/>
<rect x="286.15" y="135.20" width="1.42" height="10.3" fill="#d7d7d7"/>
<rect x="287.99" y="135.20" width="1.42" height="10.3" fill="#d7d7d7"/>
<rect x="289.83" y="135.20" width="1.42" height="10.3" fill="#d7d7d7"/>
<rect x="291.68" y="135.20" width="1.42" height="10.3" fill="#d7d7d7"/>
<rect x="293.52" y="135.20" width="1.42" height="10.3" fill="#d7d7d7"/>
<rect x="295.36" y="135.20" width="1.42" height="10.3" fill="#d7d7d7"/>
<rect x="297.20" y="135.20" width="1.42" height="10.3" fill="#d7d7d7"/>
<rect x="299.05" y="135.20" width="1.42" height="10.3" fill="#d7d7d7"/>
<rect x="300.89" y="135.20" width="1.42" height="10.3" fill="#d7d7d7"/>
<rect x="302.73" y="135.20" width="1.42" height="10.3" fill="#717e9f"/>
<rect x="304.58" y="135.20" width="1.42" height="10.3" fill="#5d6b96"/>
<rect x="306.42" y="135.20" width="1.42" height="10.3" fill="#717e9f"/>
<rect x="308.26" y="135.20" width="1.42" height="10.3" fill="#8f98b4"/>
<rect x="310.11" y="135.20" width="1.42" height="10.3" fill="#5d6b96"/>
<rect x="311.95" y="135.20" width="1.42" height="10.3" fill="#717e9f"/>
<rect x="313.79" y="135.20" width="1.42" height="10.3" fill="#b0b7cc"/>
<rect x="315.63" y="135.20" width="1.42" height="10.3" fill="#8f98b4"/>
<rect x="317.48" y="135.20" width="1.42" height="10.3" fill="#717e9f"/>
<rect x="319.32" y="135.20" width="1.42" height="10.3" fill="#a9afc4"/>
<rect x="321.16" y="135.20" width="1.42" height="10.3" fill="#8f98b4"/>
<rect x="323.01" y="135.20" width="1.42" height="10.3" fill="#b0b7cc"/>
<rect x="324.85" y="135.20" width="1.42" height="10.3" fill="#8f98b4"/>
<rect x="326.69" y="135.20" width="1.42" height="10.3" fill="#717e9f"/>
<rect x="328.54" y="135.20" width="1.42" height="10.3" fill="#a9afc4"/>
<rect x="330.38" y="135.20" width="1.42" height="10.3" fill="#8f98b4"/>
<rect x="332.22" y="135.20" width="1.42" height="10.3" fill="#b0b7cc"/>
<rect x="334.06" y="135.20" width="1.42" height="10.3" fill="#8f98b4"/>
<rect x="335.91" y="135.20" width="1.42" height="10.3" fill="#717e9f"/>
<rect x="337.75" y="135.20" width="1.42" height="10.3" fill="#a9afc4"/>
<rect x="339.59" y="135.20" width="1.42" height="10.3" fill="#8f98b4"/>
<rect x="341.44" y="135.20" width="1.42" height="10.3" fill="#b0b7cc"/>
<rect x="343.28" y="135.20" width="1.42" height="10.3" fill="#8f98b4"/>
<rect x="345.12" y="135.20" width="1.42" height="10.3" fill="#717e9f"/>
<rect x="346.97" y="135.20" width="1.42" height="10.3" fill="#a9afc4"/>
<rect x="348.81" y="135.20" width="1.42" height="10.3" fill="#8f98b4"/>
<rect x="350.65" y="135.20" width="1.42" height="10.3" fill="#b0b7cc"/>
<rect x="352.49" y="135.20" width="1.42" height="10.3" fill="#8f98b4"/>
<rect x="354.34" y="135.20" width="1.42" height="10.3" fill="#717e9f"/>
<rect x="356.18" y="135.20" width="1.42" height="10.3" fill="#a9afc4"/>
<rect x="358.02" y="135.20" width="1.42" height="10.3" fill="#8f98b4"/>
<rect x="359.87" y="135.20" width="1.42" height="10.3" fill="#b0b7cc"/>
<rect x="361.71" y="135.20" width="1.42" height="10.3" fill="#a2c9eb"/>
<rect x="363.55" y="135.20" width="1.42" height="10.3" fill="#92c0e8"/>
<rect x="365.39" y="135.20" width="1.42" height="10.3" fill="#92c0e8"/>
<rect x="367.24" y="135.20" width="1.42" height="10.3" fill="#a2c9eb"/>
<rect x="369.08" y="135.20" width="1.42" height="10.3" fill="#92c0e8"/>
<rect x="370.92" y="135.20" width="1.42" height="10.3" fill="#92c0e8"/>
<rect x="372.77" y="135.20" width="1.42" height="10.3" fill="#a2c9eb"/>
<rect x="374.61" y="135.20" width="1.42" height="10.3" fill="#92c0e8"/>
<rect x="376.45" y="135.20" width="1.42" height="10.3" fill="#92c0e8"/>
<rect x="378.30" y="135.20" width="1.42" height="10.3" fill="#a2c9eb"/>
<rect x="380.14" y="135.20" width="1.42" height="10.3" fill="#92c0e8"/>
<rect x="381.98" y="135.20" width="1.42" height="10.3" fill="#92c0e8"/>
<rect x="383.82" y="135.20" width="1.42" height="10.3" fill="#a2c9eb"/>
<rect x="385.67" y="135.20" width="1.42" height="10.3" fill="#92c0e8"/>
<rect x="387.51" y="135.20" width="1.42" height="10.3" fill="#92c0e8"/>
<rect x="389.35" y="135.20" width="1.42" height="10.3" fill="#a2c9eb"/>
<rect x="391.20" y="135.20" width="1.42" height="10.3" fill="#92c0e8"/>
<rect x="393.04" y="135.20" width="1.42" height="10.3" fill="#92c0e8"/>
<line x1="58.2" y1="148.3" x2="397.6" y2="148.3" stroke="#111" stroke-width="0.9"/>
<line x1="60.90" y1="148.3" x2="60.90" y2="151.3" stroke="#111" stroke-width="0.8"/>
<text x="60.90" y="161.0" font-size="7.5" text-anchor="middle" font-weight="normal" font-style="normal" fill="#111" stroke="#111" stroke-width="0.15">0</text>
<line x1="143.84" y1="148.3" x2="143.84" y2="151.3" stroke="#111" stroke-width="0.8"/>
<text x="143.84" y="161.0" font-size="7.5" text-anchor="middle" font-weight="normal" font-style="normal" fill="#111" stroke="#111" stroke-width="0.15">45</text>
<line x1="226.77" y1="148.3" x2="226.77" y2="151.3" stroke="#111" stroke-width="0.8"/>
<text x="226.77" y="161.0" font-size="7.5" text-anchor="middle" font-weight="normal" font-style="normal" fill="#111" stroke="#111" stroke-width="0.15">90</text>
<line x1="309.70" y1="148.3" x2="309.70" y2="151.3" stroke="#111" stroke-width="0.8"/>
<text x="309.70" y="161.0" font-size="7.5" text-anchor="middle" font-weight="normal" font-style="normal" fill="#111" stroke="#111" stroke-width="0.15">135</text>
<line x1="394.48" y1="148.3" x2="394.48" y2="151.3" stroke="#111" stroke-width="0.8"/>
<text x="393.28" y="161.0" font-size="7.5" text-anchor="middle" font-weight="normal" font-style="normal" fill="#111" stroke="#111" stroke-width="0.15">181</text>
<text x="229.7" y="174.0" font-size="8.3" text-anchor="middle" font-weight="normal" font-style="normal" fill="#111" stroke="#111" stroke-width="0.15">Cases</text>
<line x1="407.5" y1="19.3" x2="407.5" y2="149.2" stroke="#111" stroke-width="0.9"/>
<line x1="407.5" y1="148.8" x2="487.8" y2="148.8" stroke="#111" stroke-width="0.9"/>
<line x1="407.50" y1="148.8" x2="407.50" y2="151.3" stroke="#111" stroke-width="0.8"/>
<line x1="427.50" y1="148.8" x2="427.50" y2="151.3" stroke="#111" stroke-width="0.8"/>
<line x1="447.50" y1="148.8" x2="447.50" y2="151.3" stroke="#111" stroke-width="0.8"/>
<line x1="467.50" y1="148.8" x2="467.50" y2="151.3" stroke="#111" stroke-width="0.8"/>
<line x1="487.50" y1="148.8" x2="487.50" y2="151.3" stroke="#111" stroke-width="0.8"/>
<text x="407.5" y="161.0" font-size="7.5" text-anchor="middle" font-weight="normal" font-style="normal" fill="#111" stroke="#111" stroke-width="0.15">0</text>
<text x="487.5" y="161.0" font-size="7.5" text-anchor="middle" font-weight="normal" font-style="normal" fill="#111" stroke="#111" stroke-width="0.15">86</text>
<text x="446.2" y="174.1" font-size="8.6" text-anchor="middle" font-weight="normal" font-style="normal" fill="#111" stroke="#111" stroke-width="0.15">Frequency (n)</text>
<rect x="407.95" y="21.05" width="28.35" height="7.4" fill="#bd4244"/>
<rect x="407.95" y="32.61" width="54.45" height="7.4" fill="#bd4244"/>
<rect x="407.95" y="44.17" width="14.95" height="7.4" fill="#bd4244"/>
<rect x="407.95" y="55.73" width="25.55" height="7.4" fill="#bd4244"/>
<rect x="407.95" y="67.29" width="19.85" height="7.4" fill="#bd4244"/>
<rect x="407.95" y="78.85" width="49.15" height="7.4" fill="#000"/>
<rect x="407.95" y="90.41" width="15.05" height="7.4" fill="#6eaae0"/>
<rect x="423.00" y="90.41" width="20.30" height="7.4" fill="#6a79a2"/>
<rect x="443.30" y="90.41" width="4.40" height="7.4" fill="#243f86"/>
<rect x="407.95" y="101.97" width="6.45" height="7.4" fill="#8cc65c"/>
<rect x="414.40" y="101.97" width="4.80" height="7.4" fill="#6eaae0"/>
<rect x="419.20" y="101.97" width="20.80" height="7.4" fill="#6a79a2"/>
<rect x="440.00" y="101.97" width="8.00" height="7.4" fill="#243f86"/>
<rect x="407.95" y="113.53" width="7.45" height="7.4" fill="#6eaae0"/>
<rect x="415.40" y="113.53" width="4.80" height="7.4" fill="#6a79a2"/>
<rect x="420.20" y="113.53" width="2.90" height="7.4" fill="#243f86"/>
<rect x="407.95" y="125.09" width="18.55" height="7.4" fill="#6eaae0"/>
<rect x="426.50" y="125.09" width="26.40" height="7.4" fill="#6a79a2"/>
<rect x="452.90" y="125.09" width="1.90" height="7.4" fill="#243f86"/>
<rect x="407.95" y="136.65" width="27.25" height="7.4" fill="#6eaae0"/>
<rect x="435.20" y="136.65" width="43.30" height="7.4" fill="#6a79a2"/>
<rect x="478.50" y="136.65" width="9.40" height="7.4" fill="#243f86"/>
<rect x="105.4" y="184.9" width="4.0" height="4.0" fill="#bd4244"/>
<text x="112.3" y="189.50" font-size="7.42" text-anchor="start" font-weight="normal" font-style="normal" fill="#111" stroke="#111" stroke-width="0.15">Deletion</text>
<rect x="105.4" y="195.8" width="4.0" height="4.0" fill="#000"/>
<text x="112.3" y="200.40" font-size="7.42" text-anchor="start" font-weight="normal" font-style="normal" fill="#111" stroke="#111" stroke-width="0.15">IGHV mut</text>
<rect x="151.6" y="184.9" width="4.0" height="4.0" fill="#2b3f7c"/>
<text x="158.5" y="189.50" font-size="7.42" text-anchor="start" font-weight="normal" font-style="normal" fill="#111" stroke="#111" stroke-width="0.15">Clonal and subclonal mutation/s</text>
<rect x="151.6" y="195.8" width="4.0" height="4.0" fill="#7382a8"/>
<text x="158.5" y="200.40" font-size="7.42" text-anchor="start" font-weight="normal" font-style="normal" fill="#111" stroke="#111" stroke-width="0.15">Clonal mutation/s</text>
<rect x="151.6" y="206.7" width="4.0" height="4.0" fill="#7ab3e2"/>
<text x="158.5" y="211.30" font-size="7.42" text-anchor="start" font-weight="normal" font-style="normal" fill="#111" stroke="#111" stroke-width="0.15">Subclonal mutation/s</text>
<rect x="270.4" y="184.9" width="4.0" height="4.0" fill="#3d6b52"/>
<text x="278.0" y="189.50" font-size="7.42" text-anchor="start" font-weight="normal" font-style="normal" fill="#111" stroke="#111" stroke-width="0.15"><tspan font-style="italic">ATM</tspan> somatic and pathogenic germline mutation/s</text>
<rect x="270.4" y="195.8" width="4.0" height="4.0" fill="#93cd63"/>
<text x="278.0" y="200.40" font-size="7.42" text-anchor="start" font-weight="normal" font-style="normal" fill="#111" stroke="#111" stroke-width="0.15"><tspan font-style="italic">ATM</tspan> pathogenic germline mutation/s</text>
<text x="71.39999999999999" y="239.4" font-size="8.0" text-anchor="middle" font-weight="normal" font-style="normal" fill="#111" stroke="#111" stroke-width="0.15"><tspan font-style="italic">TP53</tspan> (47/405)</text>
<path d="M71.10,277.50 L71.10,250.80 A26.7,26.7 0 0 1 84.71,254.53 Z" fill="#243f86" stroke="#fff" stroke-width="1.25" stroke-linejoin="round"/>
<path d="M71.10,277.50 L84.71,254.53 A26.7,26.7 0 0 1 97.79,278.39 Z" fill="#6a79a2" stroke="#fff" stroke-width="1.25" stroke-linejoin="round"/>
<path d="M71.10,277.50 L97.79,278.39 A26.7,26.7 0 0 1 55.99,299.51 Z" fill="#6eaae0" stroke="#fff" stroke-width="1.25" stroke-linejoin="round"/>
<path d="M71.10,277.50 L55.99,299.51 A26.7,26.7 0 0 1 54.55,256.55 Z" fill="#ab1330" stroke="#fff" stroke-width="1.25" stroke-linejoin="round"/>
<path d="M71.10,277.50 L54.55,256.55 A26.7,26.7 0 0 1 57.49,254.53 Z" fill="#eab46e" stroke="#fff" stroke-width="1.25" stroke-linejoin="round"/>
<path d="M71.10,277.50 L57.49,254.53 A26.7,26.7 0 0 1 71.10,250.80 Z" fill="#d5a59b" stroke="#fff" stroke-width="1.25" stroke-linejoin="round"/>
<text x="78.2" y="250.8" font-size="7.6" text-anchor="middle" font-weight="normal" font-style="normal" fill="#111" stroke="#111" stroke-width="0.15">4</text>
<text x="97.2" y="264.6" font-size="7.6" text-anchor="middle" font-weight="normal" font-style="normal" fill="#111" stroke="#111" stroke-width="0.15">8</text>
<text x="90.3" y="306.6" font-size="7.6" text-anchor="middle" font-weight="normal" font-style="normal" fill="#111" stroke="#111" stroke-width="0.15">16</text>
<text x="38.6" y="282.6" font-size="7.6" text-anchor="middle" font-weight="normal" font-style="normal" fill="#111" stroke="#111" stroke-width="0.15">14</text>
<text x="54.2" y="255.0" font-size="7.6" text-anchor="middle" font-weight="normal" font-style="normal" fill="#111" stroke="#111" stroke-width="0.15">1</text>
<text x="62.4" y="250.8" font-size="7.6" text-anchor="middle" font-weight="normal" font-style="normal" fill="#111" stroke="#111" stroke-width="0.15">4</text>
<text x="163.20000000000002" y="239.4" font-size="8.0" text-anchor="middle" font-weight="normal" font-style="normal" fill="#111" stroke="#111" stroke-width="0.15"><tspan font-style="italic">ATM</tspan> (56/398)</text>
<path d="M162.90,277.50 L162.90,250.80 A26.7,26.7 0 0 1 174.48,253.44 Z" fill="#243f86" stroke="#fff" stroke-width="1.25" stroke-linejoin="round"/>
<path d="M162.90,277.50 L174.48,253.44 A26.7,26.7 0 0 1 188.93,283.44 Z" fill="#6a79a2" stroke="#fff" stroke-width="1.25" stroke-linejoin="round"/>
<path d="M162.90,277.50 L188.93,283.44 A26.7,26.7 0 0 1 188.10,286.32 Z" fill="#2f5e42" stroke="#fff" stroke-width="1.25" stroke-linejoin="round"/>
<path d="M162.90,277.50 L188.10,286.32 A26.7,26.7 0 0 1 181.78,296.38 Z" fill="#8cc65c" stroke="#fff" stroke-width="1.25" stroke-linejoin="round"/>
<path d="M162.90,277.50 L181.78,296.38 A26.7,26.7 0 0 1 179.55,298.37 Z" fill="#6eaae0" stroke="#fff" stroke-width="1.25" stroke-linejoin="round"/>
<path d="M162.90,277.50 L179.55,298.37 A26.7,26.7 0 0 1 168.84,303.53 Z" fill="#5b3a1c" stroke="#fff" stroke-width="1.25" stroke-linejoin="round"/>
<path d="M162.90,277.50 L168.84,303.53 A26.7,26.7 0 0 1 142.03,294.15 Z" fill="#ab1330" stroke="#fff" stroke-width="1.25" stroke-linejoin="round"/>
<path d="M162.90,277.50 L142.03,294.15 A26.7,26.7 0 0 1 136.87,283.44 Z" fill="#eab46e" stroke="#fff" stroke-width="1.25" stroke-linejoin="round"/>
<path d="M162.90,277.50 L136.87,283.44 A26.7,26.7 0 0 1 136.87,271.56 Z" fill="#c97f74" stroke="#fff" stroke-width="1.25" stroke-linejoin="round"/>
<path d="M162.90,277.50 L136.87,271.56 A26.7,26.7 0 0 1 162.90,250.80 Z" fill="#d5a59b" stroke="#fff" stroke-width="1.25" stroke-linejoin="round"/>
<text x="169.2" y="250.2" font-size="7.6" text-anchor="middle" font-weight="normal" font-style="normal" fill="#111" stroke="#111" stroke-width="0.15">4</text>
<text x="190.9" y="264.4" font-size="7.6" text-anchor="middle" font-weight="normal" font-style="normal" fill="#111" stroke="#111" stroke-width="0.15">12</text>
<text x="190.6" y="289.7" font-size="7.6" text-anchor="middle" font-weight="normal" font-style="normal" fill="#111" stroke="#111" stroke-width="0.15">1</text>
<text x="187.1" y="296.5" font-size="7.6" text-anchor="middle" font-weight="normal" font-style="normal" fill="#111" stroke="#111" stroke-width="0.15">4</text>
<text x="182.8" y="302.9" font-size="7.6" text-anchor="middle" font-weight="normal" font-style="normal" fill="#111" stroke="#111" stroke-width="0.15">1</text>
<text x="175.6" y="309.4" font-size="7.6" text-anchor="middle" font-weight="normal" font-style="normal" fill="#111" stroke="#111" stroke-width="0.15">4</text>
<text x="151.7" y="309.8" font-size="7.6" text-anchor="middle" font-weight="normal" font-style="normal" fill="#111" stroke="#111" stroke-width="0.15">10</text>
<text x="133.8" y="293.2" font-size="7.6" text-anchor="middle" font-weight="normal" font-style="normal" fill="#111" stroke="#111" stroke-width="0.15">4</text>
<text x="131.9" y="279.6" font-size="7.6" text-anchor="middle" font-weight="normal" font-style="normal" fill="#111" stroke="#111" stroke-width="0.15">4</text>
<text x="142.4" y="254.2" font-size="7.6" text-anchor="middle" font-weight="normal" font-style="normal" fill="#111" stroke="#111" stroke-width="0.15">12</text>
<text x="261.90000000000003" y="239.4" font-size="8.0" text-anchor="middle" font-weight="normal" font-style="normal" fill="#111" stroke="#111" stroke-width="0.15"><tspan font-style="italic">BIRC3</tspan> (40/399)</text>
<path d="M261.60,277.50 L261.60,250.80 A26.7,26.7 0 0 1 273.72,253.71 Z" fill="#243f86" stroke="#fff" stroke-width="1.25" stroke-linejoin="round"/>
<path d="M261.60,277.50 L273.72,253.71 A26.7,26.7 0 0 1 286.99,269.25 Z" fill="#6a79a2" stroke="#fff" stroke-width="1.25" stroke-linejoin="round"/>
<path d="M261.60,277.50 L286.99,269.25 A26.7,26.7 0 0 1 283.20,293.19 Z" fill="#6eaae0" stroke="#fff" stroke-width="1.25" stroke-linejoin="round"/>
<path d="M261.60,277.50 L283.20,293.19 A26.7,26.7 0 0 1 273.72,301.29 Z" fill="#eab46e" stroke="#fff" stroke-width="1.25" stroke-linejoin="round"/>
<path d="M261.60,277.50 L273.72,301.29 A26.7,26.7 0 1 1 261.60,250.80 Z" fill="#d5a59b" stroke="#fff" stroke-width="1.25" stroke-linejoin="round"/>
<text x="267.9" y="250.6" font-size="7.6" text-anchor="middle" font-weight="normal" font-style="normal" fill="#111" stroke="#111" stroke-width="0.15">3</text>
<text x="286.2" y="261.9" font-size="7.6" text-anchor="middle" font-weight="normal" font-style="normal" fill="#111" stroke="#111" stroke-width="0.15">5</text>
<text x="290.7" y="287.8" font-size="7.6" text-anchor="middle" font-weight="normal" font-style="normal" fill="#111" stroke="#111" stroke-width="0.15">6</text>
<text x="282.1" y="304.5" font-size="7.6" text-anchor="middle" font-weight="normal" font-style="normal" fill="#111" stroke="#111" stroke-width="0.15">3</text>
<text x="228.8" y="283.0" font-size="7.6" text-anchor="middle" font-weight="normal" font-style="normal" fill="#111" stroke="#111" stroke-width="0.15">23</text>
<text x="358.8" y="239.4" font-size="8.0" text-anchor="middle" font-weight="normal" font-style="normal" fill="#111" stroke="#111" stroke-width="0.15"><tspan font-style="italic">SF3B1</tspan> (51/401)</text>
<path d="M358.50,277.50 L358.50,250.80 A26.7,26.7 0 0 1 365.01,251.61 Z" fill="#243f86" stroke="#fff" stroke-width="1.25" stroke-linejoin="round"/>
<path d="M358.50,277.50 L365.01,251.61 A26.7,26.7 0 1 1 344.44,300.20 Z" fill="#6a79a2" stroke="#fff" stroke-width="1.25" stroke-linejoin="round"/>
<path d="M358.50,277.50 L344.44,300.20 A26.7,26.7 0 0 1 358.50,250.80 Z" fill="#6eaae0" stroke="#fff" stroke-width="1.25" stroke-linejoin="round"/>
<text x="362.2" y="249.5" font-size="7.6" text-anchor="middle" font-weight="normal" font-style="normal" fill="#111" stroke="#111" stroke-width="0.15">2</text>
<text x="327.5" y="271.8" font-size="7.6" text-anchor="middle" font-weight="normal" font-style="normal" fill="#111" stroke="#111" stroke-width="0.15">21</text>
<text x="387.6" y="294.2" font-size="7.6" text-anchor="middle" font-weight="normal" font-style="normal" fill="#111" stroke="#111" stroke-width="0.15">28</text>
<text x="455.5" y="239.4" font-size="8.0" text-anchor="middle" font-weight="normal" font-style="normal" fill="#111" stroke="#111" stroke-width="0.15"><tspan font-style="italic">NOTCH1</tspan> (86/391)</text>
<path d="M455.20,277.50 L455.20,250.80 A26.7,26.7 0 0 1 473.02,257.61 Z" fill="#243f86" stroke="#fff" stroke-width="1.25" stroke-linejoin="round"/>
<path d="M455.20,277.50 L473.02,257.61 A26.7,26.7 0 1 1 433.49,293.04 Z" fill="#6a79a2" stroke="#fff" stroke-width="1.25" stroke-linejoin="round"/>
<path d="M455.20,277.50 L433.49,293.04 A26.7,26.7 0 0 1 455.20,250.80 Z" fill="#6eaae0" stroke="#fff" stroke-width="1.25" stroke-linejoin="round"/>
<text x="466.4" y="252.7" font-size="7.6" text-anchor="middle" font-weight="normal" font-style="normal" fill="#111" stroke="#111" stroke-width="0.15">10</text>
<text x="477.0" y="303.2" font-size="7.6" text-anchor="middle" font-weight="normal" font-style="normal" fill="#111" stroke="#111" stroke-width="0.15">46</text>
<text x="426.5" y="264.8" font-size="7.6" text-anchor="middle" font-weight="normal" font-style="normal" fill="#111" stroke="#111" stroke-width="0.15">30</text>
<rect x="6.8" y="322.8" width="4.8" height="4.8" fill="#243f86"/>
<text x="14.30" y="327.90" font-size="7.45" text-anchor="start" font-weight="normal" font-style="normal" fill="#111" stroke="#111" stroke-width="0.15">Clonal mut + subclonal mut</text>
<rect x="6.8" y="333.6" width="4.8" height="4.8" fill="#6a79a2"/>
<text x="14.30" y="338.70" font-size="7.45" text-anchor="start" font-weight="normal" font-style="normal" fill="#111" stroke="#111" stroke-width="0.15">Clonal mut</text>
<rect x="6.8" y="344.6" width="4.8" height="4.8" fill="#6eaae0"/>
<text x="14.30" y="349.70" font-size="7.45" text-anchor="start" font-weight="normal" font-style="normal" fill="#111" stroke="#111" stroke-width="0.15">Subclonal mut</text>
<rect x="111.2" y="322.8" width="4.8" height="4.8" fill="#2f5e42"/>
<text x="118.70" y="327.90" font-size="7.45" text-anchor="start" font-weight="normal" font-style="normal" fill="#111" stroke="#111" stroke-width="0.15">Clonal mut + germline pathogenic mut</text>
<rect x="111.2" y="333.6" width="4.8" height="4.8" fill="#8cc65c"/>
<text x="118.70" y="338.70" font-size="7.45" text-anchor="start" font-weight="normal" font-style="normal" fill="#111" stroke="#111" stroke-width="0.15">Germline pathogenic mut</text>
<rect x="249.8" y="322.8" width="4.8" height="4.8" fill="#5b3a1c"/>
<text x="257.30" y="327.90" font-size="7.45" text-anchor="start" font-weight="normal" font-style="normal" fill="#111" stroke="#111" stroke-width="0.15">Clonal mut + subclonal mut + deletion</text>
<rect x="249.8" y="333.6" width="4.8" height="4.8" fill="#ab1330"/>
<text x="257.30" y="338.70" font-size="7.45" text-anchor="start" font-weight="normal" font-style="normal" fill="#111" stroke="#111" stroke-width="0.15">Clonal mut + deletion</text>
<rect x="249.8" y="344.6" width="4.8" height="4.8" fill="#eab46e"/>
<text x="257.30" y="349.70" font-size="7.45" text-anchor="start" font-weight="normal" font-style="normal" fill="#111" stroke="#111" stroke-width="0.15">Subclonal mut + deletion</text>
<rect x="388.40000000000003" y="322.8" width="4.8" height="4.8" fill="#c97f74"/>
<text x="395.90" y="327.90" font-size="7.45" text-anchor="start" font-weight="normal" font-style="normal" fill="#111" stroke="#111" stroke-width="0.15">Germline pathogenic mut + deletion</text>
<rect x="388.40000000000003" y="333.6" width="4.8" height="4.8" fill="#d5a59b"/>
<text x="395.90" y="338.70" font-size="7.45" text-anchor="start" font-weight="normal" font-style="normal" fill="#111" stroke="#111" stroke-width="0.15">Deletion</text>
</svg>
<div id="frame"></div>
</body></html>
